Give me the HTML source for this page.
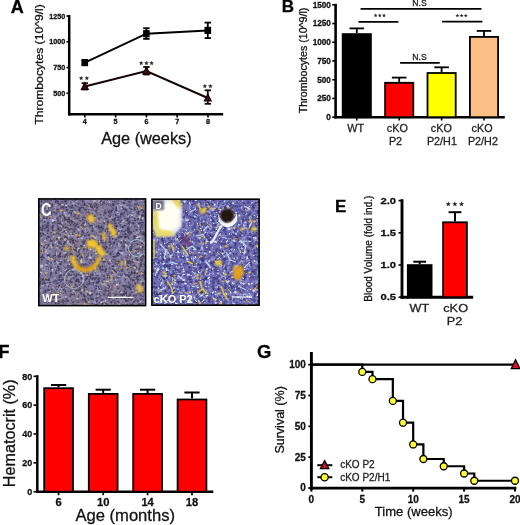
<!DOCTYPE html>
<html><head><meta charset="utf-8"><style>
html,body{margin:0;padding:0;background:#fff;}
body{width:520px;height:525px;overflow:hidden;}
svg{display:block;will-change:transform;font-family:"Liberation Sans",sans-serif;}
</style></head><body>
<svg width="520" height="525" viewBox="0 0 520 525">
<rect width="520" height="525" fill="#fff"/>
<text transform="translate(10.70 12.70)" font-size="18" font-weight="bold" text-anchor="start" fill="#000" stroke="#000" stroke-width="0.28">A</text>
<text transform="translate(43.00 64.50) rotate(-90) scale(1.014 0.970)" font-size="12" font-weight="normal" text-anchor="middle" fill="#111" stroke="#111" stroke-width="0.28">Thrombocytes (10^9/l)</text>
<line x1="69.20" y1="15.00" x2="69.20" y2="115.50" stroke="#000" stroke-width="2.5" stroke-linecap="butt"/>
<line x1="68.00" y1="114.30" x2="223.20" y2="114.30" stroke="#000" stroke-width="2.5" stroke-linecap="butt"/>
<line x1="66.40" y1="93.30" x2="69.20" y2="93.30" stroke="#000" stroke-width="1.6" stroke-linecap="butt"/>
<text transform="translate(65.30 95.90)" font-size="7.2" font-weight="bold" text-anchor="end" fill="#111" stroke="#111" stroke-width="0.28">500</text>
<line x1="66.40" y1="67.55" x2="69.20" y2="67.55" stroke="#000" stroke-width="1.6" stroke-linecap="butt"/>
<text transform="translate(65.30 70.15)" font-size="7.2" font-weight="bold" text-anchor="end" fill="#111" stroke="#111" stroke-width="0.28">750</text>
<line x1="66.40" y1="41.80" x2="69.20" y2="41.80" stroke="#000" stroke-width="1.6" stroke-linecap="butt"/>
<text transform="translate(65.30 44.40)" font-size="7.2" font-weight="bold" text-anchor="end" fill="#111" stroke="#111" stroke-width="0.28">1000</text>
<line x1="66.40" y1="16.05" x2="69.20" y2="16.05" stroke="#000" stroke-width="1.6" stroke-linecap="butt"/>
<text transform="translate(65.30 18.65)" font-size="7.2" font-weight="bold" text-anchor="end" fill="#111" stroke="#111" stroke-width="0.28">1250</text>
<line x1="84.80" y1="114.00" x2="84.80" y2="117.40" stroke="#000" stroke-width="1.6" stroke-linecap="butt"/>
<text transform="translate(84.80 124.30)" font-size="7.2" font-weight="bold" text-anchor="middle" fill="#111" stroke="#111" stroke-width="0.28">4</text>
<line x1="115.60" y1="114.00" x2="115.60" y2="117.40" stroke="#000" stroke-width="1.6" stroke-linecap="butt"/>
<text transform="translate(115.60 124.30)" font-size="7.2" font-weight="bold" text-anchor="middle" fill="#111" stroke="#111" stroke-width="0.28">5</text>
<line x1="146.40" y1="114.00" x2="146.40" y2="117.40" stroke="#000" stroke-width="1.6" stroke-linecap="butt"/>
<text transform="translate(146.40 124.30)" font-size="7.2" font-weight="bold" text-anchor="middle" fill="#111" stroke="#111" stroke-width="0.28">6</text>
<line x1="177.20" y1="114.00" x2="177.20" y2="117.40" stroke="#000" stroke-width="1.6" stroke-linecap="butt"/>
<text transform="translate(177.20 124.30)" font-size="7.2" font-weight="bold" text-anchor="middle" fill="#111" stroke="#111" stroke-width="0.28">7</text>
<line x1="208.00" y1="114.00" x2="208.00" y2="117.40" stroke="#000" stroke-width="1.6" stroke-linecap="butt"/>
<text transform="translate(208.00 124.30)" font-size="7.2" font-weight="bold" text-anchor="middle" fill="#111" stroke="#111" stroke-width="0.28">8</text>
<text transform="translate(146.40 144.10)" font-size="16.27" font-weight="normal" text-anchor="middle" fill="#111" stroke="#111" stroke-width="0.28">Age (weeks)</text>
<polyline points="84.8,62.6 146.4,33.7 207.8,30.4" fill="none" stroke="#000" stroke-width="2"/>
<line x1="84.80" y1="60.50" x2="84.80" y2="64.50" stroke="#000" stroke-width="1.8" stroke-linecap="butt"/>
<line x1="81.60" y1="60.50" x2="88.00" y2="60.50" stroke="#000" stroke-width="1.8" stroke-linecap="butt"/>
<line x1="81.60" y1="64.50" x2="88.00" y2="64.50" stroke="#000" stroke-width="1.8" stroke-linecap="butt"/>
<rect x="81.50" y="59.00" width="6.60" height="7.20" fill="#000"/>
<line x1="146.40" y1="28.20" x2="146.40" y2="38.90" stroke="#000" stroke-width="1.8" stroke-linecap="butt"/>
<line x1="143.20" y1="28.20" x2="149.60" y2="28.20" stroke="#000" stroke-width="1.8" stroke-linecap="butt"/>
<line x1="143.20" y1="38.90" x2="149.60" y2="38.90" stroke="#000" stroke-width="1.8" stroke-linecap="butt"/>
<rect x="143.10" y="30.10" width="6.60" height="7.20" fill="#000"/>
<line x1="207.80" y1="22.60" x2="207.80" y2="38.10" stroke="#000" stroke-width="1.8" stroke-linecap="butt"/>
<line x1="204.60" y1="22.60" x2="211.00" y2="22.60" stroke="#000" stroke-width="1.8" stroke-linecap="butt"/>
<line x1="204.60" y1="38.10" x2="211.00" y2="38.10" stroke="#000" stroke-width="1.8" stroke-linecap="butt"/>
<rect x="204.50" y="26.80" width="6.60" height="7.20" fill="#000"/>
<polyline points="84.8,86.5 146.4,71.0 207.8,98.0" fill="none" stroke="#140304" stroke-width="2"/>
<line x1="84.80" y1="83.20" x2="84.80" y2="89.50" stroke="#140304" stroke-width="1.8" stroke-linecap="butt"/>
<line x1="81.60" y1="83.20" x2="88.00" y2="83.20" stroke="#140304" stroke-width="1.8" stroke-linecap="butt"/>
<line x1="81.60" y1="89.50" x2="88.00" y2="89.50" stroke="#140304" stroke-width="1.8" stroke-linecap="butt"/>
<polygon points="84.8,82.9 88.2,89.3 81.39999999999999,89.3" fill="#400c18" stroke="#140304" stroke-width="1.2"/>
<line x1="146.40" y1="67.00" x2="146.40" y2="74.50" stroke="#140304" stroke-width="1.8" stroke-linecap="butt"/>
<line x1="143.20" y1="67.00" x2="149.60" y2="67.00" stroke="#140304" stroke-width="1.8" stroke-linecap="butt"/>
<line x1="143.20" y1="74.50" x2="149.60" y2="74.50" stroke="#140304" stroke-width="1.8" stroke-linecap="butt"/>
<polygon points="146.4,67.4 149.8,73.8 143.0,73.8" fill="#400c18" stroke="#140304" stroke-width="1.2"/>
<line x1="207.80" y1="90.30" x2="207.80" y2="103.80" stroke="#140304" stroke-width="1.8" stroke-linecap="butt"/>
<line x1="204.60" y1="90.30" x2="211.00" y2="90.30" stroke="#140304" stroke-width="1.8" stroke-linecap="butt"/>
<line x1="204.60" y1="103.80" x2="211.00" y2="103.80" stroke="#140304" stroke-width="1.8" stroke-linecap="butt"/>
<polygon points="207.8,94.4 211.20000000000002,100.8 204.4,100.8" fill="#400c18" stroke="#140304" stroke-width="1.2"/>
<polygon points="81.15,75.65 81.77,77.30 83.53,77.38 82.15,78.47 82.62,80.17 81.15,79.20 79.68,80.17 80.15,78.47 78.77,77.38 80.53,77.30" fill="#2a2a2a"/>
<polygon points="86.85,75.65 87.47,77.30 89.23,77.38 87.85,78.47 88.32,80.17 86.85,79.20 85.38,80.17 85.85,78.47 84.47,77.38 86.23,77.30" fill="#2a2a2a"/>
<polygon points="141.20,60.65 141.82,62.30 143.58,62.38 142.20,63.47 142.67,65.17 141.20,64.20 139.73,65.17 140.20,63.47 138.82,62.38 140.58,62.30" fill="#2a2a2a"/>
<polygon points="146.40,60.65 147.02,62.30 148.78,62.38 147.40,63.47 147.87,65.17 146.40,64.20 144.93,65.17 145.40,63.47 144.02,62.38 145.78,62.30" fill="#2a2a2a"/>
<polygon points="151.60,60.65 152.22,62.30 153.98,62.38 152.60,63.47 153.07,65.17 151.60,64.20 150.13,65.17 150.60,63.47 149.22,62.38 150.98,62.30" fill="#2a2a2a"/>
<polygon points="204.85,83.65 205.47,85.30 207.23,85.38 205.85,86.47 206.32,88.17 204.85,87.20 203.38,88.17 203.85,86.47 202.47,85.38 204.23,85.30" fill="#2a2a2a"/>
<polygon points="210.35,83.65 210.97,85.30 212.73,85.38 211.35,86.47 211.82,88.17 210.35,87.20 208.88,88.17 209.35,86.47 207.97,85.38 209.73,85.30" fill="#2a2a2a"/>
<text transform="translate(281.80 12.20)" font-size="17" font-weight="bold" text-anchor="start" fill="#000" stroke="#000" stroke-width="0.28">B</text>
<text transform="translate(306.90 60.40) rotate(-90) scale(1.015 1.000)" font-size="10.5" font-weight="normal" text-anchor="middle" fill="#111" stroke="#111" stroke-width="0.28">Thrombocytes (10^9/l)</text>
<line x1="335.60" y1="3.80" x2="335.60" y2="118.40" stroke="#000" stroke-width="2.6" stroke-linecap="butt"/>
<line x1="334.30" y1="117.20" x2="504.80" y2="117.20" stroke="#000" stroke-width="2.6" stroke-linecap="butt"/>
<line x1="332.20" y1="117.20" x2="335.60" y2="117.20" stroke="#000" stroke-width="1.6" stroke-linecap="butt"/>
<text transform="translate(330.90 120.10)" font-size="8.2" font-weight="bold" text-anchor="end" fill="#111" stroke="#111" stroke-width="0.28">0</text>
<line x1="332.20" y1="98.47" x2="335.60" y2="98.47" stroke="#000" stroke-width="1.6" stroke-linecap="butt"/>
<text transform="translate(330.90 101.37)" font-size="8.2" font-weight="bold" text-anchor="end" fill="#111" stroke="#111" stroke-width="0.28">250</text>
<line x1="332.20" y1="79.74" x2="335.60" y2="79.74" stroke="#000" stroke-width="1.6" stroke-linecap="butt"/>
<text transform="translate(330.90 82.64)" font-size="8.2" font-weight="bold" text-anchor="end" fill="#111" stroke="#111" stroke-width="0.28">500</text>
<line x1="332.20" y1="61.01" x2="335.60" y2="61.01" stroke="#000" stroke-width="1.6" stroke-linecap="butt"/>
<text transform="translate(330.90 63.91)" font-size="8.2" font-weight="bold" text-anchor="end" fill="#111" stroke="#111" stroke-width="0.28">750</text>
<line x1="332.20" y1="42.28" x2="335.60" y2="42.28" stroke="#000" stroke-width="1.6" stroke-linecap="butt"/>
<text transform="translate(330.90 45.18)" font-size="8.2" font-weight="bold" text-anchor="end" fill="#111" stroke="#111" stroke-width="0.28">1000</text>
<line x1="332.20" y1="23.55" x2="335.60" y2="23.55" stroke="#000" stroke-width="1.6" stroke-linecap="butt"/>
<text transform="translate(330.90 26.45)" font-size="8.2" font-weight="bold" text-anchor="end" fill="#111" stroke="#111" stroke-width="0.28">1250</text>
<line x1="332.20" y1="4.82" x2="335.60" y2="4.82" stroke="#000" stroke-width="1.6" stroke-linecap="butt"/>
<text transform="translate(330.90 7.72)" font-size="8.2" font-weight="bold" text-anchor="end" fill="#111" stroke="#111" stroke-width="0.28">1500</text>
<line x1="356.80" y1="28.40" x2="356.80" y2="33.20" stroke="#000" stroke-width="1.8" stroke-linecap="butt"/>
<line x1="349.50" y1="28.40" x2="364.10" y2="28.40" stroke="#000" stroke-width="1.8" stroke-linecap="butt"/>
<rect x="342.70" y="34.10" width="28.20" height="83.10" fill="#000" stroke="#000" stroke-width="1.8"/>
<line x1="356.80" y1="117.00" x2="356.80" y2="120.50" stroke="#000" stroke-width="1.6" stroke-linecap="butt"/>
<line x1="399.20" y1="77.60" x2="399.20" y2="81.90" stroke="#000" stroke-width="1.8" stroke-linecap="butt"/>
<line x1="391.90" y1="77.60" x2="406.50" y2="77.60" stroke="#000" stroke-width="1.8" stroke-linecap="butt"/>
<rect x="385.10" y="82.80" width="28.20" height="34.40" fill="#ff0000" stroke="#000" stroke-width="1.8"/>
<line x1="399.20" y1="117.00" x2="399.20" y2="120.50" stroke="#000" stroke-width="1.6" stroke-linecap="butt"/>
<line x1="441.60" y1="67.30" x2="441.60" y2="72.10" stroke="#000" stroke-width="1.8" stroke-linecap="butt"/>
<line x1="434.30" y1="67.30" x2="448.90" y2="67.30" stroke="#000" stroke-width="1.8" stroke-linecap="butt"/>
<rect x="427.50" y="73.00" width="28.20" height="44.20" fill="#ffff00" stroke="#000" stroke-width="1.8"/>
<line x1="441.60" y1="117.00" x2="441.60" y2="120.50" stroke="#000" stroke-width="1.6" stroke-linecap="butt"/>
<line x1="484.00" y1="30.90" x2="484.00" y2="36.00" stroke="#000" stroke-width="1.8" stroke-linecap="butt"/>
<line x1="476.70" y1="30.90" x2="491.30" y2="30.90" stroke="#000" stroke-width="1.8" stroke-linecap="butt"/>
<rect x="469.90" y="36.90" width="28.20" height="80.30" fill="#fbbe84" stroke="#000" stroke-width="1.8"/>
<line x1="484.00" y1="117.00" x2="484.00" y2="120.50" stroke="#000" stroke-width="1.6" stroke-linecap="butt"/>
<text transform="translate(355.60 132.10)" font-size="10.8" font-weight="normal" text-anchor="middle" fill="#222" stroke="#222" stroke-width="0.28">WT</text>
<text transform="translate(397.30 132.10)" font-size="10.8" font-weight="normal" text-anchor="middle" fill="#222" stroke="#222" stroke-width="0.28">cKO</text>
<text transform="translate(395.50 144.90)" font-size="10.8" font-weight="normal" text-anchor="middle" fill="#222" stroke="#222" stroke-width="0.28">P2</text>
<text transform="translate(441.30 132.10)" font-size="10.8" font-weight="normal" text-anchor="middle" fill="#222" stroke="#222" stroke-width="0.28">cKO</text>
<text transform="translate(441.90 144.90)" font-size="10.8" font-weight="normal" text-anchor="middle" fill="#222" stroke="#222" stroke-width="0.28">P2/H1</text>
<text transform="translate(482.10 132.10)" font-size="10.8" font-weight="normal" text-anchor="middle" fill="#222" stroke="#222" stroke-width="0.28">cKO</text>
<text transform="translate(482.90 144.90)" font-size="10.8" font-weight="normal" text-anchor="middle" fill="#222" stroke="#222" stroke-width="0.28">P2/H2</text>
<line x1="360.60" y1="8.90" x2="481.50" y2="8.90" stroke="#000" stroke-width="1.8" stroke-linecap="butt"/>
<text transform="translate(419.50 6.10)" font-size="8.7" font-weight="normal" text-anchor="middle" fill="#222" stroke="#222" stroke-width="0.28">N.S</text>
<line x1="358.50" y1="21.90" x2="398.40" y2="21.90" stroke="#000" stroke-width="1.8" stroke-linecap="butt"/>
<polygon points="375.60,13.41 376.12,14.80 377.60,14.86 376.44,15.78 376.83,17.21 375.60,16.39 374.37,17.21 374.76,15.78 373.60,14.86 375.08,14.80" fill="#2a2a2a"/>
<polygon points="379.80,13.41 380.32,14.80 381.80,14.86 380.64,15.78 381.03,17.21 379.80,16.39 378.57,17.21 378.96,15.78 377.80,14.86 379.28,14.80" fill="#2a2a2a"/>
<polygon points="384.00,13.41 384.52,14.80 386.00,14.86 384.84,15.78 385.23,17.21 384.00,16.39 382.77,17.21 383.16,15.78 382.00,14.86 383.48,14.80" fill="#2a2a2a"/>
<line x1="442.10" y1="21.70" x2="482.40" y2="21.70" stroke="#000" stroke-width="1.8" stroke-linecap="butt"/>
<polygon points="457.40,13.51 457.92,14.90 459.40,14.96 458.24,15.88 458.63,17.31 457.40,16.49 456.17,17.31 456.56,15.88 455.40,14.96 456.88,14.90" fill="#2a2a2a"/>
<polygon points="461.60,13.51 462.12,14.90 463.60,14.96 462.44,15.88 462.83,17.31 461.60,16.49 460.37,17.31 460.76,15.88 459.60,14.96 461.08,14.90" fill="#2a2a2a"/>
<polygon points="465.80,13.51 466.32,14.90 467.80,14.96 466.64,15.88 467.03,17.31 465.80,16.49 464.57,17.31 464.96,15.88 463.80,14.96 465.28,14.90" fill="#2a2a2a"/>
<line x1="400.10" y1="62.80" x2="439.70" y2="62.80" stroke="#000" stroke-width="1.8" stroke-linecap="butt"/>
<text transform="translate(419.50 60.00)" font-size="8.7" font-weight="normal" text-anchor="middle" fill="#222" stroke="#222" stroke-width="0.28">N.S</text>
<text transform="translate(335.00 212.20)" font-size="17" font-weight="bold" text-anchor="start" fill="#000" stroke="#000" stroke-width="0.28">E</text>
<text transform="translate(372.30 248.70) rotate(-90) scale(1.000 1.080)" font-size="10" font-weight="normal" text-anchor="middle" fill="#111" stroke="#111" stroke-width="0.28">Blood Volume (fold ind.)</text>
<line x1="402.00" y1="199.20" x2="402.00" y2="298.60" stroke="#000" stroke-width="2.9" stroke-linecap="butt"/>
<line x1="400.60" y1="297.20" x2="473.20" y2="297.20" stroke="#000" stroke-width="2.9" stroke-linecap="butt"/>
<line x1="398.50" y1="297.20" x2="402.00" y2="297.20" stroke="#000" stroke-width="1.6" stroke-linecap="butt"/>
<text transform="translate(396.00 300.40) scale(1.170 1.000)" font-size="9.6" font-weight="bold" text-anchor="end" fill="#111" stroke="#111" stroke-width="0.28">0.5</text>
<line x1="398.50" y1="265.00" x2="402.00" y2="265.00" stroke="#000" stroke-width="1.6" stroke-linecap="butt"/>
<text transform="translate(396.00 268.20) scale(1.170 1.000)" font-size="9.6" font-weight="bold" text-anchor="end" fill="#111" stroke="#111" stroke-width="0.28">1.0</text>
<line x1="398.50" y1="232.80" x2="402.00" y2="232.80" stroke="#000" stroke-width="1.6" stroke-linecap="butt"/>
<text transform="translate(396.00 236.00) scale(1.170 1.000)" font-size="9.6" font-weight="bold" text-anchor="end" fill="#111" stroke="#111" stroke-width="0.28">1.5</text>
<line x1="398.50" y1="200.60" x2="402.00" y2="200.60" stroke="#000" stroke-width="1.6" stroke-linecap="butt"/>
<text transform="translate(396.00 203.80) scale(1.170 1.000)" font-size="9.6" font-weight="bold" text-anchor="end" fill="#111" stroke="#111" stroke-width="0.28">2.0</text>
<line x1="419.70" y1="261.70" x2="419.70" y2="264.20" stroke="#000" stroke-width="2" stroke-linecap="butt"/>
<line x1="413.30" y1="261.70" x2="426.10" y2="261.70" stroke="#000" stroke-width="2" stroke-linecap="butt"/>
<rect x="407.80" y="265.10" width="23.80" height="32.10" fill="#000" stroke="#000" stroke-width="1.8"/>
<line x1="455.00" y1="212.20" x2="455.00" y2="221.40" stroke="#000" stroke-width="2" stroke-linecap="butt"/>
<line x1="448.60" y1="212.20" x2="461.40" y2="212.20" stroke="#000" stroke-width="2" stroke-linecap="butt"/>
<rect x="443.10" y="222.30" width="23.80" height="74.90" fill="#ff0000" stroke="#000" stroke-width="1.8"/>
<text transform="translate(419.40 311.80) scale(1.150 1.000)" font-size="11" font-weight="normal" text-anchor="middle" fill="#222" stroke="#222" stroke-width="0.28">WT</text>
<text transform="translate(455.65 311.80) scale(1.160 1.000)" font-size="11" font-weight="normal" text-anchor="middle" fill="#222" stroke="#222" stroke-width="0.28">cKO</text>
<text transform="translate(454.50 324.70) scale(1.150 1.000)" font-size="11" font-weight="normal" text-anchor="middle" fill="#222" stroke="#222" stroke-width="0.28">P2</text>
<polygon points="448.30,201.33 448.98,203.14 450.92,203.23 449.40,204.43 449.92,206.30 448.30,205.23 446.68,206.30 447.20,204.43 445.68,203.23 447.62,203.14" fill="#222"/>
<polygon points="454.90,201.33 455.58,203.14 457.52,203.23 456.00,204.43 456.52,206.30 454.90,205.23 453.28,206.30 453.80,204.43 452.28,203.23 454.22,203.14" fill="#222"/>
<polygon points="461.50,201.33 462.18,203.14 464.12,203.23 462.60,204.43 463.12,206.30 461.50,205.23 459.88,206.30 460.40,204.43 458.88,203.23 460.82,203.14" fill="#222"/>
<text transform="translate(-1.40 357.60)" font-size="18" font-weight="bold" text-anchor="start" fill="#000" stroke="#000" stroke-width="0.28">F</text>
<text transform="translate(14.90 433.30) rotate(-90) scale(1.010 1.000)" font-size="16" font-weight="normal" text-anchor="middle" fill="#111" stroke="#111" stroke-width="0.28">Hematocrit (%)</text>
<line x1="37.30" y1="375.20" x2="37.30" y2="492.80" stroke="#000" stroke-width="2.5" stroke-linecap="butt"/>
<line x1="36.10" y1="491.70" x2="213.30" y2="491.70" stroke="#000" stroke-width="2.5" stroke-linecap="butt"/>
<line x1="33.50" y1="491.70" x2="37.30" y2="491.70" stroke="#000" stroke-width="1.6" stroke-linecap="butt"/>
<text transform="translate(32.30 494.90)" font-size="9" font-weight="bold" text-anchor="end" fill="#111" stroke="#111" stroke-width="0.28">0</text>
<line x1="33.50" y1="462.85" x2="37.30" y2="462.85" stroke="#000" stroke-width="1.6" stroke-linecap="butt"/>
<text transform="translate(32.30 466.05)" font-size="9" font-weight="bold" text-anchor="end" fill="#111" stroke="#111" stroke-width="0.28">20</text>
<line x1="33.50" y1="434.00" x2="37.30" y2="434.00" stroke="#000" stroke-width="1.6" stroke-linecap="butt"/>
<text transform="translate(32.30 437.20)" font-size="9" font-weight="bold" text-anchor="end" fill="#111" stroke="#111" stroke-width="0.28">40</text>
<line x1="33.50" y1="405.15" x2="37.30" y2="405.15" stroke="#000" stroke-width="1.6" stroke-linecap="butt"/>
<text transform="translate(32.30 408.35)" font-size="9" font-weight="bold" text-anchor="end" fill="#111" stroke="#111" stroke-width="0.28">60</text>
<line x1="33.50" y1="376.30" x2="37.30" y2="376.30" stroke="#000" stroke-width="1.6" stroke-linecap="butt"/>
<text transform="translate(32.30 379.50)" font-size="9" font-weight="bold" text-anchor="end" fill="#111" stroke="#111" stroke-width="0.28">80</text>
<line x1="58.60" y1="385.00" x2="58.60" y2="387.30" stroke="#000" stroke-width="2" stroke-linecap="butt"/>
<line x1="51.00" y1="385.00" x2="66.20" y2="385.00" stroke="#000" stroke-width="2" stroke-linecap="butt"/>
<rect x="44.20" y="388.20" width="28.80" height="103.50" fill="#ff0000" stroke="#000" stroke-width="1.8"/>
<line x1="103.20" y1="389.70" x2="103.20" y2="393.00" stroke="#000" stroke-width="2" stroke-linecap="butt"/>
<line x1="95.60" y1="389.70" x2="110.80" y2="389.70" stroke="#000" stroke-width="2" stroke-linecap="butt"/>
<rect x="88.80" y="393.90" width="28.80" height="97.80" fill="#ff0000" stroke="#000" stroke-width="1.8"/>
<line x1="147.60" y1="389.70" x2="147.60" y2="393.00" stroke="#000" stroke-width="2" stroke-linecap="butt"/>
<line x1="140.00" y1="389.70" x2="155.20" y2="389.70" stroke="#000" stroke-width="2" stroke-linecap="butt"/>
<rect x="133.20" y="393.90" width="28.80" height="97.80" fill="#ff0000" stroke="#000" stroke-width="1.8"/>
<line x1="192.00" y1="392.50" x2="192.00" y2="398.60" stroke="#000" stroke-width="2" stroke-linecap="butt"/>
<line x1="184.40" y1="392.50" x2="199.60" y2="392.50" stroke="#000" stroke-width="2" stroke-linecap="butt"/>
<rect x="177.60" y="399.50" width="28.80" height="92.20" fill="#ff0000" stroke="#000" stroke-width="1.8"/>
<line x1="58.60" y1="491.50" x2="58.60" y2="495.20" stroke="#000" stroke-width="1.8" stroke-linecap="butt"/>
<text transform="translate(58.60 506.20)" font-size="11.2" font-weight="bold" text-anchor="middle" fill="#111" stroke="#111" stroke-width="0.28">6</text>
<line x1="103.20" y1="491.50" x2="103.20" y2="495.20" stroke="#000" stroke-width="1.8" stroke-linecap="butt"/>
<text transform="translate(103.20 506.20)" font-size="11.2" font-weight="bold" text-anchor="middle" fill="#111" stroke="#111" stroke-width="0.28">10</text>
<line x1="147.60" y1="491.50" x2="147.60" y2="495.20" stroke="#000" stroke-width="1.8" stroke-linecap="butt"/>
<text transform="translate(147.60 506.20)" font-size="11.2" font-weight="bold" text-anchor="middle" fill="#111" stroke="#111" stroke-width="0.28">14</text>
<line x1="192.00" y1="491.50" x2="192.00" y2="495.20" stroke="#000" stroke-width="1.8" stroke-linecap="butt"/>
<text transform="translate(192.00 506.20)" font-size="11.2" font-weight="bold" text-anchor="middle" fill="#111" stroke="#111" stroke-width="0.28">18</text>
<text transform="translate(125.20 521.30)" font-size="16.6" font-weight="normal" text-anchor="middle" fill="#111" stroke="#111" stroke-width="0.28">Age (months)</text>
<text transform="translate(257.00 357.60)" font-size="18.5" font-weight="bold" text-anchor="start" fill="#000" stroke="#000" stroke-width="0.28">G</text>
<text transform="translate(284.00 419.90) rotate(-90) scale(1.044 1.000)" font-size="12" font-weight="normal" text-anchor="middle" fill="#111" stroke="#111" stroke-width="0.28">Survival (%)</text>
<line x1="311.40" y1="352.00" x2="311.40" y2="489.60" stroke="#000" stroke-width="2.9" stroke-linecap="butt"/>
<line x1="310.00" y1="488.10" x2="516.40" y2="488.10" stroke="#000" stroke-width="2.9" stroke-linecap="butt"/>
<line x1="308.30" y1="488.00" x2="311.40" y2="488.00" stroke="#000" stroke-width="1.8" stroke-linecap="butt"/>
<text transform="translate(305.90 491.45)" font-size="10" font-weight="bold" text-anchor="end" fill="#111" stroke="#111" stroke-width="0.28">0</text>
<line x1="308.30" y1="457.16" x2="311.40" y2="457.16" stroke="#000" stroke-width="1.8" stroke-linecap="butt"/>
<text transform="translate(305.90 460.61)" font-size="10" font-weight="bold" text-anchor="end" fill="#111" stroke="#111" stroke-width="0.28">25</text>
<line x1="308.30" y1="426.32" x2="311.40" y2="426.32" stroke="#000" stroke-width="1.8" stroke-linecap="butt"/>
<text transform="translate(305.90 429.77)" font-size="10" font-weight="bold" text-anchor="end" fill="#111" stroke="#111" stroke-width="0.28">50</text>
<line x1="308.30" y1="395.49" x2="311.40" y2="395.49" stroke="#000" stroke-width="1.8" stroke-linecap="butt"/>
<text transform="translate(305.90 398.94)" font-size="10" font-weight="bold" text-anchor="end" fill="#111" stroke="#111" stroke-width="0.28">75</text>
<line x1="308.30" y1="364.65" x2="311.40" y2="364.65" stroke="#000" stroke-width="1.8" stroke-linecap="butt"/>
<text transform="translate(305.90 368.10)" font-size="10" font-weight="bold" text-anchor="end" fill="#111" stroke="#111" stroke-width="0.28">100</text>
<line x1="311.40" y1="488.00" x2="311.40" y2="491.60" stroke="#000" stroke-width="2" stroke-linecap="butt"/>
<text transform="translate(311.40 502.70)" font-size="10" font-weight="bold" text-anchor="middle" fill="#111" stroke="#111" stroke-width="0.28">0</text>
<line x1="362.30" y1="488.00" x2="362.30" y2="491.60" stroke="#000" stroke-width="2" stroke-linecap="butt"/>
<text transform="translate(362.30 502.70)" font-size="10" font-weight="bold" text-anchor="middle" fill="#111" stroke="#111" stroke-width="0.28">5</text>
<line x1="413.20" y1="488.00" x2="413.20" y2="491.60" stroke="#000" stroke-width="2" stroke-linecap="butt"/>
<text transform="translate(413.20 502.70)" font-size="10" font-weight="bold" text-anchor="middle" fill="#111" stroke="#111" stroke-width="0.28">10</text>
<line x1="464.10" y1="488.00" x2="464.10" y2="491.60" stroke="#000" stroke-width="2" stroke-linecap="butt"/>
<text transform="translate(464.10 502.70)" font-size="10" font-weight="bold" text-anchor="middle" fill="#111" stroke="#111" stroke-width="0.28">15</text>
<line x1="515.00" y1="488.00" x2="515.00" y2="491.60" stroke="#000" stroke-width="2" stroke-linecap="butt"/>
<text transform="translate(515.00 502.70)" font-size="10" font-weight="bold" text-anchor="middle" fill="#111" stroke="#111" stroke-width="0.28">20</text>
<text transform="translate(413.75 516.00)" font-size="13.05" font-weight="normal" text-anchor="middle" fill="#111" stroke="#111" stroke-width="0.28">Time (weeks)</text>
<line x1="311.40" y1="364.65" x2="514.00" y2="364.65" stroke="#000" stroke-width="2.2" stroke-linecap="butt"/>
<polyline points="311.40,364.65 362.30,364.65 362.30,371.91 372.48,371.91 372.48,379.16 392.84,379.16 392.84,400.93 403.02,400.93 403.02,422.70 413.20,422.70 413.20,444.46 423.38,444.46 423.38,458.98 443.74,458.98 443.74,466.23 464.10,466.23 464.10,473.49 474.28,473.49 474.28,480.74 515.00,480.74" fill="none" stroke="#000" stroke-width="2.2"/>
<circle cx="362.30" cy="371.91" r="3.5" fill="#ffff33" stroke="#000" stroke-width="1.3"/>
<circle cx="372.48" cy="379.16" r="3.5" fill="#ffff33" stroke="#000" stroke-width="1.3"/>
<circle cx="392.84" cy="400.93" r="3.5" fill="#ffff33" stroke="#000" stroke-width="1.3"/>
<circle cx="403.02" cy="422.70" r="3.5" fill="#ffff33" stroke="#000" stroke-width="1.3"/>
<circle cx="413.20" cy="444.46" r="3.5" fill="#ffff33" stroke="#000" stroke-width="1.3"/>
<circle cx="423.38" cy="458.98" r="3.5" fill="#ffff33" stroke="#000" stroke-width="1.3"/>
<circle cx="443.74" cy="466.23" r="3.5" fill="#ffff33" stroke="#000" stroke-width="1.3"/>
<circle cx="464.10" cy="473.49" r="3.5" fill="#ffff33" stroke="#000" stroke-width="1.3"/>
<circle cx="474.28" cy="480.74" r="3.5" fill="#ffff33" stroke="#000" stroke-width="1.3"/>
<circle cx="515.00" cy="480.74" r="3.5" fill="#ffff33" stroke="#000" stroke-width="1.3"/>
<polygon points="515.60,359.75 519.90,368.55 511.30,368.55" fill="#d8102a" stroke="#000" stroke-width="1.3"/>
<line x1="317.30" y1="465.20" x2="332.30" y2="465.20" stroke="#000" stroke-width="2" stroke-linecap="butt"/>
<polygon points="324.60,460.60 328.80,468.60 320.40,468.60" fill="#c81020" stroke="#000" stroke-width="1.3"/>
<line x1="317.30" y1="477.20" x2="332.30" y2="477.20" stroke="#000" stroke-width="2" stroke-linecap="butt"/>
<circle cx="324.6" cy="477.2" r="3.6" fill="#ffff33" stroke="#000" stroke-width="1.3"/>
<text transform="translate(340.20 468.30)" font-size="10" font-weight="normal" text-anchor="start" fill="#222" stroke="#222" stroke-width="0.28">cKO P2</text>
<text transform="translate(340.20 480.60)" font-size="10" font-weight="normal" text-anchor="start" fill="#222" stroke="#222" stroke-width="0.28">cKO P2/H1</text>
<filter id="soft0" x="-20%" y="-20%" width="140%" height="140%"><feGaussianBlur stdDeviation="0.4"/></filter>
<filter id="soft" x="-20%" y="-20%" width="140%" height="140%"><feGaussianBlur stdDeviation="0.8"/></filter>
<filter id="soft2" x="-20%" y="-20%" width="140%" height="140%"><feGaussianBlur stdDeviation="1.5"/></filter>
<clipPath id="clipC"><rect x="39" y="199" width="106" height="107"/></clipPath>
<filter id="texC" filterUnits="userSpaceOnUse" x="39" y="199" width="106" height="107" color-interpolation-filters="sRGB"><feTurbulence type="fractalNoise" baseFrequency="0.28" numOctaves="4" seed="3"/><feColorMatrix type="matrix" values="1 0 0 0 0  1 0 0 0 0  1 0 0 0 0  0 0 0 0 1"/><feComponentTransfer><feFuncR type="table" tableValues="0.235 0.353 0.455 0.525 0.604 0.722"/><feFuncG type="table" tableValues="0.212 0.329 0.431 0.502 0.588 0.714"/><feFuncB type="table" tableValues="0.337 0.471 0.580 0.651 0.729 0.824"/></feComponentTransfer></filter>
<filter id="dotC" filterUnits="userSpaceOnUse" x="39" y="199" width="106" height="107" color-interpolation-filters="sRGB"><feTurbulence type="fractalNoise" baseFrequency="0.5" numOctaves="1" seed="10"/><feColorMatrix type="matrix" values="0 0 0 0 0.149  0 0 0 0 0.125  0 0 0 0 0.243  1 0 0 0 0"/><feComponentTransfer><feFuncA type="linear" slope="9" intercept="-4.950"/></feComponentTransfer></filter>
<filter id="litC" filterUnits="userSpaceOnUse" x="39" y="199" width="106" height="107" color-interpolation-filters="sRGB"><feTurbulence type="fractalNoise" baseFrequency="0.25" numOctaves="2" seed="16"/><feColorMatrix type="matrix" values="0 0 0 0 0.784  0 0 0 0 0.769  0 0 0 0 0.824  0 1 0 0 0"/><feComponentTransfer><feFuncA type="linear" slope="7" intercept="-4.480"/></feComponentTransfer></filter>
<g clip-path="url(#clipC)"><g filter="url(#soft0)">
<rect x="39" y="199" width="106" height="107" filter="url(#texC)"/>
<filter id="tintC" filterUnits="userSpaceOnUse" x="39" y="199" width="106" height="107" color-interpolation-filters="sRGB"><feTurbulence type="fractalNoise" baseFrequency="0.035" numOctaves="2" seed="24"/><feColorMatrix type="matrix" values="0 0 0 0 0.549  0 0 0 0 0.471  0 0 0 0 0.471  2.2 0 0 0 -0.85"/></filter>
<rect x="39" y="199" width="106" height="107" filter="url(#tintC)" opacity="0.45"/>
<rect x="39" y="199" width="106" height="107" filter="url(#litC)"/>
<g fill="rgb(38, 32, 62)" opacity="0.65"><circle cx="64.2" cy="257.2" r="0.7"/><circle cx="103.0" cy="266.0" r="0.5"/><circle cx="40.4" cy="288.6" r="0.7"/><circle cx="63.8" cy="305.5" r="0.8"/><circle cx="127.7" cy="250.0" r="0.9"/><circle cx="55.0" cy="266.9" r="1.0"/><circle cx="94.5" cy="278.3" r="0.9"/><circle cx="45.8" cy="280.1" r="0.9"/><circle cx="70.9" cy="202.3" r="1.0"/><circle cx="89.1" cy="275.9" r="1.0"/><circle cx="114.7" cy="297.6" r="0.7"/><circle cx="123.9" cy="246.6" r="1.1"/><circle cx="132.2" cy="209.4" r="0.6"/><circle cx="62.0" cy="302.3" r="0.8"/><circle cx="105.4" cy="231.2" r="0.8"/><circle cx="79.9" cy="236.5" r="0.9"/><circle cx="100.9" cy="295.7" r="0.9"/><circle cx="137.5" cy="290.6" r="1.1"/><circle cx="110.2" cy="216.5" r="1.0"/><circle cx="141.3" cy="295.8" r="0.8"/><circle cx="114.7" cy="221.6" r="1.0"/><circle cx="99.8" cy="229.5" r="0.5"/><circle cx="129.5" cy="304.9" r="0.6"/><circle cx="123.9" cy="242.9" r="0.6"/><circle cx="70.2" cy="281.3" r="1.0"/><circle cx="43.7" cy="264.8" r="0.5"/><circle cx="115.2" cy="234.4" r="1.0"/><circle cx="142.9" cy="253.1" r="1.1"/><circle cx="71.8" cy="207.2" r="0.9"/><circle cx="42.3" cy="220.1" r="0.7"/><circle cx="103.7" cy="215.7" r="0.5"/><circle cx="131.0" cy="232.6" r="1.1"/><circle cx="134.0" cy="239.4" r="0.8"/><circle cx="94.1" cy="267.9" r="0.9"/><circle cx="98.3" cy="265.4" r="1.1"/><circle cx="92.7" cy="245.1" r="0.9"/><circle cx="64.2" cy="231.2" r="1.1"/><circle cx="94.2" cy="257.7" r="0.5"/><circle cx="83.0" cy="261.1" r="0.5"/><circle cx="104.3" cy="266.6" r="0.5"/><circle cx="105.5" cy="248.9" r="0.9"/><circle cx="76.4" cy="274.6" r="0.9"/><circle cx="41.4" cy="205.5" r="0.9"/><circle cx="141.1" cy="225.9" r="0.8"/><circle cx="101.8" cy="233.2" r="0.7"/><circle cx="72.1" cy="238.5" r="0.9"/><circle cx="70.8" cy="239.4" r="1.0"/><circle cx="41.9" cy="259.9" r="0.9"/><circle cx="71.9" cy="222.8" r="1.0"/><circle cx="64.3" cy="219.1" r="0.8"/><circle cx="113.0" cy="209.9" r="0.7"/><circle cx="74.4" cy="288.2" r="0.8"/><circle cx="129.7" cy="217.1" r="0.7"/><circle cx="107.9" cy="293.7" r="0.8"/><circle cx="62.9" cy="211.9" r="0.8"/><circle cx="59.2" cy="285.3" r="1.0"/><circle cx="58.5" cy="228.8" r="1.0"/><circle cx="107.0" cy="285.3" r="0.7"/><circle cx="52.7" cy="230.2" r="1.0"/><circle cx="67.7" cy="236.1" r="0.8"/><circle cx="83.5" cy="242.8" r="1.1"/><circle cx="55.5" cy="199.5" r="1.1"/><circle cx="132.3" cy="304.6" r="0.8"/><circle cx="139.7" cy="298.2" r="0.6"/><circle cx="118.0" cy="288.5" r="0.9"/><circle cx="94.0" cy="229.9" r="0.7"/><circle cx="63.1" cy="206.3" r="0.9"/><circle cx="69.4" cy="285.7" r="0.5"/><circle cx="134.8" cy="273.2" r="1.1"/><circle cx="134.0" cy="295.3" r="0.8"/><circle cx="40.4" cy="278.7" r="0.6"/><circle cx="70.8" cy="269.9" r="0.8"/><circle cx="82.9" cy="299.5" r="0.9"/><circle cx="75.2" cy="226.0" r="1.0"/><circle cx="89.6" cy="282.7" r="0.7"/><circle cx="59.9" cy="256.2" r="1.0"/><circle cx="57.2" cy="283.7" r="1.1"/><circle cx="124.4" cy="287.1" r="0.5"/><circle cx="105.6" cy="291.3" r="0.5"/><circle cx="67.8" cy="227.7" r="0.8"/><circle cx="83.8" cy="249.6" r="1.0"/><circle cx="39.2" cy="204.9" r="0.6"/><circle cx="52.2" cy="206.3" r="1.1"/><circle cx="129.6" cy="208.2" r="0.8"/><circle cx="72.5" cy="232.7" r="0.7"/><circle cx="107.6" cy="261.8" r="0.7"/><circle cx="59.3" cy="234.2" r="0.6"/><circle cx="97.9" cy="275.6" r="0.7"/><circle cx="47.5" cy="218.1" r="0.7"/><circle cx="103.1" cy="282.7" r="0.7"/><circle cx="123.9" cy="265.7" r="0.8"/><circle cx="78.5" cy="252.1" r="0.9"/><circle cx="83.6" cy="273.3" r="0.8"/><circle cx="65.0" cy="256.3" r="0.9"/><circle cx="46.6" cy="244.5" r="0.8"/><circle cx="132.2" cy="299.2" r="0.7"/><circle cx="134.2" cy="283.6" r="0.7"/><circle cx="88.2" cy="212.2" r="1.0"/><circle cx="109.2" cy="293.9" r="1.0"/><circle cx="109.8" cy="277.5" r="0.8"/><circle cx="49.9" cy="261.9" r="0.5"/><circle cx="54.2" cy="281.9" r="0.5"/><circle cx="48.7" cy="209.6" r="1.0"/><circle cx="58.0" cy="201.5" r="1.0"/><circle cx="51.9" cy="289.3" r="0.9"/><circle cx="127.6" cy="300.9" r="0.8"/><circle cx="123.7" cy="202.9" r="1.0"/><circle cx="93.2" cy="275.5" r="0.6"/><circle cx="118.4" cy="299.0" r="0.5"/><circle cx="73.4" cy="259.3" r="1.0"/><circle cx="64.7" cy="218.2" r="0.6"/><circle cx="104.3" cy="279.6" r="0.7"/><circle cx="78.0" cy="241.4" r="0.7"/><circle cx="83.3" cy="207.9" r="0.8"/><circle cx="142.1" cy="243.2" r="0.9"/><circle cx="56.0" cy="272.9" r="1.0"/><circle cx="110.4" cy="254.3" r="0.8"/><circle cx="107.2" cy="295.0" r="0.6"/><circle cx="49.2" cy="279.1" r="1.0"/><circle cx="93.8" cy="246.4" r="0.9"/><circle cx="58.7" cy="227.6" r="0.6"/><circle cx="101.1" cy="232.7" r="0.6"/><circle cx="112.3" cy="301.0" r="0.7"/><circle cx="113.8" cy="243.2" r="1.0"/><circle cx="101.0" cy="227.6" r="0.6"/><circle cx="41.5" cy="250.3" r="0.7"/><circle cx="57.3" cy="237.6" r="0.7"/><circle cx="121.1" cy="214.4" r="1.1"/><circle cx="89.8" cy="263.1" r="0.8"/><circle cx="127.5" cy="286.9" r="0.8"/><circle cx="90.0" cy="276.1" r="1.0"/><circle cx="81.4" cy="277.5" r="1.1"/><circle cx="88.5" cy="223.6" r="0.6"/><circle cx="115.1" cy="271.3" r="1.1"/><circle cx="129.5" cy="224.9" r="0.6"/><circle cx="66.4" cy="219.0" r="0.9"/><circle cx="130.0" cy="295.3" r="0.7"/><circle cx="130.7" cy="232.5" r="0.8"/><circle cx="116.3" cy="208.2" r="0.6"/><circle cx="127.4" cy="230.2" r="0.7"/><circle cx="100.5" cy="271.3" r="0.5"/><circle cx="74.5" cy="245.7" r="0.8"/><circle cx="61.3" cy="261.6" r="1.1"/><circle cx="80.4" cy="257.2" r="0.6"/><circle cx="68.1" cy="270.2" r="0.6"/><circle cx="133.0" cy="296.2" r="0.6"/><circle cx="138.8" cy="239.0" r="1.0"/><circle cx="119.3" cy="230.6" r="0.9"/><circle cx="108.3" cy="285.2" r="0.7"/><circle cx="118.9" cy="301.9" r="0.9"/><circle cx="95.8" cy="211.1" r="0.8"/><circle cx="76.3" cy="275.8" r="0.9"/><circle cx="99.0" cy="218.5" r="0.9"/><circle cx="105.9" cy="218.2" r="1.0"/><circle cx="108.5" cy="212.2" r="1.1"/><circle cx="54.0" cy="234.5" r="0.9"/><circle cx="102.3" cy="258.4" r="0.9"/><circle cx="87.5" cy="232.4" r="0.6"/><circle cx="46.3" cy="275.6" r="1.0"/><circle cx="96.6" cy="278.1" r="0.7"/><circle cx="67.2" cy="240.0" r="1.0"/><circle cx="43.5" cy="253.0" r="0.6"/><circle cx="120.5" cy="236.9" r="0.7"/><circle cx="81.8" cy="256.9" r="1.0"/><circle cx="76.4" cy="289.6" r="0.6"/><circle cx="67.7" cy="209.7" r="0.6"/><circle cx="121.6" cy="276.8" r="0.6"/><circle cx="59.1" cy="243.6" r="0.9"/><circle cx="125.5" cy="279.1" r="0.9"/><circle cx="54.5" cy="241.6" r="0.6"/><circle cx="94.9" cy="259.8" r="0.6"/><circle cx="65.5" cy="282.6" r="0.5"/><circle cx="124.1" cy="294.4" r="1.1"/><circle cx="79.6" cy="258.1" r="0.8"/><circle cx="106.2" cy="303.5" r="0.9"/><circle cx="70.7" cy="291.0" r="0.8"/><circle cx="102.7" cy="276.8" r="0.5"/><circle cx="120.7" cy="269.8" r="0.8"/><circle cx="94.5" cy="248.3" r="0.6"/><circle cx="95.1" cy="203.0" r="0.8"/><circle cx="107.5" cy="246.5" r="0.8"/><circle cx="140.7" cy="294.4" r="0.6"/><circle cx="123.0" cy="265.7" r="0.5"/><circle cx="77.1" cy="224.0" r="0.5"/><circle cx="96.1" cy="298.5" r="0.7"/><circle cx="131.3" cy="273.3" r="0.6"/><circle cx="130.0" cy="263.3" r="1.1"/><circle cx="114.9" cy="278.2" r="0.7"/><circle cx="124.5" cy="298.7" r="1.0"/><circle cx="85.3" cy="280.0" r="0.8"/><circle cx="50.6" cy="203.6" r="0.5"/><circle cx="60.2" cy="216.2" r="0.8"/><circle cx="113.1" cy="256.5" r="0.8"/><circle cx="107.8" cy="231.6" r="0.8"/><circle cx="119.3" cy="242.0" r="0.6"/><circle cx="134.3" cy="276.0" r="0.7"/><circle cx="78.3" cy="255.6" r="0.9"/><circle cx="62.7" cy="199.3" r="0.6"/><circle cx="122.0" cy="214.4" r="0.8"/><circle cx="59.7" cy="221.4" r="0.6"/><circle cx="81.8" cy="217.0" r="0.5"/><circle cx="50.7" cy="217.0" r="0.8"/><circle cx="45.3" cy="201.4" r="0.8"/><circle cx="82.2" cy="274.3" r="0.5"/><circle cx="81.8" cy="241.4" r="0.5"/><circle cx="141.3" cy="222.4" r="0.6"/><circle cx="89.3" cy="216.6" r="0.9"/><circle cx="75.7" cy="212.3" r="0.5"/><circle cx="116.1" cy="228.4" r="1.0"/><circle cx="88.3" cy="298.8" r="0.7"/><circle cx="65.5" cy="227.4" r="1.0"/><circle cx="105.7" cy="235.9" r="0.6"/><circle cx="111.3" cy="302.7" r="0.9"/><circle cx="39.4" cy="202.2" r="0.6"/><circle cx="57.1" cy="202.9" r="0.5"/><circle cx="108.4" cy="295.3" r="0.6"/><circle cx="142.2" cy="250.0" r="1.0"/><circle cx="136.2" cy="299.6" r="0.5"/><circle cx="71.3" cy="263.9" r="1.1"/><circle cx="48.3" cy="230.4" r="1.0"/><circle cx="51.2" cy="240.7" r="0.7"/><circle cx="111.1" cy="298.4" r="0.6"/><circle cx="117.4" cy="277.5" r="1.0"/><circle cx="97.7" cy="297.8" r="0.7"/><circle cx="83.0" cy="223.5" r="1.0"/><circle cx="89.9" cy="227.8" r="0.6"/><circle cx="115.4" cy="263.8" r="0.9"/><circle cx="80.0" cy="251.1" r="0.6"/><circle cx="114.3" cy="201.5" r="0.8"/><circle cx="119.4" cy="271.5" r="0.6"/><circle cx="64.1" cy="289.3" r="0.9"/><circle cx="132.1" cy="292.3" r="0.8"/><circle cx="134.1" cy="277.4" r="0.7"/><circle cx="78.2" cy="206.7" r="0.7"/><circle cx="140.3" cy="210.2" r="0.8"/><circle cx="50.7" cy="207.7" r="0.9"/><circle cx="64.5" cy="204.2" r="0.6"/><circle cx="107.3" cy="261.7" r="0.5"/><circle cx="63.4" cy="302.5" r="0.6"/><circle cx="98.6" cy="243.9" r="1.0"/><circle cx="103.1" cy="283.4" r="0.8"/><circle cx="58.9" cy="218.0" r="0.5"/><circle cx="126.5" cy="211.0" r="0.5"/><circle cx="141.4" cy="220.3" r="1.0"/><circle cx="48.1" cy="248.8" r="0.6"/><circle cx="126.9" cy="264.9" r="0.9"/><circle cx="119.7" cy="292.3" r="0.7"/><circle cx="102.9" cy="246.7" r="0.6"/><circle cx="127.6" cy="262.6" r="1.0"/><circle cx="60.8" cy="256.7" r="0.8"/><circle cx="116.2" cy="207.3" r="0.7"/><circle cx="90.4" cy="206.7" r="0.8"/><circle cx="116.9" cy="244.2" r="0.9"/><circle cx="103.2" cy="221.9" r="0.7"/><circle cx="144.5" cy="234.9" r="0.8"/><circle cx="47.9" cy="222.3" r="0.6"/><circle cx="137.7" cy="276.7" r="1.0"/><circle cx="143.6" cy="264.5" r="1.1"/><circle cx="95.8" cy="243.8" r="1.1"/><circle cx="134.7" cy="300.6" r="0.8"/><circle cx="121.0" cy="242.5" r="1.1"/><circle cx="136.6" cy="230.2" r="1.1"/><circle cx="58.6" cy="209.3" r="0.9"/><circle cx="70.2" cy="254.6" r="0.9"/><circle cx="43.3" cy="278.7" r="0.7"/><circle cx="84.8" cy="235.9" r="0.9"/><circle cx="118.2" cy="229.7" r="0.6"/><circle cx="70.7" cy="243.0" r="0.5"/><circle cx="55.2" cy="280.6" r="0.9"/><circle cx="142.5" cy="303.8" r="1.0"/><circle cx="78.5" cy="216.3" r="0.7"/><circle cx="88.1" cy="255.3" r="0.8"/><circle cx="77.1" cy="290.2" r="0.7"/><circle cx="88.1" cy="293.9" r="1.0"/><circle cx="70.5" cy="225.0" r="1.0"/><circle cx="40.1" cy="213.1" r="0.8"/><circle cx="95.8" cy="216.7" r="0.5"/><circle cx="60.6" cy="281.4" r="0.8"/><circle cx="142.8" cy="283.1" r="1.1"/><circle cx="42.7" cy="218.8" r="0.5"/><circle cx="84.8" cy="235.2" r="0.5"/><circle cx="96.9" cy="209.0" r="0.7"/><circle cx="65.2" cy="284.8" r="0.8"/><circle cx="66.6" cy="203.7" r="0.8"/><circle cx="105.5" cy="271.2" r="1.0"/><circle cx="124.7" cy="225.5" r="0.6"/><circle cx="119.4" cy="283.5" r="0.8"/><circle cx="127.1" cy="258.0" r="0.7"/><circle cx="56.9" cy="200.8" r="0.9"/><circle cx="134.1" cy="296.0" r="0.8"/><circle cx="109.5" cy="298.4" r="1.0"/><circle cx="102.9" cy="243.3" r="0.8"/><circle cx="57.1" cy="218.6" r="0.9"/><circle cx="144.2" cy="257.5" r="0.7"/><circle cx="76.3" cy="247.7" r="1.0"/><circle cx="87.0" cy="301.6" r="0.6"/><circle cx="72.4" cy="254.9" r="0.7"/><circle cx="129.2" cy="287.6" r="1.1"/><circle cx="103.9" cy="202.3" r="0.8"/><circle cx="97.3" cy="251.2" r="0.7"/><circle cx="114.2" cy="296.5" r="0.6"/><circle cx="109.9" cy="238.7" r="0.8"/><circle cx="133.9" cy="301.8" r="0.9"/><circle cx="59.7" cy="297.5" r="0.6"/><circle cx="79.6" cy="287.6" r="0.7"/><circle cx="67.7" cy="300.6" r="1.1"/><circle cx="72.6" cy="241.0" r="0.7"/><circle cx="52.9" cy="225.8" r="1.1"/><circle cx="47.4" cy="223.6" r="0.6"/><circle cx="47.4" cy="255.3" r="0.9"/><circle cx="127.9" cy="266.5" r="1.0"/><circle cx="39.6" cy="229.2" r="1.1"/><circle cx="46.4" cy="227.6" r="0.8"/><circle cx="67.4" cy="257.4" r="0.5"/><circle cx="64.0" cy="301.5" r="0.6"/><circle cx="135.0" cy="218.0" r="1.1"/><circle cx="110.5" cy="268.2" r="0.6"/><circle cx="44.8" cy="280.3" r="0.6"/><circle cx="59.1" cy="287.0" r="1.0"/><circle cx="44.2" cy="301.8" r="0.8"/><circle cx="79.5" cy="210.5" r="0.7"/><circle cx="143.7" cy="229.0" r="0.6"/><circle cx="54.4" cy="212.6" r="0.7"/><circle cx="136.0" cy="207.2" r="0.6"/><circle cx="138.6" cy="305.7" r="1.1"/><circle cx="65.1" cy="236.9" r="1.1"/><circle cx="90.4" cy="274.3" r="0.7"/><circle cx="41.3" cy="236.0" r="0.9"/><circle cx="121.9" cy="259.9" r="0.8"/><circle cx="96.0" cy="246.3" r="0.8"/><circle cx="127.3" cy="220.4" r="0.9"/><circle cx="137.9" cy="289.8" r="0.6"/><circle cx="141.1" cy="288.9" r="0.6"/><circle cx="67.2" cy="220.7" r="0.5"/><circle cx="142.7" cy="242.8" r="1.0"/><circle cx="51.1" cy="200.5" r="1.0"/><circle cx="123.2" cy="305.1" r="0.9"/><circle cx="94.7" cy="281.0" r="0.6"/><circle cx="96.3" cy="246.2" r="0.6"/><circle cx="102.6" cy="233.6" r="0.8"/><circle cx="78.6" cy="233.0" r="0.7"/><circle cx="102.7" cy="303.9" r="1.1"/><circle cx="130.4" cy="288.4" r="0.7"/><circle cx="142.5" cy="227.9" r="0.6"/><circle cx="92.1" cy="277.3" r="0.7"/><circle cx="107.4" cy="229.2" r="1.1"/><circle cx="87.0" cy="250.1" r="0.8"/><circle cx="131.7" cy="304.6" r="0.8"/><circle cx="85.8" cy="265.1" r="0.5"/><circle cx="84.1" cy="289.7" r="1.0"/><circle cx="45.3" cy="290.4" r="0.7"/><circle cx="143.0" cy="238.2" r="0.6"/><circle cx="97.2" cy="293.6" r="0.8"/><circle cx="131.0" cy="275.1" r="0.7"/><circle cx="70.9" cy="253.1" r="0.7"/><circle cx="78.5" cy="268.7" r="1.0"/><circle cx="100.9" cy="214.6" r="0.6"/><circle cx="78.3" cy="264.8" r="0.6"/><circle cx="47.6" cy="233.3" r="0.7"/><circle cx="42.1" cy="256.7" r="1.1"/><circle cx="95.6" cy="277.9" r="1.0"/><circle cx="127.8" cy="296.7" r="0.8"/><circle cx="111.3" cy="211.9" r="1.0"/><circle cx="79.1" cy="249.9" r="1.0"/><circle cx="69.4" cy="219.3" r="1.0"/><circle cx="102.5" cy="208.1" r="0.5"/><circle cx="76.2" cy="199.8" r="1.0"/><circle cx="58.5" cy="228.3" r="0.7"/><circle cx="93.2" cy="245.3" r="0.9"/><circle cx="108.9" cy="245.7" r="0.6"/><circle cx="142.8" cy="273.0" r="0.6"/><circle cx="85.8" cy="279.6" r="1.1"/><circle cx="46.0" cy="200.0" r="0.8"/><circle cx="83.7" cy="294.7" r="1.0"/><circle cx="74.1" cy="243.8" r="0.8"/><circle cx="132.7" cy="220.6" r="0.7"/><circle cx="48.4" cy="267.6" r="0.5"/><circle cx="138.1" cy="255.0" r="0.8"/><circle cx="48.0" cy="223.8" r="0.8"/><circle cx="129.9" cy="256.7" r="0.7"/><circle cx="143.1" cy="269.8" r="0.8"/><circle cx="60.5" cy="230.9" r="1.0"/><circle cx="53.1" cy="255.9" r="0.9"/><circle cx="76.6" cy="281.3" r="1.0"/><circle cx="129.9" cy="278.0" r="0.6"/><circle cx="45.3" cy="245.3" r="0.7"/><circle cx="59.6" cy="292.2" r="0.6"/><circle cx="126.2" cy="299.3" r="0.6"/><circle cx="135.8" cy="241.5" r="0.6"/><circle cx="58.8" cy="203.0" r="0.8"/><circle cx="79.7" cy="290.1" r="1.0"/><circle cx="45.0" cy="241.9" r="0.7"/><circle cx="57.8" cy="225.8" r="0.7"/><circle cx="112.6" cy="235.4" r="0.6"/><circle cx="62.4" cy="246.3" r="0.8"/><circle cx="65.0" cy="273.9" r="0.6"/><circle cx="110.1" cy="264.2" r="0.6"/><circle cx="118.6" cy="241.2" r="0.8"/><circle cx="102.4" cy="266.2" r="0.8"/><circle cx="44.9" cy="283.2" r="1.0"/><circle cx="91.0" cy="261.0" r="0.7"/><circle cx="134.3" cy="272.4" r="0.6"/><circle cx="125.7" cy="304.5" r="0.7"/><circle cx="144.5" cy="250.7" r="0.6"/><circle cx="115.0" cy="235.3" r="0.9"/><circle cx="100.8" cy="210.5" r="0.8"/><circle cx="129.2" cy="250.1" r="0.8"/><circle cx="130.5" cy="246.8" r="0.8"/><circle cx="100.8" cy="287.2" r="0.6"/><circle cx="48.9" cy="280.4" r="0.8"/><circle cx="71.1" cy="294.5" r="1.0"/><circle cx="96.4" cy="304.8" r="1.0"/><circle cx="118.3" cy="230.2" r="0.5"/><circle cx="110.9" cy="277.7" r="0.7"/><circle cx="89.7" cy="259.7" r="0.6"/><circle cx="112.9" cy="259.2" r="0.7"/><circle cx="50.6" cy="258.3" r="0.7"/><circle cx="115.8" cy="217.5" r="0.7"/><circle cx="59.8" cy="242.7" r="0.8"/><circle cx="50.3" cy="204.9" r="0.8"/><circle cx="60.4" cy="253.0" r="0.6"/><circle cx="49.7" cy="256.5" r="1.1"/><circle cx="131.1" cy="254.2" r="0.7"/><circle cx="46.0" cy="228.6" r="0.7"/><circle cx="138.8" cy="211.5" r="1.1"/><circle cx="89.5" cy="245.4" r="0.7"/><circle cx="141.0" cy="218.9" r="0.8"/><circle cx="93.1" cy="220.3" r="0.6"/><circle cx="143.5" cy="283.6" r="0.9"/><circle cx="134.7" cy="209.5" r="0.9"/><circle cx="118.6" cy="223.1" r="0.8"/><circle cx="142.3" cy="234.0" r="1.0"/><circle cx="56.5" cy="270.4" r="0.7"/><circle cx="92.9" cy="238.8" r="1.0"/><circle cx="118.0" cy="252.9" r="0.9"/><circle cx="84.3" cy="285.1" r="0.7"/><circle cx="96.7" cy="261.7" r="0.7"/><circle cx="43.9" cy="217.2" r="0.9"/><circle cx="61.4" cy="280.1" r="0.8"/><circle cx="140.0" cy="289.7" r="0.9"/><circle cx="78.5" cy="203.7" r="0.8"/><circle cx="118.0" cy="297.6" r="0.6"/><circle cx="55.8" cy="303.9" r="0.9"/><circle cx="90.4" cy="278.0" r="0.6"/><circle cx="96.7" cy="270.5" r="0.9"/><circle cx="56.1" cy="213.6" r="0.9"/><circle cx="132.7" cy="213.8" r="0.5"/><circle cx="47.8" cy="283.0" r="0.7"/><circle cx="87.3" cy="305.4" r="0.9"/><circle cx="66.9" cy="274.0" r="0.5"/><circle cx="68.8" cy="273.8" r="0.6"/><circle cx="42.5" cy="254.5" r="0.7"/><circle cx="141.9" cy="209.9" r="1.0"/><circle cx="80.2" cy="285.2" r="0.8"/><circle cx="109.7" cy="233.9" r="0.6"/><circle cx="87.0" cy="284.6" r="0.7"/><circle cx="63.4" cy="243.5" r="0.6"/><circle cx="72.5" cy="260.3" r="0.8"/><circle cx="102.3" cy="230.0" r="0.5"/><circle cx="41.8" cy="235.3" r="0.6"/><circle cx="99.3" cy="227.4" r="1.0"/><circle cx="102.7" cy="269.9" r="0.9"/><circle cx="94.3" cy="244.6" r="0.7"/><circle cx="45.7" cy="284.0" r="0.8"/><circle cx="49.6" cy="298.1" r="0.8"/><circle cx="105.1" cy="245.9" r="0.6"/><circle cx="145.0" cy="217.0" r="0.7"/><circle cx="144.9" cy="212.1" r="0.8"/><circle cx="89.8" cy="225.5" r="1.1"/><circle cx="82.9" cy="200.2" r="0.8"/><circle cx="39.5" cy="274.8" r="1.0"/><circle cx="135.0" cy="204.1" r="0.9"/><circle cx="71.3" cy="249.6" r="0.7"/><circle cx="71.3" cy="213.2" r="0.9"/><circle cx="48.4" cy="302.2" r="0.5"/><circle cx="141.2" cy="219.5" r="0.6"/><circle cx="117.9" cy="255.8" r="1.0"/><circle cx="92.9" cy="266.5" r="0.5"/><circle cx="110.4" cy="253.8" r="1.1"/><circle cx="39.7" cy="206.3" r="0.9"/><circle cx="137.2" cy="244.1" r="0.9"/><circle cx="98.4" cy="240.8" r="0.8"/><circle cx="102.8" cy="202.1" r="0.7"/><circle cx="117.2" cy="226.6" r="0.8"/><circle cx="66.2" cy="237.3" r="0.9"/><circle cx="117.8" cy="301.4" r="0.8"/><circle cx="60.5" cy="235.1" r="0.5"/><circle cx="64.4" cy="261.5" r="0.9"/><circle cx="64.6" cy="218.4" r="0.6"/><circle cx="57.9" cy="252.7" r="0.7"/><circle cx="132.7" cy="259.4" r="0.7"/><circle cx="84.7" cy="203.3" r="0.9"/><circle cx="118.6" cy="237.9" r="0.9"/><circle cx="67.9" cy="222.5" r="0.6"/><circle cx="59.8" cy="263.8" r="0.9"/><circle cx="116.1" cy="210.1" r="1.0"/><circle cx="89.7" cy="239.5" r="0.8"/><circle cx="84.9" cy="220.4" r="0.7"/><circle cx="107.5" cy="275.5" r="1.0"/><circle cx="59.6" cy="294.3" r="1.0"/><circle cx="114.6" cy="303.8" r="0.6"/><circle cx="121.3" cy="295.2" r="0.6"/><circle cx="102.0" cy="300.3" r="0.7"/><circle cx="129.7" cy="296.0" r="0.8"/><circle cx="54.4" cy="222.1" r="1.0"/><circle cx="83.7" cy="232.8" r="0.8"/><circle cx="137.4" cy="226.2" r="0.5"/><circle cx="139.6" cy="232.9" r="0.7"/><circle cx="142.4" cy="229.2" r="0.6"/><circle cx="133.1" cy="225.1" r="0.6"/><circle cx="138.4" cy="223.5" r="1.0"/><circle cx="74.3" cy="231.4" r="0.6"/><circle cx="96.5" cy="258.9" r="0.7"/><circle cx="92.8" cy="230.9" r="1.0"/><circle cx="138.0" cy="279.6" r="1.0"/><circle cx="46.5" cy="225.8" r="0.6"/><circle cx="55.4" cy="302.6" r="1.0"/><circle cx="135.9" cy="258.7" r="0.6"/><circle cx="84.3" cy="205.0" r="1.0"/><circle cx="67.1" cy="229.8" r="1.1"/><circle cx="60.3" cy="297.7" r="0.7"/><circle cx="109.5" cy="210.4" r="1.0"/><circle cx="81.3" cy="235.9" r="0.9"/><circle cx="101.9" cy="225.9" r="0.6"/><circle cx="100.0" cy="201.6" r="1.0"/><circle cx="75.4" cy="217.1" r="0.7"/><circle cx="51.1" cy="232.9" r="0.8"/><circle cx="82.1" cy="234.8" r="0.7"/><circle cx="90.6" cy="282.3" r="0.8"/><circle cx="120.4" cy="250.6" r="0.6"/><circle cx="57.0" cy="289.7" r="0.8"/><circle cx="79.5" cy="254.2" r="1.0"/><circle cx="78.8" cy="237.7" r="0.7"/><circle cx="40.1" cy="257.3" r="0.8"/><circle cx="91.6" cy="247.3" r="0.8"/><circle cx="114.8" cy="218.9" r="1.1"/><circle cx="51.2" cy="291.7" r="0.6"/><circle cx="123.3" cy="226.9" r="0.5"/><circle cx="96.3" cy="288.8" r="1.0"/><circle cx="132.0" cy="303.8" r="0.5"/><circle cx="79.2" cy="210.4" r="1.0"/><circle cx="86.9" cy="278.6" r="1.0"/><circle cx="144.9" cy="271.4" r="1.0"/><circle cx="97.1" cy="207.6" r="1.0"/><circle cx="48.7" cy="208.2" r="1.0"/><circle cx="68.7" cy="269.9" r="0.5"/><circle cx="61.3" cy="275.6" r="0.5"/><circle cx="93.1" cy="299.3" r="0.6"/><circle cx="113.7" cy="278.6" r="0.9"/><circle cx="120.2" cy="273.7" r="0.5"/><circle cx="59.3" cy="256.4" r="1.1"/><circle cx="62.0" cy="261.8" r="0.6"/><circle cx="128.8" cy="246.6" r="0.8"/><circle cx="110.0" cy="213.6" r="0.9"/><circle cx="123.8" cy="291.0" r="0.7"/><circle cx="63.8" cy="216.7" r="1.0"/><circle cx="85.4" cy="240.7" r="0.8"/><circle cx="113.0" cy="233.0" r="0.7"/><circle cx="120.2" cy="282.1" r="0.7"/><circle cx="46.8" cy="298.3" r="0.9"/><circle cx="102.0" cy="242.3" r="1.1"/><circle cx="84.6" cy="222.2" r="0.6"/><circle cx="76.2" cy="263.3" r="0.7"/><circle cx="139.4" cy="268.5" r="0.8"/><circle cx="109.0" cy="263.4" r="0.9"/><circle cx="91.5" cy="255.0" r="0.8"/><circle cx="127.1" cy="219.5" r="1.0"/><circle cx="70.6" cy="289.8" r="0.5"/><circle cx="90.4" cy="246.4" r="0.9"/><circle cx="60.5" cy="227.1" r="0.6"/><circle cx="98.5" cy="260.7" r="0.5"/><circle cx="57.9" cy="220.4" r="1.1"/><circle cx="87.2" cy="259.5" r="0.7"/><circle cx="108.9" cy="286.0" r="0.9"/><circle cx="39.2" cy="246.0" r="0.8"/><circle cx="43.7" cy="283.5" r="0.7"/><circle cx="70.1" cy="265.9" r="0.9"/><circle cx="91.6" cy="290.9" r="0.8"/><circle cx="75.4" cy="205.9" r="0.8"/><circle cx="77.5" cy="256.4" r="0.7"/><circle cx="39.7" cy="203.0" r="0.6"/><circle cx="49.0" cy="290.1" r="0.8"/><circle cx="64.3" cy="275.0" r="0.9"/><circle cx="45.6" cy="279.4" r="0.6"/><circle cx="144.7" cy="214.2" r="0.7"/><circle cx="65.4" cy="291.3" r="1.0"/><circle cx="100.4" cy="214.9" r="0.8"/><circle cx="113.4" cy="205.2" r="1.1"/><circle cx="128.2" cy="298.7" r="0.9"/><circle cx="104.5" cy="303.3" r="0.7"/><circle cx="71.4" cy="212.2" r="0.6"/><circle cx="123.6" cy="209.2" r="0.9"/><circle cx="81.0" cy="292.9" r="1.0"/><circle cx="111.8" cy="289.4" r="0.5"/><circle cx="67.1" cy="238.4" r="0.8"/><circle cx="110.1" cy="293.1" r="0.9"/><circle cx="137.4" cy="273.5" r="0.7"/><circle cx="92.8" cy="279.1" r="1.0"/><circle cx="78.2" cy="237.0" r="0.9"/><circle cx="63.2" cy="293.5" r="0.5"/><circle cx="107.8" cy="251.0" r="0.6"/><circle cx="99.4" cy="249.7" r="1.1"/><circle cx="132.8" cy="261.8" r="1.0"/><circle cx="132.7" cy="216.7" r="1.0"/><circle cx="127.3" cy="305.0" r="1.0"/><circle cx="80.6" cy="221.1" r="0.9"/><circle cx="61.3" cy="280.0" r="0.8"/><circle cx="126.5" cy="237.1" r="0.7"/><circle cx="134.9" cy="269.9" r="0.7"/><circle cx="98.4" cy="245.6" r="0.9"/><circle cx="93.8" cy="229.6" r="1.1"/><circle cx="132.8" cy="280.2" r="0.7"/><circle cx="59.6" cy="277.2" r="1.0"/><circle cx="108.2" cy="221.8" r="0.9"/><circle cx="94.5" cy="238.9" r="0.9"/><circle cx="86.6" cy="268.4" r="1.0"/><circle cx="143.2" cy="210.9" r="0.8"/><circle cx="139.2" cy="269.3" r="0.8"/><circle cx="129.4" cy="202.4" r="1.0"/><circle cx="105.1" cy="261.5" r="0.7"/><circle cx="104.6" cy="212.4" r="0.8"/><circle cx="66.3" cy="298.7" r="1.0"/><circle cx="89.1" cy="279.8" r="0.7"/><circle cx="94.5" cy="216.3" r="1.0"/><circle cx="120.0" cy="280.3" r="0.5"/><circle cx="125.9" cy="200.3" r="0.8"/><circle cx="90.7" cy="205.3" r="0.8"/><circle cx="133.0" cy="265.8" r="0.7"/><circle cx="125.3" cy="237.0" r="1.0"/><circle cx="81.5" cy="207.3" r="1.1"/><circle cx="46.5" cy="226.1" r="1.0"/><circle cx="51.2" cy="257.2" r="1.0"/><circle cx="101.5" cy="236.2" r="1.0"/><circle cx="126.5" cy="261.0" r="0.9"/><circle cx="73.2" cy="242.6" r="1.1"/><circle cx="142.0" cy="199.2" r="0.6"/><circle cx="62.9" cy="283.8" r="0.6"/><circle cx="57.0" cy="280.9" r="0.6"/><circle cx="142.6" cy="247.7" r="1.0"/><circle cx="125.9" cy="221.2" r="1.0"/><circle cx="83.0" cy="222.8" r="0.5"/><circle cx="113.5" cy="259.0" r="0.7"/><circle cx="127.3" cy="220.1" r="0.8"/><circle cx="48.2" cy="236.5" r="1.0"/><circle cx="92.0" cy="215.4" r="0.6"/><circle cx="107.3" cy="228.7" r="1.0"/><circle cx="45.4" cy="292.0" r="0.9"/><circle cx="126.2" cy="236.9" r="0.5"/><circle cx="57.2" cy="266.1" r="0.5"/><circle cx="50.7" cy="282.7" r="1.0"/><circle cx="129.7" cy="288.6" r="0.8"/><circle cx="131.8" cy="273.6" r="0.8"/><circle cx="84.1" cy="201.6" r="0.6"/><circle cx="65.5" cy="248.3" r="0.6"/><circle cx="141.9" cy="260.7" r="0.9"/><circle cx="133.6" cy="223.2" r="1.0"/><circle cx="140.6" cy="227.6" r="0.6"/><circle cx="123.8" cy="294.2" r="1.0"/><circle cx="82.3" cy="263.4" r="0.6"/><circle cx="63.9" cy="243.8" r="0.9"/><circle cx="48.4" cy="298.3" r="0.5"/><circle cx="141.8" cy="224.4" r="1.0"/><circle cx="125.7" cy="301.1" r="0.8"/><circle cx="113.1" cy="230.2" r="1.0"/><circle cx="50.5" cy="293.6" r="0.9"/><circle cx="45.6" cy="299.7" r="0.7"/><circle cx="46.2" cy="226.7" r="0.5"/><circle cx="68.8" cy="275.0" r="1.1"/><circle cx="105.9" cy="290.4" r="1.0"/><circle cx="114.8" cy="240.1" r="0.7"/><circle cx="55.5" cy="257.5" r="0.6"/><circle cx="117.4" cy="233.3" r="0.8"/><circle cx="96.9" cy="266.2" r="0.6"/><circle cx="66.2" cy="272.7" r="0.6"/><circle cx="110.2" cy="302.3" r="0.7"/><circle cx="140.9" cy="264.7" r="1.1"/><circle cx="94.8" cy="279.5" r="0.9"/><circle cx="59.7" cy="254.4" r="0.8"/><circle cx="88.1" cy="269.6" r="1.0"/><circle cx="123.3" cy="285.9" r="0.6"/><circle cx="113.5" cy="266.1" r="1.1"/><circle cx="39.3" cy="217.4" r="1.1"/><circle cx="78.5" cy="274.5" r="0.9"/><circle cx="81.2" cy="245.9" r="0.8"/><circle cx="143.4" cy="256.1" r="1.0"/><circle cx="71.2" cy="275.2" r="0.9"/><circle cx="117.8" cy="293.1" r="0.5"/><circle cx="141.5" cy="264.3" r="0.7"/><circle cx="88.2" cy="209.4" r="0.6"/><circle cx="127.8" cy="275.1" r="1.0"/><circle cx="56.2" cy="210.6" r="0.7"/><circle cx="91.6" cy="275.1" r="0.7"/><circle cx="117.2" cy="261.5" r="0.7"/><circle cx="122.5" cy="206.9" r="0.9"/><circle cx="58.9" cy="203.6" r="0.8"/><circle cx="94.1" cy="264.5" r="0.7"/><circle cx="137.5" cy="282.9" r="0.6"/><circle cx="39.5" cy="301.8" r="0.7"/><circle cx="50.1" cy="218.0" r="0.9"/><circle cx="57.7" cy="238.9" r="0.9"/><circle cx="76.3" cy="268.9" r="1.1"/><circle cx="123.1" cy="266.2" r="0.9"/><circle cx="71.8" cy="267.5" r="0.9"/><circle cx="101.2" cy="251.5" r="1.0"/><circle cx="60.7" cy="275.3" r="1.1"/><circle cx="42.8" cy="226.0" r="1.1"/><circle cx="47.7" cy="286.5" r="0.8"/><circle cx="46.4" cy="266.4" r="0.5"/><circle cx="129.0" cy="231.4" r="1.1"/><circle cx="134.1" cy="213.6" r="0.7"/><circle cx="55.2" cy="280.1" r="0.6"/><circle cx="46.8" cy="211.4" r="1.0"/><circle cx="65.2" cy="233.6" r="0.8"/><circle cx="97.5" cy="243.2" r="1.1"/><circle cx="75.1" cy="249.9" r="1.0"/><circle cx="64.8" cy="217.6" r="1.0"/><circle cx="72.5" cy="294.4" r="1.0"/><circle cx="78.5" cy="234.6" r="0.6"/><circle cx="131.6" cy="246.3" r="0.7"/><circle cx="57.7" cy="223.2" r="1.0"/><circle cx="52.8" cy="258.3" r="0.9"/><circle cx="94.2" cy="252.8" r="0.7"/><circle cx="59.3" cy="286.8" r="1.0"/><circle cx="98.8" cy="225.9" r="1.0"/><circle cx="60.4" cy="217.3" r="0.9"/><circle cx="127.1" cy="260.2" r="0.6"/><circle cx="142.8" cy="215.7" r="0.7"/><circle cx="143.8" cy="283.8" r="1.0"/><circle cx="47.0" cy="290.1" r="0.7"/><circle cx="40.1" cy="283.4" r="1.1"/><circle cx="44.0" cy="247.6" r="1.0"/><circle cx="74.2" cy="231.4" r="1.0"/><circle cx="85.8" cy="305.8" r="1.0"/><circle cx="130.0" cy="274.6" r="0.6"/><circle cx="111.8" cy="260.9" r="0.8"/><circle cx="99.0" cy="231.7" r="0.6"/><circle cx="135.7" cy="238.3" r="0.6"/><circle cx="142.5" cy="253.7" r="0.9"/><circle cx="75.0" cy="214.9" r="0.7"/><circle cx="127.3" cy="228.3" r="1.0"/><circle cx="71.3" cy="295.0" r="0.6"/><circle cx="86.0" cy="212.8" r="0.6"/><circle cx="94.4" cy="238.1" r="0.8"/><circle cx="61.9" cy="232.2" r="0.7"/><circle cx="134.2" cy="207.7" r="0.7"/><circle cx="129.6" cy="260.2" r="0.7"/><circle cx="144.7" cy="210.6" r="0.6"/><circle cx="40.8" cy="246.0" r="1.0"/><circle cx="68.9" cy="229.6" r="1.0"/><circle cx="47.2" cy="200.9" r="0.9"/><circle cx="48.3" cy="255.4" r="0.6"/><circle cx="102.8" cy="290.1" r="0.8"/><circle cx="68.0" cy="265.7" r="0.9"/><circle cx="45.0" cy="224.7" r="0.7"/><circle cx="92.6" cy="228.3" r="0.9"/><circle cx="66.1" cy="295.8" r="0.7"/><circle cx="62.5" cy="207.4" r="0.6"/><circle cx="61.8" cy="293.4" r="0.7"/><circle cx="86.0" cy="301.7" r="1.1"/><circle cx="120.2" cy="224.7" r="0.7"/><circle cx="92.5" cy="226.6" r="0.7"/><circle cx="61.5" cy="224.8" r="0.9"/><circle cx="103.0" cy="246.7" r="0.8"/><circle cx="104.0" cy="272.3" r="0.5"/><circle cx="128.4" cy="248.5" r="0.7"/><circle cx="140.6" cy="280.0" r="0.7"/><circle cx="41.6" cy="245.8" r="0.8"/><circle cx="78.7" cy="209.5" r="0.8"/><circle cx="66.0" cy="280.5" r="0.8"/><circle cx="70.0" cy="287.4" r="0.8"/><circle cx="47.9" cy="228.9" r="0.5"/><circle cx="84.5" cy="296.2" r="1.1"/><circle cx="108.1" cy="215.5" r="0.6"/><circle cx="60.5" cy="238.9" r="0.9"/><circle cx="41.4" cy="251.4" r="0.8"/><circle cx="109.1" cy="287.4" r="0.7"/><circle cx="102.9" cy="228.1" r="0.8"/><circle cx="106.3" cy="204.6" r="0.8"/><circle cx="92.2" cy="218.6" r="0.6"/><circle cx="126.4" cy="236.4" r="0.6"/><circle cx="69.2" cy="254.8" r="0.7"/><circle cx="76.2" cy="233.5" r="0.6"/><circle cx="92.5" cy="263.2" r="0.6"/><circle cx="101.6" cy="231.9" r="1.1"/><circle cx="138.4" cy="213.0" r="0.9"/><circle cx="75.6" cy="210.9" r="1.0"/><circle cx="135.3" cy="283.2" r="0.9"/><circle cx="142.7" cy="258.5" r="0.9"/><circle cx="108.2" cy="290.9" r="1.0"/><circle cx="71.3" cy="221.2" r="0.8"/><circle cx="101.5" cy="236.8" r="1.0"/><circle cx="129.0" cy="272.5" r="0.8"/><circle cx="112.7" cy="219.9" r="1.0"/><circle cx="52.5" cy="295.7" r="0.9"/><circle cx="68.4" cy="219.4" r="0.9"/><circle cx="88.2" cy="273.5" r="0.6"/><circle cx="131.8" cy="244.9" r="0.8"/><circle cx="117.3" cy="263.9" r="0.8"/><circle cx="70.0" cy="248.8" r="0.5"/><circle cx="66.1" cy="287.4" r="0.6"/><circle cx="48.1" cy="289.8" r="0.7"/><circle cx="95.2" cy="261.9" r="0.9"/><circle cx="72.8" cy="281.4" r="0.5"/><circle cx="128.8" cy="232.2" r="0.9"/><circle cx="71.2" cy="279.2" r="0.7"/><circle cx="102.8" cy="233.3" r="1.0"/><circle cx="121.4" cy="220.5" r="1.0"/><circle cx="138.9" cy="224.4" r="0.6"/><circle cx="137.7" cy="302.0" r="0.6"/><circle cx="121.2" cy="298.5" r="0.7"/><circle cx="121.7" cy="230.8" r="1.0"/><circle cx="92.9" cy="249.6" r="0.6"/><circle cx="108.2" cy="273.9" r="0.7"/><circle cx="43.8" cy="208.7" r="0.7"/><circle cx="144.6" cy="278.6" r="1.0"/><circle cx="118.5" cy="213.3" r="0.7"/><circle cx="139.7" cy="290.1" r="1.1"/><circle cx="125.9" cy="275.1" r="1.0"/><circle cx="136.0" cy="244.9" r="0.5"/><circle cx="72.1" cy="200.4" r="0.7"/><circle cx="101.5" cy="228.4" r="0.6"/><circle cx="49.0" cy="237.3" r="0.8"/><circle cx="101.6" cy="299.9" r="0.5"/><circle cx="66.0" cy="207.2" r="1.1"/><circle cx="106.0" cy="269.2" r="1.0"/><circle cx="39.3" cy="295.7" r="0.7"/><circle cx="105.6" cy="242.2" r="0.9"/><circle cx="71.0" cy="228.7" r="0.6"/><circle cx="115.8" cy="247.8" r="0.6"/><circle cx="76.7" cy="259.8" r="0.7"/><circle cx="101.8" cy="289.2" r="0.9"/><circle cx="123.9" cy="231.5" r="1.0"/><circle cx="138.7" cy="255.7" r="0.5"/><circle cx="48.1" cy="280.0" r="1.0"/><circle cx="115.8" cy="253.3" r="0.8"/><circle cx="51.3" cy="263.0" r="1.1"/><circle cx="60.8" cy="264.3" r="1.0"/><circle cx="107.9" cy="236.5" r="0.6"/><circle cx="116.7" cy="298.2" r="1.0"/><circle cx="81.5" cy="278.7" r="1.0"/><circle cx="78.8" cy="279.8" r="0.7"/><circle cx="60.3" cy="199.0" r="0.9"/><circle cx="118.8" cy="203.6" r="0.5"/><circle cx="72.8" cy="221.3" r="0.9"/><circle cx="59.1" cy="261.6" r="0.8"/><circle cx="76.0" cy="290.5" r="0.8"/><circle cx="93.3" cy="270.3" r="0.7"/><circle cx="58.7" cy="301.0" r="1.0"/><circle cx="96.8" cy="252.1" r="0.9"/><circle cx="70.3" cy="206.8" r="0.8"/><circle cx="134.4" cy="209.6" r="1.1"/><circle cx="78.6" cy="305.8" r="1.0"/><circle cx="67.9" cy="221.8" r="1.0"/><circle cx="142.8" cy="285.1" r="0.9"/><circle cx="96.6" cy="282.7" r="1.0"/><circle cx="127.4" cy="229.9" r="1.0"/><circle cx="140.1" cy="260.5" r="0.5"/><circle cx="59.0" cy="268.7" r="0.8"/><circle cx="136.3" cy="267.7" r="0.9"/><circle cx="55.1" cy="255.2" r="0.9"/><circle cx="136.2" cy="295.5" r="0.7"/><circle cx="92.2" cy="303.7" r="0.6"/><circle cx="46.5" cy="218.4" r="0.9"/><circle cx="73.5" cy="274.7" r="1.0"/><circle cx="124.7" cy="203.3" r="0.9"/><circle cx="123.6" cy="274.2" r="1.0"/><circle cx="125.7" cy="264.7" r="1.0"/><circle cx="96.7" cy="210.6" r="0.7"/><circle cx="137.9" cy="235.0" r="0.8"/><circle cx="131.5" cy="272.3" r="1.0"/><circle cx="88.8" cy="253.3" r="0.5"/><circle cx="60.2" cy="215.9" r="0.8"/><circle cx="94.8" cy="206.7" r="0.9"/><circle cx="49.8" cy="240.3" r="0.5"/><circle cx="89.4" cy="214.5" r="1.1"/><circle cx="77.4" cy="287.7" r="0.8"/><circle cx="73.7" cy="288.9" r="0.7"/><circle cx="93.6" cy="267.4" r="1.1"/><circle cx="113.6" cy="204.5" r="0.8"/><circle cx="139.9" cy="290.5" r="0.7"/><circle cx="52.6" cy="227.8" r="1.0"/><circle cx="58.1" cy="294.4" r="0.7"/><circle cx="112.1" cy="273.2" r="0.6"/><circle cx="94.0" cy="266.2" r="0.7"/><circle cx="95.4" cy="266.1" r="1.1"/><circle cx="69.1" cy="217.6" r="0.8"/><circle cx="102.3" cy="251.1" r="1.0"/><circle cx="60.4" cy="253.4" r="0.8"/><circle cx="60.0" cy="247.7" r="0.8"/><circle cx="78.8" cy="281.7" r="1.1"/><circle cx="141.7" cy="222.3" r="0.7"/><circle cx="139.6" cy="207.9" r="0.6"/><circle cx="45.9" cy="301.7" r="0.8"/><circle cx="84.9" cy="209.5" r="1.0"/><circle cx="144.3" cy="272.6" r="1.0"/><circle cx="99.2" cy="232.3" r="0.6"/><circle cx="71.2" cy="215.0" r="0.7"/><circle cx="44.0" cy="203.4" r="1.0"/><circle cx="128.9" cy="286.2" r="0.7"/><circle cx="86.8" cy="257.1" r="1.0"/><circle cx="71.2" cy="253.8" r="0.8"/><circle cx="128.1" cy="236.4" r="0.5"/><circle cx="81.8" cy="293.6" r="0.6"/><circle cx="105.4" cy="213.2" r="0.7"/><circle cx="105.2" cy="210.0" r="0.8"/><circle cx="101.2" cy="240.5" r="1.0"/><circle cx="128.7" cy="228.9" r="1.0"/><circle cx="119.1" cy="262.8" r="0.9"/><circle cx="99.2" cy="278.2" r="0.9"/><circle cx="67.7" cy="268.6" r="0.9"/><circle cx="88.0" cy="294.9" r="0.7"/><circle cx="97.4" cy="259.8" r="0.9"/><circle cx="58.5" cy="270.5" r="0.6"/><circle cx="95.5" cy="247.3" r="0.9"/><circle cx="129.9" cy="304.3" r="0.6"/><circle cx="135.5" cy="249.5" r="0.8"/><circle cx="43.3" cy="291.0" r="0.6"/><circle cx="68.4" cy="231.7" r="0.6"/><circle cx="69.6" cy="229.8" r="0.8"/><circle cx="77.1" cy="279.9" r="1.1"/><circle cx="137.8" cy="239.1" r="0.9"/><circle cx="116.6" cy="276.5" r="0.7"/><circle cx="59.4" cy="280.1" r="0.9"/><circle cx="76.2" cy="270.3" r="0.5"/><circle cx="122.1" cy="295.1" r="1.1"/><circle cx="51.1" cy="273.0" r="1.0"/><circle cx="54.0" cy="264.3" r="0.6"/><circle cx="62.1" cy="202.0" r="0.7"/><circle cx="129.0" cy="261.8" r="1.0"/><circle cx="141.9" cy="215.2" r="1.0"/><circle cx="134.0" cy="268.5" r="0.7"/><circle cx="57.6" cy="246.0" r="0.7"/><circle cx="66.6" cy="271.2" r="0.9"/><circle cx="66.4" cy="217.5" r="0.8"/><circle cx="114.4" cy="270.2" r="0.9"/><circle cx="134.1" cy="280.1" r="0.8"/><circle cx="118.0" cy="270.1" r="0.7"/><circle cx="56.7" cy="239.4" r="0.9"/><circle cx="118.6" cy="231.5" r="0.8"/><circle cx="46.9" cy="263.0" r="0.8"/><circle cx="120.4" cy="291.1" r="0.5"/><circle cx="141.3" cy="217.4" r="1.1"/><circle cx="143.4" cy="222.7" r="0.7"/><circle cx="54.4" cy="296.4" r="1.0"/><circle cx="141.4" cy="285.3" r="0.7"/><circle cx="121.0" cy="237.1" r="0.7"/><circle cx="84.1" cy="273.9" r="0.7"/><circle cx="98.4" cy="259.7" r="1.0"/><circle cx="88.8" cy="244.0" r="0.8"/><circle cx="87.8" cy="277.3" r="0.6"/><circle cx="57.8" cy="203.1" r="0.7"/><circle cx="129.0" cy="263.2" r="0.9"/><circle cx="138.2" cy="286.9" r="0.7"/><circle cx="62.5" cy="256.5" r="0.6"/><circle cx="102.2" cy="207.5" r="0.7"/><circle cx="115.5" cy="226.3" r="0.6"/><circle cx="118.3" cy="219.7" r="1.0"/><circle cx="104.0" cy="294.1" r="0.8"/><circle cx="90.8" cy="226.6" r="0.5"/><circle cx="140.1" cy="222.4" r="0.5"/><circle cx="137.8" cy="256.5" r="0.8"/><circle cx="136.4" cy="277.3" r="0.7"/><circle cx="69.0" cy="269.2" r="0.9"/><circle cx="62.9" cy="225.7" r="0.8"/><circle cx="45.3" cy="285.1" r="0.9"/><circle cx="55.0" cy="261.0" r="0.9"/><circle cx="48.4" cy="245.0" r="1.0"/><circle cx="87.2" cy="276.8" r="0.6"/><circle cx="144.8" cy="270.5" r="0.8"/><circle cx="40.2" cy="237.1" r="0.5"/><circle cx="85.5" cy="217.9" r="0.6"/><circle cx="71.4" cy="214.5" r="0.7"/><circle cx="92.4" cy="213.4" r="0.8"/><circle cx="139.6" cy="276.2" r="1.1"/><circle cx="50.5" cy="269.7" r="0.6"/><circle cx="138.1" cy="252.1" r="0.9"/><circle cx="121.3" cy="213.2" r="0.6"/><circle cx="124.9" cy="286.6" r="0.8"/><circle cx="41.6" cy="201.6" r="1.0"/><circle cx="112.7" cy="239.0" r="0.9"/><circle cx="124.6" cy="199.8" r="0.9"/><circle cx="142.7" cy="292.0" r="1.0"/><circle cx="85.6" cy="263.9" r="0.6"/><circle cx="123.0" cy="269.6" r="0.7"/><circle cx="44.3" cy="218.2" r="0.7"/><circle cx="136.6" cy="249.5" r="1.0"/><circle cx="58.8" cy="226.1" r="0.6"/><circle cx="69.5" cy="284.1" r="0.7"/><circle cx="72.9" cy="271.9" r="0.8"/><circle cx="132.2" cy="273.4" r="1.0"/><circle cx="84.3" cy="241.2" r="0.8"/><circle cx="143.7" cy="300.0" r="0.8"/><circle cx="91.3" cy="206.7" r="1.0"/><circle cx="103.7" cy="243.1" r="0.6"/><circle cx="88.9" cy="274.8" r="0.7"/><circle cx="67.1" cy="253.7" r="0.8"/><circle cx="39.7" cy="205.7" r="0.7"/><circle cx="114.2" cy="239.9" r="0.5"/><circle cx="64.8" cy="219.9" r="1.0"/><circle cx="63.1" cy="304.0" r="0.7"/><circle cx="58.1" cy="201.0" r="0.8"/><circle cx="93.7" cy="282.6" r="0.9"/><circle cx="96.5" cy="204.7" r="1.1"/><circle cx="65.3" cy="224.1" r="0.6"/><circle cx="101.3" cy="269.1" r="0.7"/><circle cx="66.2" cy="200.2" r="0.9"/><circle cx="114.4" cy="211.8" r="0.6"/><circle cx="118.7" cy="275.0" r="0.6"/><circle cx="143.7" cy="275.7" r="0.9"/><circle cx="73.0" cy="302.4" r="0.8"/><circle cx="106.5" cy="304.1" r="1.0"/><circle cx="57.6" cy="212.9" r="0.6"/><circle cx="51.7" cy="293.7" r="0.8"/><circle cx="89.5" cy="238.5" r="0.8"/><circle cx="85.3" cy="276.6" r="0.7"/><circle cx="130.9" cy="289.5" r="1.0"/><circle cx="118.5" cy="217.4" r="0.8"/><circle cx="128.1" cy="237.1" r="0.8"/><circle cx="61.4" cy="287.2" r="0.7"/><circle cx="77.3" cy="286.5" r="0.6"/><circle cx="39.7" cy="244.4" r="0.8"/><circle cx="50.9" cy="241.0" r="1.0"/><circle cx="132.6" cy="297.7" r="1.0"/><circle cx="46.8" cy="238.1" r="0.8"/><circle cx="42.0" cy="282.5" r="0.7"/><circle cx="121.7" cy="271.3" r="0.7"/><circle cx="75.3" cy="247.1" r="0.6"/><circle cx="40.2" cy="244.1" r="0.6"/><circle cx="66.0" cy="283.2" r="0.9"/><circle cx="82.6" cy="201.7" r="1.0"/><circle cx="66.9" cy="209.7" r="1.0"/><circle cx="135.0" cy="226.4" r="0.8"/><circle cx="133.1" cy="254.6" r="0.7"/><circle cx="55.5" cy="202.0" r="1.0"/><circle cx="125.0" cy="218.4" r="0.9"/><circle cx="59.4" cy="278.9" r="0.7"/><circle cx="112.8" cy="256.2" r="0.5"/><circle cx="99.3" cy="269.0" r="0.5"/><circle cx="42.9" cy="227.9" r="0.9"/><circle cx="142.6" cy="246.8" r="1.0"/><circle cx="114.3" cy="228.2" r="0.8"/><circle cx="128.6" cy="250.6" r="0.8"/><circle cx="115.5" cy="214.9" r="0.8"/><circle cx="94.1" cy="259.7" r="0.9"/><circle cx="67.7" cy="249.7" r="0.8"/><circle cx="50.0" cy="283.2" r="1.1"/><circle cx="98.3" cy="242.9" r="0.7"/><circle cx="87.0" cy="238.6" r="0.7"/><circle cx="139.5" cy="238.2" r="0.6"/><circle cx="108.8" cy="199.6" r="0.7"/><circle cx="98.4" cy="286.7" r="0.7"/><circle cx="44.5" cy="302.5" r="0.5"/><circle cx="83.3" cy="253.7" r="1.1"/><circle cx="76.8" cy="224.9" r="0.7"/><circle cx="78.8" cy="214.6" r="1.0"/><circle cx="93.4" cy="277.6" r="0.7"/><circle cx="109.6" cy="296.6" r="0.6"/><circle cx="140.3" cy="229.5" r="0.9"/><circle cx="138.8" cy="248.6" r="1.1"/><circle cx="80.9" cy="245.8" r="1.1"/><circle cx="102.8" cy="204.7" r="0.6"/><circle cx="95.7" cy="235.3" r="0.5"/><circle cx="125.3" cy="233.9" r="1.0"/><circle cx="77.8" cy="218.6" r="0.8"/><circle cx="126.6" cy="295.8" r="0.8"/><circle cx="65.7" cy="255.5" r="0.7"/><circle cx="77.3" cy="199.8" r="0.5"/><circle cx="137.9" cy="281.1" r="0.6"/><circle cx="104.3" cy="203.4" r="1.0"/><circle cx="104.0" cy="276.1" r="0.8"/><circle cx="85.1" cy="286.3" r="0.7"/><circle cx="47.2" cy="211.3" r="1.1"/><circle cx="68.4" cy="205.8" r="0.8"/><circle cx="52.7" cy="244.6" r="1.0"/><circle cx="63.8" cy="244.1" r="1.1"/><circle cx="131.1" cy="291.9" r="0.5"/><circle cx="142.1" cy="259.0" r="0.6"/><circle cx="143.5" cy="212.2" r="1.1"/><circle cx="42.3" cy="207.4" r="0.8"/><circle cx="103.5" cy="261.6" r="1.0"/><circle cx="50.5" cy="276.6" r="0.7"/><circle cx="140.2" cy="266.0" r="0.9"/><circle cx="53.0" cy="296.8" r="0.7"/><circle cx="61.1" cy="244.0" r="1.0"/><circle cx="73.2" cy="249.4" r="0.9"/><circle cx="65.2" cy="211.7" r="0.7"/><circle cx="114.6" cy="271.6" r="0.6"/><circle cx="108.7" cy="288.5" r="0.9"/><circle cx="58.4" cy="203.5" r="1.1"/><circle cx="114.2" cy="228.3" r="0.9"/><circle cx="100.5" cy="266.4" r="0.7"/><circle cx="109.8" cy="239.9" r="0.7"/><circle cx="73.4" cy="277.8" r="1.0"/><circle cx="69.9" cy="207.0" r="0.7"/><circle cx="119.1" cy="237.1" r="0.5"/><circle cx="128.4" cy="245.5" r="0.5"/><circle cx="118.2" cy="253.3" r="1.0"/><circle cx="127.5" cy="287.1" r="1.0"/><circle cx="79.7" cy="285.6" r="0.8"/><circle cx="108.1" cy="222.2" r="0.9"/><circle cx="46.8" cy="291.1" r="0.6"/><circle cx="99.4" cy="289.1" r="1.0"/><circle cx="129.7" cy="244.5" r="0.5"/><circle cx="143.4" cy="231.7" r="1.0"/><circle cx="82.4" cy="246.2" r="0.8"/><circle cx="96.8" cy="282.4" r="0.9"/><circle cx="56.7" cy="255.9" r="0.6"/><circle cx="129.5" cy="217.8" r="0.7"/><circle cx="101.6" cy="235.6" r="1.0"/><circle cx="123.0" cy="234.6" r="0.8"/><circle cx="117.2" cy="253.7" r="0.9"/><circle cx="74.7" cy="259.9" r="0.9"/><circle cx="134.4" cy="236.6" r="1.0"/><circle cx="61.7" cy="230.1" r="0.6"/><circle cx="137.5" cy="209.2" r="0.7"/><circle cx="88.7" cy="275.0" r="0.9"/><circle cx="51.9" cy="240.8" r="0.9"/><circle cx="54.2" cy="212.1" r="1.0"/><circle cx="39.0" cy="207.5" r="0.6"/><circle cx="127.5" cy="236.3" r="0.8"/><circle cx="96.3" cy="294.4" r="0.5"/><circle cx="59.5" cy="242.0" r="0.9"/><circle cx="53.1" cy="245.6" r="0.8"/><circle cx="45.9" cy="234.5" r="0.5"/><circle cx="135.5" cy="200.2" r="0.6"/><circle cx="104.0" cy="223.6" r="0.8"/><circle cx="75.2" cy="305.0" r="0.8"/><circle cx="76.4" cy="218.3" r="0.8"/><circle cx="121.0" cy="275.6" r="0.9"/><circle cx="93.7" cy="299.0" r="0.7"/><circle cx="97.0" cy="301.2" r="1.0"/><circle cx="89.2" cy="284.1" r="1.0"/><circle cx="70.1" cy="241.8" r="1.0"/><circle cx="78.6" cy="236.5" r="0.8"/><circle cx="47.1" cy="227.0" r="1.1"/><circle cx="65.4" cy="285.3" r="0.5"/><circle cx="71.6" cy="254.2" r="0.7"/><circle cx="139.0" cy="301.5" r="0.7"/><circle cx="53.6" cy="297.5" r="1.0"/><circle cx="94.0" cy="205.3" r="0.5"/><circle cx="112.0" cy="272.3" r="0.8"/><circle cx="74.3" cy="228.5" r="0.7"/><circle cx="83.3" cy="264.5" r="0.7"/><circle cx="74.8" cy="223.1" r="0.9"/><circle cx="138.3" cy="218.7" r="1.0"/><circle cx="107.5" cy="223.8" r="0.6"/><circle cx="127.6" cy="214.9" r="0.6"/><circle cx="48.6" cy="286.1" r="0.7"/><circle cx="39.1" cy="229.0" r="0.8"/><circle cx="89.3" cy="214.8" r="1.0"/><circle cx="112.8" cy="228.3" r="0.7"/><circle cx="66.0" cy="201.3" r="0.9"/><circle cx="68.0" cy="269.7" r="1.0"/><circle cx="73.0" cy="229.6" r="0.7"/><circle cx="89.4" cy="204.0" r="0.7"/><circle cx="72.2" cy="210.9" r="1.0"/><circle cx="112.8" cy="251.2" r="0.5"/><circle cx="116.1" cy="239.6" r="1.0"/><circle cx="107.6" cy="224.7" r="1.0"/><circle cx="101.7" cy="236.9" r="1.0"/><circle cx="74.0" cy="214.4" r="0.5"/><circle cx="104.0" cy="228.3" r="0.6"/><circle cx="44.1" cy="281.8" r="0.7"/><circle cx="130.0" cy="294.6" r="1.0"/><circle cx="62.8" cy="299.9" r="0.9"/><circle cx="128.7" cy="296.2" r="0.7"/><circle cx="78.8" cy="295.0" r="0.7"/><circle cx="49.5" cy="203.1" r="0.8"/><circle cx="71.5" cy="300.3" r="0.5"/><circle cx="81.2" cy="275.2" r="0.9"/><circle cx="127.3" cy="268.5" r="1.0"/><circle cx="141.6" cy="291.3" r="0.9"/><circle cx="81.3" cy="255.8" r="0.6"/><circle cx="66.0" cy="254.6" r="0.8"/><circle cx="80.1" cy="208.1" r="1.1"/><circle cx="74.2" cy="250.4" r="0.7"/><circle cx="97.9" cy="282.5" r="1.1"/><circle cx="102.9" cy="299.3" r="0.7"/><circle cx="89.1" cy="235.2" r="1.1"/><circle cx="52.6" cy="223.1" r="1.0"/><circle cx="64.3" cy="206.0" r="0.7"/><circle cx="88.2" cy="247.7" r="0.6"/><circle cx="75.9" cy="229.7" r="0.6"/><circle cx="92.7" cy="223.4" r="0.6"/><circle cx="137.5" cy="293.9" r="0.7"/><circle cx="95.1" cy="209.4" r="0.5"/><circle cx="93.4" cy="300.1" r="0.5"/><circle cx="87.2" cy="283.9" r="0.5"/><circle cx="101.2" cy="227.0" r="1.0"/><circle cx="126.2" cy="293.5" r="1.0"/><circle cx="48.2" cy="269.3" r="0.8"/><circle cx="70.9" cy="220.5" r="0.8"/><circle cx="83.8" cy="242.5" r="1.1"/><circle cx="63.4" cy="290.6" r="0.6"/><circle cx="112.1" cy="246.4" r="0.7"/><circle cx="89.6" cy="213.2" r="0.6"/><circle cx="82.7" cy="219.6" r="1.0"/><circle cx="112.2" cy="266.3" r="0.9"/><circle cx="56.2" cy="200.1" r="0.5"/><circle cx="132.7" cy="251.2" r="1.1"/><circle cx="73.3" cy="240.2" r="0.9"/><circle cx="128.8" cy="244.8" r="0.8"/><circle cx="76.7" cy="224.5" r="1.0"/><circle cx="134.9" cy="245.7" r="0.6"/><circle cx="131.3" cy="248.7" r="0.9"/><circle cx="83.2" cy="207.6" r="0.9"/><circle cx="50.2" cy="299.3" r="0.6"/><circle cx="75.3" cy="199.4" r="0.6"/><circle cx="107.9" cy="208.8" r="0.6"/><circle cx="45.4" cy="200.5" r="0.8"/><circle cx="62.9" cy="279.5" r="0.9"/><circle cx="92.5" cy="298.3" r="1.1"/><circle cx="71.6" cy="281.9" r="0.9"/><circle cx="58.8" cy="282.9" r="0.5"/><circle cx="110.4" cy="295.9" r="0.9"/><circle cx="112.9" cy="269.5" r="0.7"/><circle cx="50.7" cy="239.4" r="0.7"/><circle cx="125.1" cy="293.1" r="1.1"/><circle cx="74.3" cy="294.6" r="1.0"/><circle cx="41.2" cy="257.5" r="0.6"/><circle cx="47.5" cy="246.4" r="0.9"/><circle cx="58.0" cy="233.4" r="0.8"/><circle cx="96.7" cy="212.2" r="0.6"/><circle cx="40.4" cy="233.4" r="1.1"/><circle cx="58.7" cy="279.8" r="0.9"/><circle cx="130.2" cy="285.0" r="0.5"/><circle cx="74.0" cy="288.2" r="0.9"/><circle cx="129.6" cy="202.4" r="1.0"/><circle cx="81.0" cy="283.3" r="0.8"/><circle cx="76.7" cy="255.2" r="0.5"/><circle cx="138.2" cy="292.5" r="0.9"/><circle cx="107.6" cy="277.8" r="0.8"/><circle cx="64.8" cy="268.4" r="1.1"/><circle cx="131.0" cy="284.4" r="0.6"/><circle cx="72.0" cy="229.0" r="0.8"/><circle cx="134.5" cy="265.4" r="0.9"/><circle cx="84.3" cy="217.8" r="0.7"/><circle cx="143.1" cy="296.2" r="0.9"/><circle cx="111.8" cy="223.2" r="0.5"/><circle cx="41.6" cy="200.9" r="0.6"/><circle cx="143.0" cy="260.8" r="0.6"/><circle cx="48.7" cy="200.8" r="0.5"/><circle cx="53.4" cy="235.0" r="0.6"/><circle cx="63.2" cy="265.9" r="0.6"/><circle cx="53.4" cy="281.6" r="0.7"/><circle cx="105.7" cy="229.5" r="0.9"/><circle cx="40.1" cy="227.9" r="1.0"/><circle cx="70.0" cy="267.1" r="0.6"/><circle cx="50.3" cy="244.4" r="0.8"/><circle cx="42.7" cy="255.5" r="0.8"/><circle cx="77.1" cy="280.2" r="1.0"/><circle cx="82.2" cy="231.6" r="1.0"/><circle cx="119.4" cy="253.8" r="0.9"/><circle cx="75.2" cy="276.6" r="0.8"/><circle cx="130.0" cy="231.1" r="0.5"/><circle cx="130.8" cy="261.7" r="1.0"/><circle cx="118.1" cy="281.5" r="0.7"/><circle cx="130.7" cy="265.0" r="0.7"/><circle cx="56.8" cy="209.2" r="0.6"/><circle cx="72.9" cy="234.4" r="0.9"/><circle cx="140.8" cy="259.3" r="0.9"/><circle cx="40.1" cy="273.5" r="0.8"/><circle cx="121.4" cy="236.4" r="0.9"/><circle cx="93.2" cy="282.6" r="0.8"/><circle cx="126.4" cy="292.0" r="0.8"/><circle cx="92.2" cy="274.5" r="0.8"/><circle cx="141.8" cy="298.9" r="0.8"/><circle cx="111.9" cy="210.3" r="1.0"/><circle cx="104.6" cy="201.8" r="0.5"/><circle cx="128.6" cy="282.6" r="0.9"/><circle cx="81.9" cy="225.0" r="0.8"/><circle cx="135.2" cy="266.4" r="0.5"/><circle cx="60.9" cy="208.1" r="1.0"/><circle cx="128.8" cy="298.1" r="0.8"/><circle cx="72.5" cy="205.5" r="0.7"/><circle cx="75.5" cy="240.6" r="0.7"/><circle cx="116.2" cy="290.9" r="0.7"/><circle cx="125.6" cy="230.3" r="0.7"/><circle cx="123.5" cy="208.6" r="0.5"/><circle cx="144.2" cy="249.4" r="0.7"/><circle cx="120.8" cy="294.3" r="0.7"/><circle cx="124.4" cy="212.8" r="1.0"/><circle cx="82.9" cy="240.2" r="0.5"/><circle cx="46.3" cy="240.8" r="0.6"/><circle cx="109.0" cy="305.6" r="0.7"/><circle cx="118.9" cy="261.5" r="0.9"/><circle cx="121.4" cy="250.9" r="1.0"/><circle cx="55.9" cy="272.0" r="0.8"/><circle cx="60.0" cy="223.5" r="1.1"/><circle cx="106.5" cy="252.2" r="0.8"/><circle cx="129.0" cy="266.7" r="0.6"/><circle cx="138.5" cy="289.9" r="1.0"/><circle cx="114.2" cy="271.0" r="0.7"/><circle cx="142.6" cy="275.2" r="0.6"/><circle cx="124.8" cy="244.7" r="0.5"/><circle cx="132.5" cy="223.1" r="0.8"/><circle cx="49.0" cy="254.9" r="0.8"/><circle cx="126.1" cy="301.0" r="1.0"/><circle cx="109.9" cy="241.9" r="1.1"/><circle cx="63.2" cy="232.8" r="0.8"/><circle cx="78.0" cy="259.7" r="0.6"/><circle cx="65.0" cy="201.2" r="0.8"/><circle cx="64.4" cy="286.2" r="0.7"/><circle cx="59.3" cy="275.7" r="0.6"/><circle cx="127.9" cy="255.7" r="0.6"/><circle cx="113.3" cy="305.7" r="0.7"/><circle cx="97.8" cy="257.4" r="1.1"/><circle cx="143.7" cy="205.6" r="0.7"/><circle cx="124.6" cy="243.8" r="0.8"/><circle cx="99.0" cy="200.3" r="0.5"/><circle cx="134.1" cy="241.4" r="0.8"/><circle cx="98.2" cy="279.4" r="1.0"/><circle cx="47.9" cy="266.6" r="0.5"/><circle cx="96.8" cy="286.3" r="0.8"/><circle cx="78.1" cy="290.6" r="0.9"/><circle cx="136.0" cy="256.9" r="0.7"/><circle cx="112.5" cy="251.2" r="0.5"/><circle cx="52.7" cy="301.6" r="0.9"/><circle cx="42.5" cy="279.5" r="1.0"/><circle cx="44.0" cy="304.9" r="0.6"/><circle cx="92.7" cy="275.2" r="0.8"/><circle cx="75.9" cy="250.1" r="0.9"/><circle cx="140.0" cy="293.2" r="1.1"/><circle cx="124.3" cy="250.1" r="0.7"/><circle cx="135.5" cy="297.6" r="0.7"/><circle cx="122.3" cy="236.3" r="0.5"/><circle cx="89.1" cy="295.2" r="0.8"/><circle cx="125.3" cy="289.0" r="1.0"/><circle cx="70.6" cy="296.5" r="0.6"/><circle cx="92.5" cy="207.9" r="0.7"/><circle cx="132.9" cy="286.0" r="1.1"/><circle cx="98.4" cy="254.7" r="0.6"/><circle cx="90.4" cy="296.0" r="0.7"/><circle cx="129.5" cy="231.5" r="1.0"/><circle cx="59.2" cy="302.1" r="0.6"/><circle cx="47.5" cy="260.3" r="1.0"/><circle cx="114.4" cy="242.4" r="0.9"/><circle cx="60.6" cy="234.1" r="0.7"/><circle cx="63.0" cy="203.6" r="0.6"/><circle cx="96.4" cy="264.0" r="0.7"/><circle cx="103.8" cy="234.4" r="1.0"/><circle cx="40.4" cy="281.6" r="1.0"/><circle cx="100.4" cy="267.2" r="1.1"/><circle cx="54.3" cy="209.2" r="0.8"/><circle cx="115.7" cy="256.3" r="0.8"/><circle cx="84.8" cy="248.2" r="1.0"/><circle cx="46.3" cy="269.2" r="0.6"/><circle cx="128.4" cy="227.1" r="1.0"/><circle cx="72.9" cy="266.8" r="0.8"/><circle cx="140.3" cy="249.6" r="0.8"/><circle cx="92.2" cy="225.8" r="1.1"/><circle cx="75.3" cy="215.2" r="0.6"/><circle cx="115.2" cy="295.6" r="0.9"/><circle cx="140.4" cy="223.0" r="1.0"/><circle cx="120.4" cy="221.9" r="0.6"/><circle cx="83.8" cy="243.8" r="0.8"/><circle cx="115.5" cy="223.5" r="0.7"/><circle cx="74.2" cy="216.3" r="0.8"/><circle cx="102.5" cy="228.1" r="0.6"/><circle cx="116.4" cy="208.3" r="1.0"/><circle cx="104.2" cy="223.3" r="0.5"/><circle cx="128.5" cy="201.4" r="1.0"/><circle cx="95.6" cy="272.9" r="0.6"/><circle cx="116.5" cy="226.3" r="0.9"/><circle cx="141.3" cy="262.8" r="0.6"/><circle cx="64.7" cy="242.7" r="1.0"/><circle cx="123.6" cy="240.9" r="0.9"/><circle cx="76.5" cy="251.5" r="0.7"/><circle cx="139.2" cy="238.9" r="0.7"/><circle cx="105.0" cy="222.5" r="0.6"/><circle cx="86.2" cy="287.5" r="0.7"/><circle cx="69.0" cy="230.0" r="0.9"/><circle cx="67.5" cy="256.1" r="0.8"/><circle cx="43.2" cy="233.5" r="1.0"/><circle cx="61.3" cy="279.3" r="0.5"/><circle cx="90.8" cy="244.2" r="0.9"/><circle cx="39.5" cy="212.1" r="0.7"/><circle cx="136.3" cy="252.7" r="1.0"/><circle cx="95.4" cy="304.5" r="0.5"/><circle cx="131.1" cy="226.4" r="0.6"/><circle cx="94.8" cy="243.7" r="1.1"/><circle cx="138.2" cy="276.5" r="0.6"/><circle cx="63.7" cy="246.2" r="0.7"/><circle cx="62.2" cy="221.0" r="0.7"/><circle cx="70.6" cy="210.8" r="0.7"/><circle cx="139.9" cy="288.6" r="0.9"/><circle cx="140.4" cy="299.4" r="0.6"/><circle cx="44.0" cy="234.7" r="0.8"/><circle cx="144.7" cy="201.9" r="0.9"/><circle cx="123.0" cy="227.1" r="1.0"/><circle cx="131.0" cy="209.0" r="0.9"/><circle cx="89.1" cy="281.5" r="0.6"/><circle cx="109.3" cy="200.2" r="0.5"/><circle cx="84.8" cy="236.1" r="0.8"/><circle cx="61.3" cy="305.5" r="0.7"/><circle cx="91.8" cy="237.3" r="1.0"/><circle cx="56.5" cy="298.6" r="0.6"/><circle cx="131.8" cy="244.7" r="0.9"/><circle cx="64.0" cy="286.5" r="0.6"/><circle cx="122.3" cy="269.5" r="1.0"/><circle cx="143.8" cy="284.8" r="0.6"/><circle cx="125.5" cy="209.9" r="1.0"/><circle cx="136.8" cy="213.7" r="0.5"/><circle cx="124.9" cy="236.5" r="0.9"/><circle cx="125.8" cy="299.8" r="0.8"/><circle cx="128.3" cy="296.5" r="1.0"/><circle cx="78.2" cy="297.1" r="0.8"/><circle cx="134.5" cy="240.0" r="0.8"/><circle cx="42.8" cy="210.3" r="1.1"/><circle cx="87.3" cy="277.1" r="0.8"/><circle cx="115.9" cy="255.0" r="0.6"/><circle cx="72.4" cy="266.9" r="0.6"/><circle cx="138.9" cy="205.5" r="0.8"/><circle cx="131.3" cy="277.3" r="0.6"/><circle cx="50.2" cy="274.6" r="0.7"/><circle cx="49.4" cy="212.4" r="0.9"/><circle cx="41.7" cy="229.9" r="1.1"/><circle cx="65.7" cy="290.1" r="0.5"/><circle cx="60.2" cy="204.3" r="0.9"/><circle cx="99.1" cy="281.2" r="1.0"/><circle cx="115.6" cy="210.5" r="0.8"/><circle cx="42.5" cy="284.3" r="0.7"/><circle cx="88.1" cy="294.4" r="1.1"/><circle cx="103.1" cy="240.4" r="1.0"/><circle cx="128.5" cy="222.0" r="0.8"/><circle cx="139.5" cy="304.3" r="1.0"/><circle cx="90.6" cy="216.5" r="1.0"/><circle cx="60.8" cy="263.5" r="0.7"/><circle cx="128.8" cy="238.3" r="0.7"/><circle cx="128.9" cy="276.7" r="1.1"/><circle cx="51.7" cy="213.1" r="0.9"/><circle cx="91.7" cy="294.6" r="0.8"/><circle cx="44.0" cy="249.9" r="0.6"/><circle cx="123.8" cy="285.5" r="1.0"/><circle cx="50.5" cy="259.3" r="0.6"/><circle cx="142.7" cy="215.0" r="0.9"/><circle cx="115.1" cy="220.5" r="0.8"/><circle cx="51.9" cy="204.7" r="0.7"/><circle cx="47.3" cy="246.1" r="0.9"/><circle cx="137.1" cy="227.0" r="0.8"/><circle cx="112.1" cy="232.7" r="0.7"/><circle cx="78.2" cy="288.2" r="0.7"/><circle cx="120.5" cy="214.7" r="0.7"/><circle cx="69.8" cy="223.4" r="0.6"/><circle cx="80.9" cy="286.1" r="0.9"/><circle cx="144.2" cy="232.8" r="0.7"/><circle cx="64.6" cy="251.7" r="0.6"/><circle cx="124.2" cy="244.3" r="0.5"/><circle cx="92.6" cy="244.9" r="0.6"/><circle cx="71.1" cy="270.7" r="1.1"/><circle cx="103.0" cy="226.5" r="0.5"/><circle cx="73.4" cy="224.7" r="0.8"/><circle cx="86.7" cy="229.0" r="0.6"/><circle cx="137.6" cy="300.5" r="0.9"/><circle cx="137.4" cy="259.8" r="0.9"/><circle cx="85.8" cy="269.9" r="1.0"/><circle cx="113.9" cy="284.3" r="0.9"/><circle cx="75.5" cy="284.9" r="1.0"/><circle cx="63.8" cy="216.7" r="0.5"/><circle cx="64.9" cy="218.3" r="0.6"/><circle cx="56.6" cy="232.9" r="0.6"/><circle cx="140.8" cy="206.5" r="0.5"/><circle cx="136.7" cy="239.9" r="0.9"/><circle cx="72.8" cy="200.5" r="0.5"/><circle cx="136.8" cy="204.3" r="0.8"/><circle cx="66.8" cy="267.9" r="0.7"/><circle cx="124.7" cy="221.9" r="0.8"/><circle cx="142.9" cy="255.9" r="1.1"/><circle cx="44.2" cy="293.2" r="0.7"/><circle cx="144.7" cy="274.0" r="0.7"/><circle cx="120.5" cy="216.9" r="0.8"/><circle cx="117.5" cy="216.9" r="0.5"/><circle cx="128.1" cy="219.2" r="1.0"/><circle cx="88.9" cy="219.8" r="1.0"/><circle cx="78.5" cy="227.1" r="1.0"/><circle cx="143.8" cy="234.4" r="1.1"/><circle cx="50.5" cy="283.8" r="0.9"/><circle cx="64.9" cy="241.5" r="0.7"/><circle cx="110.5" cy="244.2" r="0.8"/><circle cx="109.7" cy="236.2" r="0.5"/><circle cx="91.3" cy="291.6" r="0.6"/><circle cx="67.6" cy="296.8" r="0.6"/><circle cx="140.7" cy="231.4" r="0.6"/><circle cx="115.7" cy="294.3" r="0.8"/><circle cx="67.7" cy="212.8" r="0.5"/><circle cx="113.7" cy="278.2" r="0.7"/><circle cx="89.2" cy="280.8" r="0.9"/><circle cx="111.2" cy="297.2" r="0.6"/><circle cx="142.1" cy="266.0" r="0.7"/><circle cx="111.2" cy="231.6" r="0.7"/><circle cx="126.2" cy="285.3" r="0.9"/><circle cx="124.5" cy="291.6" r="0.7"/><circle cx="47.0" cy="299.6" r="0.5"/><circle cx="86.2" cy="209.9" r="0.8"/><circle cx="121.7" cy="202.8" r="0.8"/><circle cx="81.7" cy="270.6" r="1.0"/><circle cx="110.3" cy="205.4" r="0.7"/><circle cx="88.2" cy="216.4" r="1.0"/><circle cx="77.1" cy="237.5" r="0.6"/><circle cx="95.9" cy="285.4" r="0.6"/><circle cx="91.9" cy="230.8" r="0.5"/><circle cx="81.2" cy="267.1" r="0.9"/><circle cx="144.5" cy="274.2" r="1.1"/><circle cx="116.1" cy="272.3" r="1.0"/><circle cx="130.7" cy="279.8" r="0.7"/><circle cx="68.9" cy="291.6" r="0.5"/><circle cx="80.3" cy="288.6" r="0.7"/><circle cx="91.8" cy="236.2" r="0.9"/><circle cx="126.9" cy="205.4" r="0.7"/><circle cx="129.7" cy="243.2" r="1.1"/><circle cx="67.8" cy="253.0" r="0.6"/><circle cx="131.0" cy="250.3" r="1.0"/><circle cx="112.0" cy="227.1" r="1.0"/><circle cx="46.2" cy="298.0" r="1.0"/><circle cx="65.0" cy="260.6" r="0.7"/><circle cx="88.6" cy="300.4" r="0.8"/><circle cx="100.6" cy="203.8" r="0.5"/><circle cx="89.5" cy="244.1" r="1.1"/><circle cx="99.5" cy="294.1" r="0.8"/><circle cx="137.7" cy="233.2" r="0.5"/><circle cx="118.7" cy="269.1" r="0.6"/><circle cx="61.9" cy="249.5" r="1.0"/><circle cx="110.0" cy="245.2" r="0.8"/><circle cx="75.9" cy="241.2" r="0.6"/><circle cx="112.7" cy="201.6" r="0.8"/><circle cx="48.4" cy="214.2" r="1.0"/><circle cx="130.5" cy="253.5" r="1.1"/><circle cx="114.1" cy="256.7" r="0.9"/><circle cx="39.9" cy="209.4" r="0.9"/><circle cx="78.7" cy="302.3" r="0.7"/><circle cx="69.0" cy="221.7" r="1.1"/><circle cx="96.9" cy="226.4" r="0.5"/><circle cx="100.8" cy="200.7" r="1.0"/><circle cx="55.8" cy="280.6" r="1.0"/><circle cx="69.7" cy="261.6" r="0.9"/><circle cx="87.4" cy="243.1" r="1.0"/><circle cx="66.2" cy="259.6" r="0.5"/><circle cx="99.3" cy="302.8" r="0.7"/><circle cx="116.9" cy="234.0" r="0.7"/><circle cx="80.7" cy="293.2" r="0.7"/><circle cx="43.8" cy="257.5" r="0.8"/><circle cx="103.2" cy="249.1" r="0.7"/><circle cx="114.9" cy="225.6" r="0.7"/><circle cx="57.9" cy="205.3" r="0.6"/><circle cx="110.6" cy="241.4" r="0.8"/><circle cx="63.5" cy="226.6" r="0.9"/><circle cx="138.5" cy="214.0" r="0.9"/><circle cx="140.8" cy="257.3" r="1.0"/><circle cx="58.2" cy="283.0" r="0.6"/><circle cx="61.9" cy="209.3" r="0.5"/><circle cx="119.4" cy="236.4" r="0.7"/><circle cx="116.7" cy="226.0" r="1.0"/><circle cx="58.6" cy="303.4" r="1.0"/><circle cx="92.0" cy="299.1" r="1.0"/><circle cx="139.9" cy="230.6" r="0.7"/><circle cx="71.0" cy="246.6" r="0.8"/><circle cx="130.0" cy="234.1" r="0.8"/><circle cx="68.3" cy="246.6" r="0.5"/><circle cx="96.4" cy="264.9" r="0.9"/><circle cx="131.1" cy="254.7" r="0.7"/><circle cx="139.7" cy="242.1" r="0.6"/><circle cx="92.9" cy="274.1" r="0.7"/><circle cx="63.7" cy="208.0" r="0.8"/><circle cx="78.8" cy="284.2" r="0.6"/><circle cx="103.8" cy="215.1" r="0.6"/><circle cx="51.0" cy="268.0" r="0.9"/><circle cx="85.1" cy="287.3" r="1.0"/><circle cx="130.8" cy="267.9" r="0.8"/><circle cx="83.1" cy="284.2" r="0.7"/><circle cx="64.8" cy="305.8" r="1.1"/><circle cx="108.3" cy="288.1" r="0.5"/><circle cx="121.0" cy="262.4" r="0.7"/><circle cx="68.5" cy="271.5" r="1.0"/><circle cx="118.1" cy="203.7" r="0.9"/><circle cx="74.6" cy="223.3" r="0.5"/><circle cx="100.4" cy="227.8" r="0.7"/><circle cx="92.0" cy="295.0" r="0.7"/><circle cx="100.0" cy="268.2" r="1.0"/><circle cx="128.9" cy="223.3" r="1.0"/><circle cx="47.0" cy="248.1" r="0.9"/><circle cx="134.3" cy="236.2" r="0.9"/><circle cx="113.1" cy="204.1" r="1.0"/><circle cx="127.7" cy="213.9" r="0.7"/><circle cx="84.9" cy="299.3" r="1.1"/><circle cx="58.4" cy="241.3" r="0.6"/><circle cx="44.6" cy="221.9" r="1.1"/><circle cx="135.0" cy="220.4" r="0.9"/><circle cx="106.6" cy="246.9" r="1.0"/><circle cx="48.5" cy="228.2" r="0.6"/><circle cx="135.5" cy="284.4" r="0.8"/><circle cx="48.4" cy="290.3" r="1.0"/><circle cx="131.1" cy="299.8" r="0.9"/><circle cx="91.0" cy="284.8" r="0.6"/><circle cx="127.9" cy="231.9" r="0.8"/><circle cx="131.5" cy="199.7" r="0.7"/><circle cx="125.3" cy="242.0" r="1.0"/><circle cx="115.0" cy="223.4" r="0.8"/><circle cx="76.6" cy="269.8" r="0.9"/><circle cx="92.2" cy="207.1" r="1.0"/><circle cx="58.0" cy="266.7" r="1.0"/></g>
<g fill="#e8c048" stroke="#e8c048" stroke-width="1.0" stroke-linecap="round" opacity="0.7"><path d="M87.6,204.4l2.0,1.2"/><path d="M61.0,217.4l0.8,4.2"/><circle cx="140.0" cy="206.8" r="0.7"/><circle cx="96.0" cy="270.6" r="0.8"/><circle cx="79.5" cy="235.4" r="0.9"/><circle cx="42.0" cy="244.2" r="0.8"/><path d="M113.6,284.4l2.4,3.0"/><path d="M40.0,214.9l1.2,2.9"/><circle cx="76.4" cy="234.9" r="0.7"/><circle cx="88.9" cy="247.8" r="0.6"/><path d="M41.8,249.1l1.4,4.4"/><path d="M103.2,283.1l3.2,1.6"/><circle cx="111.3" cy="276.8" r="0.9"/><circle cx="61.1" cy="210.6" r="0.8"/><path d="M80.1,225.8l2.6,3.2"/><path d="M46.5,275.5l-2.3,3.5"/><circle cx="141.6" cy="273.4" r="0.8"/><circle cx="80.9" cy="260.9" r="0.9"/><path d="M113.7,228.1l-1.6,2.6"/><circle cx="88.6" cy="301.7" r="0.6"/><circle cx="46.3" cy="272.8" r="0.9"/><circle cx="91.5" cy="236.0" r="0.9"/><circle cx="96.2" cy="243.6" r="0.8"/><circle cx="87.2" cy="275.0" r="0.7"/><circle cx="51.7" cy="247.6" r="0.7"/><path d="M57.4,237.2l2.3,2.7"/><circle cx="89.2" cy="248.1" r="0.9"/><path d="M92.8,305.0l-2.7,0.1"/><circle cx="50.8" cy="216.8" r="0.7"/><circle cx="53.2" cy="295.4" r="0.8"/><circle cx="54.3" cy="232.4" r="0.7"/><path d="M68.9,276.7l0.3,2.6"/><circle cx="104.4" cy="304.6" r="0.9"/><path d="M81.8,252.7l1.4,3.8"/><circle cx="125.3" cy="261.1" r="0.7"/><path d="M60.1,285.9l-0.7,2.4"/><path d="M46.9,205.7l0.8,3.6"/><circle cx="85.1" cy="247.6" r="0.7"/><path d="M138.1,206.5l1.0,2.3"/><path d="M43.5,214.4l0.5,2.0"/><circle cx="103.9" cy="260.1" r="0.8"/><path d="M73.6,285.0l-2.9,2.4"/><path d="M82.9,303.6l4.1,2.3"/><path d="M112.6,270.6l3.5,3.1"/><circle cx="51.6" cy="259.0" r="1.0"/><path d="M135.7,250.5l-3.7,1.0"/><path d="M97.4,220.9l2.6,1.0"/><path d="M121.6,268.8l-2.6,0.6"/><circle cx="127.0" cy="267.7" r="0.9"/><circle cx="78.5" cy="213.6" r="1.0"/><path d="M72.4,248.6l1.6,3.8"/><path d="M74.3,257.6l-1.8,3.8"/><path d="M58.3,292.5l3.1,1.5"/><circle cx="87.0" cy="291.3" r="0.7"/><path d="M112.3,278.3l-2.1,2.4"/></g>
<g fill="#dcdce8" stroke="#dcdce8" stroke-width="0.8" stroke-linecap="round" opacity="0.6"><path d="M63.4,204.3l-2.5,1.0"/><path d="M73.5,235.4l-2.1,0.2"/><circle cx="73.8" cy="203.3" r="0.5"/><path d="M65.7,252.7l-2.6,0.0"/><circle cx="54.4" cy="210.4" r="0.5"/><circle cx="132.0" cy="215.6" r="0.7"/><circle cx="75.0" cy="211.8" r="0.6"/><circle cx="47.3" cy="253.3" r="0.6"/><path d="M91.3,305.3l2.2,3.0"/><path d="M87.9,227.4l-4.2,2.4"/><circle cx="82.6" cy="275.9" r="0.8"/><circle cx="139.8" cy="217.5" r="0.9"/><path d="M99.6,283.0l4.2,1.4"/><path d="M65.6,238.6l3.2,2.7"/><path d="M53.8,284.2l1.1,1.8"/><circle cx="50.8" cy="245.0" r="0.7"/><path d="M57.0,205.0l-2.4,0.6"/><circle cx="115.9" cy="236.1" r="0.6"/><circle cx="68.2" cy="260.5" r="0.7"/><path d="M91.2,219.1l-1.1,2.6"/><path d="M115.3,278.0l0.8,3.3"/><path d="M117.3,205.7l0.7,4.5"/><path d="M90.2,272.9l-0.9,2.8"/><circle cx="125.4" cy="264.9" r="0.9"/><circle cx="75.4" cy="268.5" r="0.8"/><circle cx="97.8" cy="296.1" r="0.5"/><path d="M74.0,244.9l-2.2,1.9"/><path d="M129.3,202.5l1.5,1.6"/><path d="M47.7,284.6l-0.6,2.7"/><circle cx="141.3" cy="281.4" r="0.7"/><circle cx="136.2" cy="292.3" r="0.7"/><path d="M46.5,241.3l1.7,1.2"/><circle cx="98.9" cy="201.0" r="0.8"/><path d="M58.7,252.1l-2.0,3.0"/><path d="M46.0,255.4l0.2,3.4"/><circle cx="46.0" cy="264.9" r="0.8"/><circle cx="66.1" cy="296.6" r="0.8"/><circle cx="94.3" cy="229.2" r="0.6"/><circle cx="95.2" cy="237.8" r="0.9"/><path d="M141.7,253.6l-1.8,4.1"/><path d="M83.0,252.8l0.6,2.1"/><circle cx="47.8" cy="259.3" r="0.7"/><path d="M53.0,235.4l1.1,2.5"/><circle cx="124.2" cy="221.1" r="0.7"/><circle cx="104.1" cy="221.1" r="0.5"/><path d="M67.5,240.8l-0.2,2.9"/><path d="M122.2,229.0l-4.2,1.0"/><path d="M117.4,267.2l-3.0,1.0"/><circle cx="59.1" cy="237.7" r="0.7"/><circle cx="134.7" cy="267.8" r="0.9"/><circle cx="44.9" cy="219.8" r="0.5"/><path d="M123.0,272.4l0.9,3.8"/><path d="M63.4,233.0l3.7,2.5"/><circle cx="94.8" cy="268.5" r="0.8"/><circle cx="68.7" cy="236.1" r="0.9"/><path d="M43.3,231.9l2.7,2.3"/><path d="M92.6,249.5l2.9,1.7"/><path d="M113.0,234.2l-2.7,1.2"/><path d="M65.2,268.2l-2.4,1.7"/><path d="M97.4,199.4l3.1,0.7"/></g>
<g fill="none" stroke="#d0d0e0" stroke-width="1.0" opacity="0.5" filter="url(#soft0)"><path d="M40,246 l6,4 l4,-3"/><path d="M52,262 l4,8"/><path d="M60,232 l6,-3 l5,3"/><path d="M45,285 l7,-2"/><path d="M120,205 l8,3"/><path d="M130,214 l6,4 l5,-2"/><path d="M112,270 l4,6 l6,1"/><path d="M64,212 l3,7"/><path d="M98,212 l5,-3"/><path d="M118,248 l-3,7"/><path d="M84,236 l-6,3"/><path d="M56,300 l8,-3"/><path d="M140,230 l-3,6"/><path d="M102,284 l7,3"/></g>
<g filter="url(#soft)"><path d="M70,256 Q72,272 85,272 Q98,272 101,257 L97,257 Q95,268 85,268 Q76,268 75,256 Z" fill="#f4c020" opacity="0.92"/><path d="M76,266 Q80,271 86,271 Q92,271 95,265 L93,264 Q90,268 86,268 Q81,268 78,264z" fill="#e09a10"/><path d="M87,215 l5,-1 l3,5 l-2,4 l-5,-2z" fill="#f0c030"/><path d="M107.5,224.5 l3,-1 l6,9 l-1,4 l-3,0z" fill="#f4c828"/><path d="M86,241 l8,-2 l4,5 l-3,4 l-7,-1z" fill="#f2c430"/><path d="M95,246 l5,-1 l6,9 l-4,3 l-5,-4z" fill="#f2c430"/><path d="M101,232 l3,0 l2,8 l-3,1z" fill="#e6b830"/><path d="M136,285 l5,-1 l2,8 l-5,1z" fill="#eac040"/><path d="M64,247 l4,-1 l1,4 l-4,1z" fill="#d8b040"/><path d="M120,262 l3,-1 l1,5 l-3,0z" fill="#d8b040"/></g>
<circle cx="137" cy="248" r="8.5" fill="none" stroke="#b8d8e0" stroke-width="1" opacity="0.8"/>
<circle cx="74" cy="279" r="9.5" fill="none" stroke="#b8d0d8" stroke-width="1" opacity="0.8"/>
</g></g>
<clipPath id="clipD"><rect x="152" y="199" width="107" height="106"/></clipPath>
<filter id="texD" filterUnits="userSpaceOnUse" x="152" y="199" width="107" height="106" color-interpolation-filters="sRGB"><feTurbulence type="fractalNoise" baseFrequency="0.26" numOctaves="4" seed="5"/><feColorMatrix type="matrix" values="1 0 0 0 0  1 0 0 0 0  1 0 0 0 0  0 0 0 0 1"/><feComponentTransfer><feFuncR type="table" tableValues="0.196 0.306 0.392 0.478 0.580 0.722"/><feFuncG type="table" tableValues="0.173 0.282 0.376 0.471 0.588 0.745"/><feFuncB type="table" tableValues="0.392 0.549 0.659 0.745 0.831 0.910"/></feComponentTransfer></filter>
<filter id="dotD" filterUnits="userSpaceOnUse" x="152" y="199" width="107" height="106" color-interpolation-filters="sRGB"><feTurbulence type="fractalNoise" baseFrequency="0.5" numOctaves="1" seed="12"/><feColorMatrix type="matrix" values="0 0 0 0 0.141  0 0 0 0 0.125  0 0 0 0 0.353  1 0 0 0 0"/><feComponentTransfer><feFuncA type="linear" slope="9" intercept="-5.130"/></feComponentTransfer></filter>
<filter id="litD" filterUnits="userSpaceOnUse" x="152" y="199" width="107" height="106" color-interpolation-filters="sRGB"><feTurbulence type="fractalNoise" baseFrequency="0.35" numOctaves="2" seed="18"/><feColorMatrix type="matrix" values="0 0 0 0 0.843  0 0 0 0 0.922  0 0 0 0 0.961  0 1 0 0 0"/><feComponentTransfer><feFuncA type="linear" slope="7" intercept="-4.340"/></feComponentTransfer></filter>
<g clip-path="url(#clipD)"><g filter="url(#soft0)">
<rect x="152" y="199" width="107" height="106" filter="url(#texD)"/>
<rect x="152" y="199" width="107" height="106" filter="url(#litD)"/>
<g fill="rgb(36, 32, 90)" opacity="0.6"><circle cx="218.7" cy="277.6" r="1.0"/><circle cx="252.8" cy="277.4" r="1.1"/><circle cx="155.1" cy="248.4" r="1.1"/><circle cx="221.4" cy="294.5" r="0.6"/><circle cx="202.2" cy="225.1" r="0.8"/><circle cx="213.4" cy="200.4" r="0.6"/><circle cx="181.9" cy="296.1" r="1.0"/><circle cx="169.1" cy="283.5" r="0.6"/><circle cx="218.1" cy="212.4" r="0.5"/><circle cx="245.2" cy="221.2" r="0.6"/><circle cx="257.1" cy="291.5" r="0.7"/><circle cx="254.9" cy="256.2" r="0.9"/><circle cx="173.9" cy="298.7" r="0.9"/><circle cx="255.4" cy="293.7" r="0.7"/><circle cx="190.6" cy="216.6" r="0.6"/><circle cx="159.0" cy="230.9" r="0.9"/><circle cx="152.4" cy="270.9" r="0.7"/><circle cx="185.2" cy="285.8" r="0.8"/><circle cx="185.8" cy="250.0" r="0.9"/><circle cx="158.1" cy="302.4" r="0.5"/><circle cx="232.2" cy="288.6" r="0.5"/><circle cx="236.3" cy="237.8" r="0.8"/><circle cx="153.0" cy="204.0" r="0.6"/><circle cx="254.2" cy="219.8" r="1.0"/><circle cx="251.5" cy="298.9" r="0.7"/><circle cx="190.0" cy="254.6" r="1.0"/><circle cx="163.6" cy="278.3" r="1.0"/><circle cx="244.0" cy="202.9" r="1.1"/><circle cx="161.8" cy="235.1" r="0.9"/><circle cx="250.2" cy="235.0" r="1.1"/><circle cx="210.3" cy="232.1" r="0.7"/><circle cx="171.0" cy="207.3" r="0.6"/><circle cx="225.7" cy="304.7" r="0.6"/><circle cx="157.2" cy="303.6" r="0.8"/><circle cx="195.4" cy="224.2" r="0.9"/><circle cx="240.4" cy="247.3" r="0.8"/><circle cx="158.0" cy="296.1" r="0.5"/><circle cx="204.8" cy="287.9" r="0.6"/><circle cx="230.3" cy="299.7" r="0.9"/><circle cx="236.3" cy="210.3" r="0.8"/><circle cx="168.0" cy="288.5" r="0.7"/><circle cx="200.5" cy="304.9" r="1.0"/><circle cx="256.4" cy="247.1" r="0.8"/><circle cx="230.1" cy="249.8" r="0.7"/><circle cx="195.2" cy="214.5" r="0.7"/><circle cx="257.8" cy="300.7" r="0.9"/><circle cx="205.4" cy="234.9" r="0.6"/><circle cx="181.1" cy="281.9" r="1.0"/><circle cx="190.7" cy="282.3" r="1.0"/><circle cx="226.3" cy="269.4" r="1.0"/><circle cx="190.9" cy="273.7" r="0.7"/><circle cx="204.0" cy="280.6" r="0.9"/><circle cx="183.4" cy="299.2" r="0.9"/><circle cx="214.1" cy="200.2" r="0.8"/><circle cx="178.8" cy="270.2" r="0.8"/><circle cx="239.4" cy="267.6" r="1.0"/><circle cx="189.2" cy="267.3" r="0.9"/><circle cx="240.6" cy="236.1" r="1.0"/><circle cx="245.1" cy="272.0" r="1.1"/><circle cx="254.3" cy="253.9" r="0.8"/><circle cx="169.8" cy="287.7" r="1.1"/><circle cx="203.1" cy="272.3" r="0.9"/><circle cx="230.1" cy="217.2" r="1.0"/><circle cx="214.2" cy="269.5" r="0.8"/><circle cx="218.7" cy="281.1" r="0.9"/><circle cx="229.1" cy="201.9" r="0.6"/><circle cx="199.2" cy="267.9" r="0.6"/><circle cx="225.4" cy="265.9" r="0.5"/><circle cx="202.5" cy="223.0" r="0.5"/><circle cx="166.3" cy="232.6" r="0.6"/><circle cx="172.7" cy="202.8" r="0.8"/><circle cx="192.7" cy="263.9" r="0.9"/><circle cx="177.4" cy="294.7" r="0.5"/><circle cx="195.4" cy="228.5" r="0.7"/><circle cx="164.3" cy="287.1" r="0.7"/><circle cx="155.9" cy="264.0" r="0.6"/><circle cx="210.3" cy="235.0" r="0.8"/><circle cx="254.5" cy="285.8" r="0.8"/><circle cx="239.0" cy="267.1" r="0.7"/><circle cx="167.2" cy="262.2" r="0.8"/><circle cx="254.4" cy="301.6" r="0.9"/><circle cx="189.6" cy="293.7" r="0.5"/><circle cx="163.5" cy="259.0" r="0.9"/><circle cx="167.1" cy="265.7" r="1.0"/><circle cx="192.2" cy="244.8" r="0.6"/><circle cx="183.2" cy="302.1" r="0.7"/><circle cx="254.8" cy="295.9" r="0.9"/><circle cx="179.8" cy="303.0" r="0.8"/><circle cx="196.5" cy="232.8" r="1.1"/><circle cx="204.6" cy="229.4" r="0.8"/><circle cx="165.0" cy="264.9" r="0.8"/><circle cx="183.4" cy="281.9" r="1.0"/><circle cx="153.4" cy="255.5" r="0.7"/><circle cx="252.1" cy="281.9" r="0.6"/><circle cx="180.6" cy="215.4" r="1.1"/><circle cx="183.4" cy="263.5" r="0.8"/><circle cx="221.0" cy="263.0" r="0.9"/><circle cx="164.6" cy="279.6" r="0.7"/><circle cx="209.1" cy="234.6" r="0.7"/><circle cx="208.7" cy="248.2" r="0.7"/><circle cx="231.7" cy="261.6" r="0.5"/><circle cx="179.0" cy="247.3" r="1.0"/><circle cx="247.0" cy="256.8" r="0.5"/><circle cx="235.3" cy="244.3" r="0.8"/><circle cx="227.8" cy="266.0" r="0.8"/><circle cx="249.6" cy="239.9" r="0.7"/><circle cx="243.2" cy="219.8" r="0.7"/><circle cx="240.8" cy="206.0" r="1.0"/><circle cx="226.3" cy="244.9" r="0.7"/><circle cx="235.5" cy="295.5" r="0.6"/><circle cx="203.2" cy="257.2" r="0.8"/><circle cx="187.4" cy="215.3" r="0.9"/><circle cx="238.9" cy="206.3" r="0.6"/><circle cx="239.7" cy="282.9" r="0.9"/><circle cx="154.7" cy="275.6" r="1.1"/><circle cx="258.8" cy="273.3" r="0.5"/><circle cx="242.1" cy="222.2" r="0.9"/><circle cx="253.9" cy="274.5" r="0.6"/><circle cx="183.3" cy="296.3" r="0.6"/><circle cx="217.3" cy="242.9" r="0.6"/><circle cx="218.6" cy="203.6" r="0.6"/><circle cx="192.6" cy="206.6" r="0.5"/><circle cx="213.6" cy="277.7" r="1.0"/><circle cx="166.4" cy="244.8" r="0.7"/><circle cx="216.2" cy="250.9" r="1.1"/><circle cx="192.0" cy="204.9" r="0.9"/><circle cx="168.2" cy="265.9" r="0.8"/><circle cx="249.4" cy="257.8" r="0.9"/><circle cx="180.2" cy="257.5" r="0.7"/><circle cx="232.3" cy="253.8" r="0.6"/><circle cx="177.1" cy="238.3" r="0.9"/><circle cx="171.2" cy="274.6" r="0.9"/><circle cx="161.1" cy="269.8" r="0.6"/><circle cx="165.4" cy="262.0" r="0.6"/><circle cx="245.8" cy="249.9" r="0.7"/><circle cx="237.2" cy="202.1" r="0.9"/><circle cx="157.7" cy="215.0" r="1.1"/><circle cx="224.9" cy="222.6" r="0.6"/><circle cx="256.1" cy="269.5" r="1.0"/><circle cx="167.0" cy="265.2" r="0.7"/><circle cx="177.1" cy="234.3" r="0.9"/><circle cx="189.3" cy="239.9" r="0.6"/><circle cx="240.9" cy="267.7" r="1.0"/><circle cx="198.4" cy="289.3" r="0.8"/><circle cx="215.4" cy="259.8" r="0.9"/><circle cx="194.3" cy="209.3" r="0.5"/><circle cx="173.7" cy="203.2" r="1.0"/><circle cx="203.5" cy="279.6" r="0.5"/><circle cx="202.3" cy="293.3" r="0.9"/><circle cx="197.9" cy="248.4" r="0.6"/><circle cx="168.6" cy="215.9" r="0.7"/><circle cx="193.3" cy="292.3" r="0.6"/><circle cx="179.2" cy="228.4" r="0.6"/><circle cx="182.7" cy="223.9" r="0.8"/><circle cx="155.4" cy="297.0" r="0.7"/><circle cx="252.4" cy="271.9" r="0.9"/><circle cx="202.5" cy="299.2" r="0.6"/><circle cx="223.5" cy="229.9" r="0.9"/><circle cx="230.0" cy="216.3" r="0.6"/><circle cx="154.7" cy="223.4" r="0.5"/><circle cx="194.9" cy="302.2" r="0.7"/><circle cx="185.4" cy="248.6" r="0.7"/><circle cx="230.4" cy="275.1" r="0.6"/><circle cx="177.7" cy="270.3" r="1.1"/><circle cx="221.1" cy="244.6" r="1.1"/><circle cx="152.7" cy="205.5" r="1.0"/><circle cx="195.9" cy="203.8" r="0.8"/><circle cx="257.9" cy="254.0" r="0.7"/><circle cx="162.0" cy="206.5" r="1.0"/><circle cx="204.6" cy="298.2" r="0.5"/><circle cx="178.1" cy="204.3" r="0.7"/><circle cx="158.4" cy="226.1" r="0.7"/><circle cx="184.7" cy="204.4" r="0.5"/><circle cx="256.0" cy="218.0" r="0.8"/><circle cx="195.1" cy="255.3" r="0.6"/><circle cx="185.6" cy="210.4" r="0.8"/><circle cx="250.6" cy="262.4" r="1.0"/><circle cx="174.9" cy="200.8" r="0.8"/><circle cx="204.1" cy="259.6" r="0.7"/><circle cx="218.9" cy="275.9" r="1.0"/><circle cx="184.9" cy="246.6" r="1.0"/><circle cx="176.0" cy="211.3" r="0.7"/><circle cx="161.4" cy="280.9" r="1.0"/><circle cx="185.5" cy="212.8" r="0.5"/><circle cx="178.2" cy="207.9" r="0.8"/><circle cx="213.7" cy="225.0" r="0.5"/><circle cx="227.0" cy="204.1" r="0.6"/><circle cx="182.6" cy="238.6" r="0.6"/><circle cx="197.0" cy="232.3" r="1.0"/><circle cx="211.5" cy="294.0" r="0.9"/><circle cx="233.3" cy="259.9" r="0.8"/><circle cx="239.4" cy="268.5" r="1.1"/><circle cx="229.9" cy="273.3" r="0.7"/><circle cx="238.9" cy="239.5" r="0.6"/><circle cx="159.1" cy="217.0" r="0.7"/><circle cx="224.3" cy="229.3" r="0.5"/><circle cx="233.7" cy="258.1" r="0.5"/><circle cx="157.4" cy="212.8" r="0.7"/><circle cx="244.0" cy="299.6" r="0.9"/><circle cx="176.7" cy="244.5" r="0.7"/><circle cx="187.3" cy="200.3" r="0.9"/><circle cx="240.5" cy="276.0" r="0.6"/><circle cx="208.7" cy="217.1" r="0.9"/><circle cx="199.7" cy="298.5" r="1.0"/><circle cx="164.6" cy="232.6" r="1.0"/><circle cx="201.3" cy="245.0" r="0.8"/><circle cx="234.1" cy="298.2" r="0.8"/><circle cx="255.8" cy="262.2" r="0.6"/><circle cx="239.1" cy="243.5" r="0.5"/><circle cx="256.6" cy="202.5" r="0.8"/><circle cx="203.6" cy="292.5" r="0.7"/><circle cx="175.1" cy="228.4" r="0.6"/><circle cx="212.2" cy="236.8" r="1.0"/><circle cx="177.8" cy="236.3" r="0.6"/><circle cx="257.1" cy="288.1" r="1.0"/><circle cx="218.1" cy="241.5" r="0.6"/><circle cx="241.0" cy="251.0" r="0.5"/><circle cx="170.1" cy="209.5" r="0.9"/><circle cx="248.3" cy="220.1" r="1.0"/><circle cx="186.7" cy="271.4" r="1.0"/><circle cx="218.7" cy="283.8" r="0.7"/><circle cx="153.1" cy="253.2" r="0.9"/><circle cx="171.8" cy="240.2" r="0.7"/><circle cx="154.9" cy="232.1" r="0.7"/><circle cx="202.9" cy="273.6" r="0.7"/><circle cx="257.1" cy="285.4" r="1.1"/><circle cx="226.1" cy="270.0" r="0.8"/><circle cx="237.5" cy="237.5" r="0.9"/><circle cx="224.7" cy="254.4" r="0.7"/><circle cx="160.3" cy="208.3" r="0.7"/><circle cx="214.1" cy="279.5" r="0.9"/><circle cx="184.8" cy="297.5" r="0.7"/><circle cx="228.6" cy="206.6" r="1.0"/><circle cx="223.7" cy="300.4" r="1.0"/><circle cx="225.6" cy="287.9" r="0.9"/><circle cx="217.4" cy="221.1" r="0.8"/><circle cx="247.9" cy="224.3" r="1.1"/><circle cx="210.2" cy="240.7" r="0.5"/><circle cx="193.7" cy="217.9" r="0.9"/><circle cx="248.3" cy="295.5" r="0.9"/><circle cx="193.4" cy="210.5" r="0.9"/><circle cx="211.2" cy="274.8" r="0.7"/><circle cx="246.9" cy="221.5" r="0.7"/><circle cx="180.6" cy="265.0" r="1.0"/><circle cx="169.9" cy="266.1" r="1.0"/><circle cx="176.0" cy="205.6" r="0.8"/><circle cx="240.8" cy="292.1" r="0.9"/><circle cx="196.6" cy="244.1" r="0.8"/><circle cx="248.8" cy="231.0" r="0.7"/><circle cx="216.8" cy="301.5" r="0.6"/><circle cx="155.3" cy="211.3" r="0.8"/><circle cx="216.6" cy="218.5" r="0.6"/><circle cx="215.6" cy="267.5" r="0.9"/><circle cx="230.0" cy="205.5" r="0.8"/><circle cx="241.3" cy="300.5" r="0.7"/><circle cx="243.0" cy="267.4" r="1.1"/><circle cx="176.5" cy="272.9" r="1.0"/><circle cx="203.0" cy="209.7" r="0.6"/><circle cx="168.8" cy="208.8" r="0.6"/><circle cx="217.9" cy="210.1" r="1.0"/><circle cx="230.8" cy="285.5" r="1.0"/><circle cx="228.3" cy="297.0" r="1.1"/><circle cx="218.9" cy="301.3" r="0.6"/><circle cx="163.0" cy="205.8" r="0.6"/><circle cx="192.1" cy="247.6" r="0.9"/><circle cx="231.5" cy="207.9" r="0.7"/><circle cx="210.2" cy="238.8" r="0.6"/><circle cx="215.9" cy="238.7" r="0.9"/><circle cx="205.0" cy="301.0" r="1.1"/><circle cx="159.7" cy="279.5" r="0.9"/><circle cx="183.7" cy="211.4" r="0.8"/><circle cx="189.9" cy="277.2" r="1.1"/><circle cx="192.9" cy="229.8" r="0.8"/><circle cx="226.6" cy="282.6" r="0.8"/><circle cx="183.7" cy="234.7" r="1.0"/><circle cx="207.6" cy="204.3" r="0.8"/><circle cx="177.4" cy="269.6" r="0.5"/><circle cx="181.0" cy="209.2" r="0.8"/><circle cx="257.4" cy="256.4" r="0.7"/><circle cx="251.9" cy="208.7" r="0.7"/><circle cx="238.8" cy="199.5" r="1.0"/><circle cx="190.6" cy="200.7" r="0.7"/><circle cx="201.0" cy="239.6" r="0.8"/><circle cx="157.7" cy="222.2" r="1.1"/><circle cx="199.4" cy="249.0" r="0.6"/><circle cx="181.9" cy="300.2" r="0.9"/><circle cx="206.3" cy="204.6" r="0.7"/><circle cx="235.3" cy="245.1" r="0.9"/><circle cx="248.6" cy="267.4" r="0.9"/><circle cx="155.9" cy="201.5" r="1.0"/><circle cx="196.2" cy="291.7" r="1.0"/><circle cx="249.9" cy="239.1" r="1.1"/><circle cx="232.9" cy="293.5" r="0.6"/><circle cx="235.6" cy="243.7" r="1.1"/><circle cx="258.4" cy="222.0" r="0.8"/><circle cx="181.0" cy="248.8" r="0.7"/><circle cx="223.3" cy="212.1" r="0.6"/><circle cx="201.0" cy="206.8" r="0.7"/><circle cx="248.0" cy="292.8" r="0.6"/><circle cx="154.0" cy="286.8" r="1.1"/><circle cx="216.1" cy="213.5" r="0.6"/><circle cx="250.5" cy="298.4" r="0.5"/><circle cx="171.8" cy="244.5" r="0.7"/><circle cx="232.7" cy="238.5" r="1.0"/><circle cx="168.3" cy="253.9" r="1.1"/><circle cx="227.1" cy="208.5" r="0.6"/><circle cx="220.9" cy="238.7" r="0.7"/><circle cx="203.1" cy="260.7" r="1.1"/><circle cx="177.8" cy="259.3" r="0.7"/><circle cx="210.4" cy="276.5" r="0.6"/><circle cx="203.5" cy="273.8" r="0.5"/><circle cx="234.5" cy="243.4" r="0.8"/><circle cx="217.3" cy="283.0" r="0.5"/><circle cx="205.6" cy="203.1" r="0.7"/><circle cx="189.0" cy="201.3" r="0.7"/><circle cx="200.2" cy="268.4" r="1.1"/><circle cx="191.6" cy="255.2" r="0.9"/><circle cx="252.3" cy="299.7" r="1.1"/><circle cx="184.3" cy="216.7" r="1.1"/><circle cx="160.3" cy="246.6" r="0.9"/><circle cx="208.6" cy="240.2" r="1.1"/><circle cx="184.0" cy="257.5" r="1.0"/><circle cx="166.8" cy="236.2" r="0.8"/><circle cx="212.6" cy="221.0" r="0.8"/><circle cx="158.4" cy="208.3" r="0.7"/><circle cx="167.4" cy="301.6" r="0.7"/><circle cx="181.5" cy="282.1" r="0.9"/><circle cx="180.0" cy="286.9" r="0.9"/><circle cx="193.6" cy="265.7" r="0.6"/><circle cx="180.2" cy="291.9" r="0.8"/><circle cx="248.0" cy="217.8" r="0.6"/><circle cx="157.6" cy="277.4" r="0.8"/><circle cx="153.0" cy="203.6" r="1.0"/><circle cx="204.9" cy="291.4" r="0.5"/><circle cx="215.0" cy="211.5" r="0.9"/><circle cx="217.4" cy="263.9" r="0.6"/><circle cx="253.5" cy="210.8" r="0.5"/><circle cx="225.2" cy="208.8" r="0.5"/><circle cx="201.3" cy="267.8" r="1.0"/><circle cx="229.1" cy="206.4" r="0.9"/><circle cx="242.3" cy="211.8" r="1.0"/><circle cx="179.7" cy="230.7" r="0.5"/><circle cx="233.1" cy="253.7" r="1.0"/><circle cx="201.8" cy="215.5" r="0.6"/><circle cx="180.2" cy="299.4" r="0.6"/><circle cx="161.4" cy="236.4" r="0.5"/><circle cx="197.5" cy="264.9" r="0.9"/><circle cx="170.7" cy="213.7" r="0.8"/><circle cx="225.5" cy="246.4" r="0.8"/><circle cx="249.6" cy="214.4" r="0.7"/><circle cx="204.8" cy="255.8" r="1.0"/><circle cx="211.4" cy="269.2" r="0.8"/><circle cx="235.9" cy="287.6" r="0.7"/><circle cx="163.5" cy="226.5" r="0.7"/><circle cx="247.2" cy="227.0" r="0.9"/><circle cx="220.5" cy="300.4" r="0.6"/><circle cx="234.4" cy="234.7" r="0.6"/><circle cx="219.6" cy="288.5" r="0.8"/><circle cx="157.3" cy="302.0" r="0.7"/><circle cx="220.1" cy="275.7" r="0.7"/><circle cx="195.7" cy="233.9" r="0.6"/><circle cx="158.9" cy="275.0" r="0.7"/><circle cx="245.1" cy="205.6" r="0.7"/><circle cx="171.3" cy="299.0" r="1.0"/><circle cx="247.9" cy="252.7" r="0.6"/><circle cx="196.5" cy="223.0" r="0.5"/><circle cx="212.5" cy="229.7" r="0.6"/><circle cx="206.7" cy="297.9" r="1.1"/><circle cx="201.9" cy="209.9" r="1.0"/><circle cx="164.3" cy="256.0" r="0.6"/><circle cx="257.6" cy="256.5" r="0.8"/><circle cx="181.1" cy="257.4" r="1.1"/><circle cx="197.8" cy="221.2" r="0.8"/><circle cx="250.3" cy="239.5" r="0.9"/><circle cx="250.3" cy="233.5" r="1.0"/><circle cx="208.6" cy="213.8" r="0.5"/><circle cx="252.5" cy="248.4" r="0.8"/><circle cx="250.2" cy="259.8" r="0.8"/><circle cx="182.4" cy="277.9" r="0.7"/><circle cx="202.3" cy="279.4" r="0.9"/><circle cx="166.4" cy="220.5" r="0.9"/><circle cx="230.0" cy="209.9" r="1.1"/><circle cx="166.3" cy="216.8" r="0.6"/><circle cx="199.8" cy="264.7" r="1.0"/><circle cx="169.5" cy="273.1" r="0.6"/><circle cx="214.1" cy="225.7" r="0.7"/><circle cx="157.6" cy="275.4" r="0.6"/><circle cx="233.8" cy="234.7" r="0.9"/><circle cx="220.4" cy="250.8" r="1.0"/><circle cx="250.4" cy="228.9" r="0.7"/><circle cx="245.8" cy="213.1" r="0.8"/><circle cx="196.4" cy="302.5" r="0.6"/><circle cx="222.1" cy="279.2" r="0.9"/><circle cx="152.1" cy="299.0" r="0.7"/><circle cx="243.3" cy="269.1" r="0.8"/><circle cx="241.6" cy="270.6" r="0.7"/><circle cx="230.3" cy="252.5" r="0.9"/><circle cx="217.7" cy="283.4" r="0.6"/><circle cx="204.9" cy="199.1" r="1.0"/><circle cx="234.6" cy="287.7" r="0.5"/><circle cx="209.3" cy="249.7" r="0.6"/><circle cx="173.7" cy="302.3" r="1.0"/><circle cx="177.5" cy="286.9" r="0.9"/><circle cx="193.2" cy="267.3" r="0.6"/><circle cx="181.3" cy="200.1" r="0.9"/><circle cx="214.2" cy="277.8" r="0.8"/><circle cx="198.5" cy="231.5" r="0.9"/><circle cx="191.9" cy="262.3" r="1.0"/><circle cx="199.6" cy="271.7" r="0.5"/><circle cx="179.9" cy="288.1" r="0.6"/><circle cx="158.1" cy="200.5" r="1.0"/><circle cx="163.4" cy="247.6" r="0.8"/><circle cx="237.9" cy="249.5" r="0.8"/><circle cx="154.7" cy="283.3" r="1.0"/><circle cx="218.7" cy="287.5" r="0.9"/><circle cx="228.6" cy="289.2" r="0.9"/><circle cx="154.2" cy="292.8" r="1.1"/><circle cx="173.5" cy="206.0" r="0.7"/><circle cx="162.7" cy="238.2" r="0.6"/><circle cx="175.6" cy="199.3" r="0.8"/><circle cx="184.1" cy="276.3" r="0.7"/><circle cx="169.8" cy="300.1" r="1.0"/><circle cx="225.7" cy="222.0" r="0.7"/><circle cx="200.3" cy="242.3" r="0.5"/><circle cx="200.8" cy="280.4" r="0.9"/><circle cx="244.1" cy="271.4" r="1.0"/><circle cx="245.2" cy="296.2" r="1.0"/><circle cx="196.5" cy="268.9" r="0.9"/><circle cx="246.5" cy="274.6" r="0.8"/><circle cx="172.4" cy="233.7" r="0.7"/><circle cx="225.0" cy="280.6" r="0.6"/><circle cx="209.1" cy="288.1" r="0.7"/><circle cx="162.1" cy="263.2" r="0.7"/><circle cx="167.4" cy="229.5" r="0.5"/><circle cx="167.9" cy="244.1" r="0.6"/><circle cx="152.6" cy="257.3" r="1.1"/><circle cx="241.2" cy="233.6" r="1.1"/><circle cx="160.5" cy="214.9" r="0.5"/><circle cx="158.3" cy="262.8" r="1.0"/><circle cx="203.1" cy="284.2" r="0.8"/><circle cx="250.3" cy="263.4" r="0.8"/><circle cx="170.3" cy="244.2" r="0.8"/><circle cx="240.0" cy="223.3" r="0.7"/><circle cx="239.4" cy="206.5" r="0.8"/><circle cx="175.5" cy="269.5" r="0.9"/><circle cx="162.1" cy="276.4" r="0.7"/><circle cx="186.3" cy="289.8" r="1.0"/><circle cx="185.1" cy="270.8" r="0.6"/><circle cx="207.5" cy="207.7" r="0.9"/><circle cx="250.0" cy="266.5" r="0.5"/><circle cx="206.9" cy="248.8" r="0.8"/><circle cx="168.2" cy="228.5" r="0.8"/><circle cx="159.6" cy="270.5" r="0.6"/><circle cx="183.1" cy="208.6" r="0.7"/><circle cx="251.6" cy="229.9" r="0.6"/><circle cx="189.0" cy="299.2" r="0.6"/><circle cx="188.6" cy="221.2" r="0.9"/><circle cx="201.4" cy="209.4" r="1.0"/><circle cx="187.1" cy="271.7" r="0.8"/><circle cx="245.3" cy="205.2" r="0.6"/><circle cx="182.6" cy="227.0" r="1.0"/><circle cx="205.8" cy="235.8" r="0.8"/><circle cx="242.5" cy="259.4" r="0.8"/><circle cx="222.3" cy="264.2" r="0.7"/><circle cx="197.6" cy="213.0" r="0.8"/><circle cx="246.0" cy="231.4" r="0.7"/><circle cx="216.6" cy="261.6" r="0.6"/><circle cx="199.7" cy="276.8" r="0.5"/><circle cx="163.6" cy="279.1" r="1.0"/><circle cx="159.2" cy="207.6" r="0.9"/><circle cx="182.4" cy="268.6" r="0.5"/><circle cx="200.9" cy="216.1" r="0.7"/><circle cx="226.2" cy="253.1" r="1.0"/><circle cx="242.1" cy="264.7" r="1.0"/><circle cx="171.0" cy="249.3" r="0.7"/><circle cx="218.9" cy="210.8" r="1.0"/><circle cx="191.6" cy="282.1" r="1.1"/><circle cx="252.6" cy="240.4" r="1.0"/><circle cx="258.7" cy="212.8" r="0.9"/><circle cx="229.8" cy="247.5" r="0.7"/><circle cx="170.6" cy="242.6" r="1.1"/><circle cx="195.0" cy="226.1" r="0.9"/><circle cx="198.8" cy="264.0" r="0.8"/><circle cx="182.6" cy="202.8" r="1.0"/><circle cx="222.5" cy="224.8" r="0.8"/><circle cx="214.2" cy="252.4" r="1.0"/><circle cx="235.3" cy="231.5" r="0.7"/><circle cx="217.5" cy="216.2" r="1.1"/><circle cx="156.9" cy="251.9" r="0.7"/><circle cx="208.3" cy="203.8" r="0.6"/><circle cx="257.8" cy="282.5" r="0.6"/><circle cx="200.8" cy="202.4" r="0.6"/><circle cx="172.5" cy="303.3" r="0.7"/><circle cx="178.5" cy="205.9" r="0.6"/><circle cx="258.5" cy="277.5" r="1.1"/><circle cx="241.4" cy="282.0" r="0.7"/><circle cx="170.1" cy="227.6" r="0.5"/><circle cx="170.8" cy="275.3" r="0.8"/><circle cx="153.1" cy="231.3" r="1.0"/><circle cx="243.1" cy="276.3" r="0.9"/><circle cx="249.6" cy="258.1" r="0.7"/><circle cx="213.3" cy="228.9" r="0.5"/><circle cx="179.8" cy="247.5" r="0.6"/><circle cx="160.6" cy="225.2" r="0.7"/><circle cx="254.4" cy="250.6" r="1.0"/><circle cx="231.6" cy="261.8" r="0.7"/><circle cx="194.0" cy="232.6" r="0.9"/><circle cx="243.5" cy="282.8" r="0.7"/><circle cx="168.0" cy="199.9" r="0.9"/><circle cx="176.4" cy="199.6" r="0.7"/><circle cx="176.4" cy="220.8" r="0.9"/><circle cx="214.5" cy="228.9" r="0.9"/><circle cx="174.1" cy="296.7" r="0.6"/><circle cx="215.3" cy="273.7" r="0.9"/><circle cx="204.1" cy="291.4" r="0.9"/><circle cx="225.9" cy="207.4" r="0.6"/><circle cx="201.8" cy="256.8" r="0.6"/><circle cx="231.4" cy="235.7" r="0.8"/><circle cx="207.9" cy="287.9" r="0.7"/><circle cx="211.9" cy="263.2" r="0.9"/><circle cx="185.4" cy="228.6" r="0.8"/><circle cx="216.3" cy="267.3" r="0.6"/><circle cx="199.7" cy="258.4" r="0.6"/><circle cx="162.9" cy="297.5" r="0.5"/><circle cx="205.4" cy="230.2" r="0.5"/><circle cx="180.9" cy="216.1" r="0.7"/><circle cx="249.3" cy="207.4" r="0.7"/><circle cx="226.4" cy="265.2" r="0.5"/><circle cx="176.5" cy="228.8" r="1.0"/><circle cx="199.3" cy="226.3" r="0.8"/><circle cx="203.9" cy="214.8" r="0.9"/><circle cx="229.1" cy="249.6" r="0.8"/><circle cx="234.4" cy="300.4" r="0.9"/><circle cx="156.7" cy="252.5" r="0.9"/><circle cx="187.4" cy="271.5" r="0.7"/><circle cx="218.0" cy="264.1" r="0.9"/><circle cx="251.0" cy="274.0" r="0.9"/><circle cx="227.3" cy="223.4" r="0.9"/><circle cx="218.4" cy="205.5" r="1.0"/><circle cx="176.3" cy="251.2" r="0.8"/><circle cx="229.3" cy="280.1" r="0.8"/><circle cx="252.5" cy="246.0" r="0.8"/><circle cx="258.1" cy="233.3" r="0.9"/><circle cx="254.3" cy="208.0" r="1.0"/><circle cx="221.7" cy="256.2" r="1.0"/><circle cx="244.0" cy="214.5" r="0.8"/><circle cx="217.9" cy="273.1" r="1.1"/><circle cx="237.9" cy="286.8" r="0.5"/><circle cx="197.6" cy="295.8" r="1.1"/><circle cx="232.9" cy="234.4" r="1.0"/><circle cx="208.9" cy="269.8" r="0.9"/><circle cx="244.6" cy="274.7" r="1.1"/><circle cx="204.8" cy="251.3" r="0.9"/><circle cx="212.1" cy="204.2" r="1.1"/><circle cx="186.1" cy="252.0" r="0.5"/><circle cx="172.4" cy="297.4" r="0.7"/><circle cx="184.0" cy="285.1" r="0.6"/><circle cx="223.4" cy="259.2" r="1.0"/><circle cx="203.0" cy="233.8" r="0.7"/><circle cx="190.9" cy="199.0" r="0.6"/><circle cx="167.9" cy="232.3" r="1.0"/><circle cx="252.8" cy="236.6" r="0.6"/><circle cx="183.4" cy="265.7" r="0.8"/><circle cx="164.6" cy="254.5" r="0.7"/><circle cx="167.4" cy="282.2" r="0.6"/><circle cx="199.0" cy="280.2" r="0.8"/><circle cx="245.5" cy="232.6" r="1.1"/><circle cx="156.7" cy="293.9" r="0.8"/><circle cx="152.3" cy="226.5" r="1.1"/><circle cx="228.6" cy="277.1" r="1.0"/><circle cx="152.7" cy="231.5" r="0.8"/><circle cx="249.3" cy="295.2" r="0.6"/><circle cx="257.6" cy="257.8" r="0.7"/><circle cx="160.8" cy="244.2" r="0.8"/><circle cx="200.5" cy="231.9" r="1.1"/><circle cx="202.9" cy="231.6" r="1.0"/><circle cx="178.1" cy="243.8" r="0.6"/><circle cx="177.5" cy="304.7" r="0.9"/><circle cx="208.0" cy="270.4" r="0.9"/><circle cx="207.8" cy="237.9" r="0.6"/><circle cx="155.2" cy="211.8" r="0.7"/><circle cx="153.1" cy="270.5" r="0.7"/><circle cx="177.0" cy="232.2" r="0.8"/><circle cx="174.4" cy="289.4" r="0.8"/><circle cx="159.3" cy="208.0" r="1.0"/><circle cx="213.9" cy="229.9" r="0.9"/><circle cx="156.9" cy="293.2" r="1.1"/><circle cx="223.1" cy="204.4" r="0.8"/><circle cx="241.5" cy="261.9" r="0.6"/><circle cx="177.1" cy="205.7" r="0.8"/><circle cx="171.4" cy="246.2" r="1.0"/><circle cx="248.4" cy="251.1" r="1.0"/><circle cx="166.3" cy="299.5" r="1.0"/><circle cx="203.7" cy="292.9" r="0.7"/><circle cx="256.9" cy="233.2" r="1.1"/><circle cx="241.6" cy="298.1" r="0.9"/><circle cx="159.8" cy="228.6" r="0.9"/><circle cx="249.2" cy="271.2" r="0.5"/><circle cx="189.2" cy="235.6" r="0.6"/><circle cx="176.1" cy="253.7" r="0.7"/><circle cx="180.6" cy="242.7" r="1.1"/><circle cx="215.9" cy="278.7" r="1.1"/><circle cx="155.3" cy="292.3" r="0.6"/><circle cx="173.0" cy="277.4" r="1.0"/><circle cx="217.8" cy="249.5" r="0.9"/><circle cx="197.8" cy="219.6" r="0.6"/><circle cx="164.1" cy="202.9" r="1.1"/><circle cx="253.7" cy="236.0" r="0.7"/><circle cx="181.8" cy="281.8" r="0.8"/><circle cx="170.2" cy="292.7" r="1.1"/><circle cx="157.0" cy="247.7" r="0.6"/><circle cx="220.4" cy="237.0" r="0.7"/><circle cx="184.4" cy="263.4" r="0.8"/><circle cx="204.2" cy="271.1" r="0.8"/><circle cx="253.3" cy="245.5" r="1.0"/><circle cx="251.6" cy="264.9" r="0.9"/><circle cx="236.5" cy="274.5" r="0.6"/><circle cx="196.6" cy="215.6" r="0.5"/><circle cx="225.5" cy="233.9" r="0.7"/><circle cx="154.8" cy="201.4" r="0.9"/><circle cx="190.3" cy="245.2" r="0.9"/><circle cx="249.1" cy="273.3" r="0.6"/><circle cx="257.8" cy="218.5" r="0.8"/><circle cx="220.9" cy="229.5" r="1.0"/><circle cx="217.3" cy="274.3" r="0.6"/><circle cx="241.1" cy="229.5" r="0.9"/><circle cx="230.9" cy="233.2" r="0.7"/><circle cx="187.4" cy="302.7" r="0.9"/><circle cx="202.4" cy="258.6" r="0.9"/><circle cx="180.0" cy="207.0" r="0.6"/><circle cx="214.3" cy="262.5" r="1.1"/><circle cx="218.4" cy="289.4" r="1.1"/><circle cx="205.1" cy="243.7" r="0.8"/><circle cx="191.8" cy="279.6" r="0.8"/><circle cx="165.1" cy="300.3" r="0.8"/><circle cx="232.1" cy="257.0" r="0.9"/><circle cx="213.6" cy="211.2" r="0.6"/><circle cx="230.2" cy="236.1" r="0.6"/><circle cx="239.3" cy="278.3" r="1.0"/><circle cx="193.4" cy="213.0" r="1.0"/><circle cx="175.1" cy="269.8" r="0.9"/><circle cx="181.2" cy="199.2" r="0.9"/><circle cx="236.6" cy="261.4" r="1.1"/><circle cx="176.4" cy="276.5" r="0.8"/><circle cx="214.1" cy="231.0" r="0.6"/><circle cx="210.7" cy="263.4" r="1.0"/><circle cx="216.6" cy="252.0" r="0.9"/><circle cx="219.2" cy="242.2" r="0.7"/><circle cx="225.0" cy="240.0" r="0.5"/><circle cx="170.2" cy="237.1" r="0.9"/><circle cx="222.2" cy="251.0" r="1.0"/><circle cx="186.9" cy="236.2" r="1.0"/><circle cx="224.7" cy="244.1" r="1.0"/><circle cx="154.8" cy="255.9" r="1.0"/><circle cx="246.1" cy="219.5" r="1.0"/><circle cx="209.0" cy="298.1" r="0.7"/><circle cx="223.1" cy="267.0" r="1.1"/><circle cx="188.3" cy="240.3" r="0.6"/><circle cx="225.2" cy="206.5" r="1.0"/><circle cx="167.6" cy="219.2" r="1.1"/><circle cx="205.3" cy="279.0" r="0.7"/><circle cx="177.9" cy="238.1" r="1.1"/><circle cx="172.5" cy="294.9" r="1.0"/><circle cx="224.8" cy="227.2" r="0.9"/><circle cx="248.8" cy="261.8" r="0.6"/><circle cx="217.3" cy="300.4" r="0.9"/><circle cx="168.0" cy="220.5" r="0.9"/><circle cx="157.1" cy="199.1" r="0.7"/><circle cx="179.5" cy="251.3" r="0.5"/><circle cx="211.9" cy="270.6" r="0.7"/><circle cx="214.2" cy="254.9" r="1.0"/><circle cx="213.7" cy="266.6" r="0.8"/><circle cx="240.1" cy="209.2" r="0.6"/><circle cx="244.6" cy="287.4" r="0.5"/><circle cx="247.7" cy="263.5" r="1.0"/><circle cx="227.0" cy="238.9" r="0.6"/><circle cx="233.8" cy="274.3" r="0.8"/><circle cx="181.0" cy="237.6" r="1.1"/><circle cx="201.6" cy="221.3" r="1.1"/><circle cx="256.7" cy="217.7" r="0.6"/><circle cx="230.1" cy="240.0" r="0.8"/><circle cx="225.2" cy="228.0" r="0.9"/><circle cx="173.8" cy="222.5" r="0.8"/><circle cx="197.8" cy="293.8" r="0.6"/><circle cx="250.0" cy="226.8" r="0.7"/><circle cx="163.4" cy="232.5" r="1.1"/><circle cx="190.7" cy="287.6" r="1.1"/><circle cx="226.4" cy="218.5" r="0.8"/><circle cx="169.9" cy="225.5" r="0.7"/><circle cx="169.7" cy="271.1" r="0.8"/><circle cx="183.1" cy="226.0" r="0.6"/><circle cx="164.2" cy="245.5" r="0.5"/><circle cx="207.9" cy="226.1" r="1.0"/><circle cx="180.6" cy="289.7" r="1.1"/><circle cx="251.5" cy="223.1" r="1.1"/><circle cx="202.5" cy="292.8" r="0.8"/><circle cx="209.9" cy="226.4" r="1.0"/><circle cx="191.4" cy="292.7" r="0.9"/><circle cx="197.9" cy="202.3" r="0.7"/><circle cx="196.6" cy="238.3" r="0.8"/><circle cx="152.6" cy="248.6" r="1.0"/><circle cx="254.0" cy="272.0" r="0.9"/><circle cx="216.5" cy="304.9" r="1.0"/><circle cx="201.2" cy="251.5" r="1.1"/><circle cx="211.0" cy="262.4" r="0.7"/><circle cx="223.1" cy="250.8" r="1.1"/><circle cx="259.0" cy="304.6" r="1.1"/><circle cx="156.7" cy="206.7" r="0.7"/><circle cx="240.5" cy="258.2" r="0.7"/><circle cx="162.8" cy="225.5" r="0.6"/><circle cx="167.4" cy="278.0" r="0.6"/><circle cx="169.9" cy="264.7" r="0.6"/><circle cx="241.2" cy="267.9" r="1.0"/><circle cx="229.7" cy="276.4" r="0.7"/><circle cx="197.2" cy="239.3" r="0.7"/><circle cx="249.6" cy="245.2" r="1.0"/><circle cx="219.5" cy="207.8" r="0.6"/><circle cx="213.8" cy="282.7" r="0.6"/><circle cx="178.7" cy="239.0" r="0.8"/><circle cx="196.9" cy="297.0" r="0.9"/><circle cx="181.8" cy="235.5" r="0.8"/><circle cx="169.2" cy="240.6" r="0.5"/><circle cx="222.2" cy="290.9" r="1.0"/><circle cx="215.9" cy="239.8" r="0.8"/><circle cx="211.4" cy="217.7" r="0.8"/><circle cx="205.2" cy="219.9" r="0.8"/><circle cx="241.5" cy="267.0" r="0.7"/><circle cx="177.5" cy="265.8" r="0.8"/><circle cx="183.9" cy="248.9" r="0.7"/><circle cx="219.1" cy="292.1" r="0.7"/><circle cx="209.6" cy="258.6" r="0.9"/><circle cx="178.1" cy="225.2" r="1.1"/><circle cx="167.6" cy="271.2" r="0.7"/><circle cx="204.6" cy="246.8" r="0.6"/><circle cx="170.8" cy="300.5" r="0.5"/><circle cx="167.3" cy="277.3" r="0.7"/><circle cx="172.9" cy="281.3" r="1.1"/><circle cx="174.2" cy="273.9" r="0.7"/><circle cx="258.8" cy="262.3" r="1.0"/><circle cx="223.0" cy="213.0" r="0.8"/><circle cx="227.5" cy="215.2" r="0.6"/><circle cx="258.0" cy="296.9" r="0.9"/><circle cx="158.8" cy="273.3" r="1.1"/><circle cx="235.7" cy="274.8" r="0.8"/><circle cx="219.6" cy="297.2" r="0.8"/><circle cx="160.0" cy="214.4" r="1.1"/><circle cx="227.9" cy="298.1" r="0.6"/><circle cx="163.3" cy="271.4" r="0.8"/><circle cx="201.5" cy="223.7" r="1.0"/><circle cx="235.6" cy="275.9" r="0.8"/><circle cx="204.5" cy="240.9" r="0.8"/><circle cx="186.9" cy="248.7" r="1.1"/><circle cx="237.8" cy="213.3" r="0.9"/><circle cx="239.7" cy="235.5" r="1.0"/><circle cx="252.6" cy="206.5" r="0.9"/><circle cx="192.7" cy="248.4" r="0.8"/><circle cx="244.0" cy="265.9" r="1.0"/><circle cx="178.6" cy="283.5" r="0.7"/><circle cx="171.5" cy="284.1" r="0.8"/><circle cx="176.1" cy="293.7" r="0.8"/><circle cx="224.1" cy="303.5" r="0.7"/><circle cx="210.2" cy="256.9" r="0.7"/><circle cx="209.1" cy="301.4" r="0.9"/><circle cx="180.4" cy="271.4" r="0.9"/><circle cx="191.5" cy="270.1" r="0.7"/><circle cx="235.6" cy="240.1" r="1.0"/><circle cx="183.8" cy="217.2" r="0.7"/><circle cx="165.4" cy="291.7" r="1.1"/><circle cx="196.5" cy="224.5" r="1.0"/><circle cx="243.1" cy="224.9" r="0.7"/><circle cx="205.2" cy="213.0" r="0.6"/><circle cx="194.5" cy="211.7" r="0.6"/><circle cx="216.7" cy="230.9" r="1.0"/><circle cx="254.9" cy="270.0" r="0.7"/><circle cx="233.3" cy="234.9" r="1.0"/><circle cx="197.3" cy="272.3" r="1.0"/><circle cx="227.2" cy="278.8" r="0.7"/><circle cx="168.2" cy="238.1" r="1.1"/><circle cx="155.9" cy="228.9" r="0.7"/><circle cx="199.1" cy="291.3" r="0.6"/><circle cx="163.1" cy="200.9" r="0.7"/><circle cx="229.7" cy="247.0" r="0.9"/><circle cx="206.9" cy="237.2" r="0.7"/><circle cx="156.4" cy="299.9" r="0.9"/><circle cx="162.4" cy="220.5" r="1.0"/><circle cx="206.3" cy="278.4" r="1.0"/><circle cx="167.6" cy="286.2" r="0.6"/><circle cx="166.8" cy="278.2" r="1.0"/><circle cx="184.4" cy="239.8" r="0.9"/><circle cx="183.5" cy="246.1" r="1.1"/><circle cx="165.9" cy="299.0" r="1.0"/><circle cx="258.7" cy="225.0" r="0.6"/><circle cx="198.8" cy="217.1" r="1.1"/><circle cx="213.1" cy="288.2" r="0.8"/><circle cx="205.4" cy="300.3" r="0.6"/><circle cx="176.1" cy="289.8" r="0.9"/><circle cx="235.7" cy="304.5" r="1.0"/><circle cx="217.3" cy="278.6" r="0.8"/><circle cx="175.4" cy="233.5" r="1.1"/><circle cx="208.3" cy="202.4" r="0.9"/><circle cx="258.3" cy="265.4" r="0.8"/><circle cx="200.8" cy="265.9" r="0.9"/><circle cx="204.3" cy="294.8" r="1.0"/><circle cx="235.7" cy="275.9" r="0.9"/><circle cx="173.1" cy="251.0" r="0.7"/><circle cx="173.9" cy="299.7" r="0.6"/><circle cx="239.2" cy="287.4" r="0.7"/><circle cx="154.6" cy="217.8" r="0.9"/><circle cx="227.9" cy="236.6" r="0.9"/><circle cx="169.4" cy="268.7" r="1.0"/><circle cx="235.7" cy="258.7" r="0.8"/><circle cx="152.2" cy="227.2" r="0.7"/><circle cx="159.7" cy="206.8" r="1.1"/><circle cx="225.1" cy="258.6" r="0.9"/><circle cx="245.0" cy="266.3" r="0.8"/><circle cx="194.0" cy="301.9" r="1.1"/><circle cx="168.3" cy="285.7" r="0.9"/><circle cx="188.8" cy="272.6" r="0.7"/><circle cx="231.8" cy="258.2" r="0.9"/><circle cx="158.0" cy="294.7" r="1.1"/><circle cx="233.4" cy="230.1" r="0.9"/><circle cx="164.5" cy="256.9" r="0.7"/><circle cx="202.4" cy="229.7" r="0.5"/><circle cx="198.6" cy="224.2" r="0.6"/><circle cx="187.5" cy="212.2" r="0.5"/><circle cx="256.2" cy="204.9" r="1.0"/><circle cx="196.9" cy="211.8" r="0.8"/><circle cx="206.3" cy="204.9" r="0.8"/><circle cx="152.8" cy="230.7" r="0.9"/><circle cx="242.4" cy="217.9" r="0.7"/><circle cx="253.4" cy="232.4" r="0.6"/><circle cx="178.4" cy="290.8" r="0.7"/><circle cx="223.2" cy="298.4" r="0.9"/><circle cx="173.1" cy="250.0" r="0.7"/><circle cx="203.3" cy="264.2" r="1.1"/><circle cx="225.7" cy="252.9" r="1.0"/><circle cx="206.3" cy="219.5" r="0.9"/><circle cx="180.9" cy="221.5" r="0.7"/><circle cx="203.9" cy="202.4" r="0.7"/><circle cx="254.8" cy="253.0" r="0.7"/><circle cx="200.9" cy="273.0" r="0.8"/><circle cx="195.3" cy="260.5" r="0.7"/><circle cx="225.0" cy="243.9" r="0.9"/><circle cx="189.3" cy="266.7" r="0.6"/><circle cx="203.9" cy="251.2" r="0.5"/><circle cx="165.5" cy="247.8" r="1.0"/><circle cx="238.8" cy="288.5" r="1.0"/><circle cx="255.4" cy="219.7" r="0.6"/><circle cx="166.8" cy="283.0" r="0.6"/><circle cx="185.9" cy="213.7" r="1.0"/><circle cx="174.4" cy="224.0" r="0.9"/><circle cx="227.2" cy="203.1" r="0.8"/><circle cx="208.7" cy="257.7" r="0.8"/><circle cx="237.4" cy="286.2" r="1.0"/><circle cx="187.4" cy="203.4" r="0.8"/><circle cx="154.8" cy="266.5" r="0.8"/><circle cx="231.9" cy="287.3" r="0.9"/><circle cx="226.2" cy="234.3" r="0.9"/><circle cx="220.4" cy="222.2" r="1.0"/><circle cx="202.6" cy="255.3" r="0.6"/><circle cx="240.9" cy="249.2" r="0.9"/><circle cx="242.1" cy="254.0" r="0.9"/><circle cx="201.6" cy="224.2" r="1.0"/><circle cx="250.5" cy="202.7" r="0.5"/><circle cx="202.3" cy="207.5" r="0.8"/><circle cx="188.6" cy="224.5" r="1.0"/><circle cx="214.2" cy="296.7" r="0.6"/><circle cx="192.7" cy="264.4" r="1.0"/><circle cx="197.8" cy="218.7" r="0.7"/><circle cx="212.8" cy="301.5" r="0.9"/><circle cx="242.4" cy="287.4" r="0.8"/><circle cx="206.1" cy="287.4" r="0.9"/><circle cx="194.8" cy="219.0" r="0.9"/><circle cx="183.3" cy="227.1" r="0.7"/><circle cx="225.5" cy="267.5" r="1.1"/><circle cx="215.1" cy="250.3" r="1.0"/><circle cx="166.8" cy="261.4" r="1.1"/><circle cx="187.6" cy="215.1" r="0.6"/><circle cx="154.9" cy="276.6" r="0.7"/><circle cx="239.8" cy="287.5" r="0.5"/><circle cx="184.8" cy="227.0" r="0.7"/><circle cx="155.1" cy="226.0" r="0.7"/><circle cx="200.4" cy="255.3" r="1.1"/><circle cx="163.6" cy="213.2" r="1.0"/><circle cx="182.8" cy="256.1" r="0.7"/><circle cx="247.8" cy="298.0" r="0.8"/><circle cx="162.1" cy="238.4" r="0.9"/><circle cx="212.6" cy="228.7" r="0.7"/><circle cx="158.6" cy="241.8" r="1.0"/><circle cx="193.4" cy="248.4" r="0.6"/><circle cx="228.3" cy="243.2" r="0.7"/><circle cx="234.7" cy="230.5" r="0.5"/><circle cx="220.7" cy="277.2" r="0.5"/><circle cx="188.9" cy="292.9" r="0.8"/><circle cx="195.6" cy="212.8" r="0.7"/><circle cx="214.8" cy="296.0" r="0.9"/><circle cx="255.6" cy="242.2" r="0.5"/><circle cx="188.5" cy="237.8" r="0.5"/><circle cx="160.7" cy="295.6" r="1.0"/><circle cx="166.2" cy="207.7" r="1.1"/><circle cx="169.8" cy="231.0" r="0.6"/><circle cx="174.3" cy="202.3" r="0.8"/><circle cx="235.0" cy="206.5" r="0.8"/><circle cx="166.1" cy="282.5" r="1.0"/><circle cx="245.6" cy="255.6" r="0.6"/><circle cx="228.7" cy="206.4" r="1.0"/><circle cx="184.1" cy="293.6" r="0.7"/><circle cx="231.2" cy="251.5" r="0.6"/><circle cx="204.6" cy="244.6" r="0.6"/><circle cx="210.5" cy="255.4" r="0.9"/><circle cx="188.3" cy="264.2" r="0.6"/><circle cx="207.9" cy="224.4" r="1.0"/><circle cx="172.4" cy="229.8" r="0.5"/><circle cx="184.0" cy="256.4" r="0.6"/><circle cx="164.9" cy="293.7" r="0.7"/><circle cx="175.1" cy="241.3" r="1.0"/><circle cx="231.9" cy="294.7" r="0.8"/><circle cx="187.8" cy="252.1" r="0.5"/><circle cx="225.0" cy="287.9" r="1.0"/><circle cx="240.9" cy="267.6" r="1.0"/><circle cx="183.2" cy="258.6" r="0.6"/><circle cx="252.2" cy="253.3" r="0.6"/><circle cx="257.3" cy="264.7" r="0.6"/><circle cx="242.5" cy="265.4" r="0.9"/><circle cx="245.9" cy="232.5" r="0.7"/><circle cx="213.0" cy="220.6" r="0.9"/><circle cx="203.0" cy="220.2" r="0.6"/><circle cx="169.3" cy="260.1" r="1.0"/><circle cx="237.3" cy="288.9" r="0.8"/><circle cx="237.7" cy="234.0" r="0.7"/><circle cx="248.7" cy="226.4" r="0.9"/><circle cx="212.7" cy="204.5" r="0.8"/><circle cx="237.3" cy="293.2" r="0.8"/><circle cx="248.2" cy="203.0" r="1.0"/><circle cx="224.8" cy="284.9" r="0.8"/><circle cx="214.9" cy="286.5" r="0.6"/><circle cx="171.6" cy="278.8" r="1.0"/><circle cx="176.4" cy="257.0" r="0.8"/><circle cx="185.3" cy="288.4" r="0.7"/><circle cx="235.4" cy="242.7" r="0.6"/><circle cx="254.9" cy="214.6" r="0.6"/><circle cx="155.1" cy="236.2" r="0.5"/><circle cx="168.6" cy="298.7" r="0.7"/><circle cx="228.5" cy="221.6" r="0.5"/><circle cx="152.8" cy="211.9" r="1.1"/><circle cx="200.9" cy="225.5" r="0.5"/><circle cx="220.6" cy="232.5" r="0.6"/><circle cx="198.8" cy="274.4" r="0.7"/><circle cx="212.1" cy="219.0" r="0.8"/><circle cx="156.5" cy="296.8" r="1.1"/><circle cx="213.6" cy="249.2" r="0.7"/><circle cx="232.1" cy="260.3" r="0.9"/><circle cx="199.4" cy="241.4" r="0.9"/><circle cx="171.4" cy="235.3" r="0.6"/><circle cx="174.0" cy="290.5" r="0.7"/><circle cx="230.8" cy="204.1" r="1.1"/><circle cx="202.2" cy="277.9" r="0.6"/><circle cx="216.6" cy="285.1" r="0.7"/><circle cx="161.9" cy="239.6" r="1.0"/><circle cx="233.5" cy="205.8" r="0.7"/><circle cx="250.0" cy="229.6" r="0.6"/><circle cx="244.9" cy="285.9" r="0.8"/><circle cx="226.6" cy="278.6" r="1.0"/><circle cx="172.2" cy="276.4" r="1.1"/><circle cx="236.4" cy="254.3" r="0.7"/><circle cx="256.8" cy="304.3" r="1.0"/><circle cx="206.2" cy="293.7" r="1.0"/><circle cx="206.0" cy="213.0" r="0.9"/><circle cx="166.4" cy="234.5" r="0.8"/><circle cx="205.7" cy="267.3" r="1.0"/><circle cx="253.5" cy="231.9" r="1.1"/><circle cx="186.5" cy="235.9" r="1.0"/><circle cx="256.4" cy="252.8" r="1.0"/><circle cx="240.4" cy="232.4" r="0.9"/><circle cx="252.4" cy="201.2" r="0.6"/><circle cx="245.4" cy="259.0" r="0.8"/><circle cx="236.9" cy="246.0" r="0.6"/><circle cx="189.5" cy="279.6" r="0.9"/><circle cx="205.0" cy="200.2" r="1.1"/><circle cx="160.4" cy="228.5" r="1.0"/><circle cx="252.3" cy="271.9" r="0.7"/><circle cx="231.9" cy="269.8" r="0.8"/><circle cx="236.0" cy="257.6" r="0.8"/><circle cx="179.6" cy="281.4" r="0.6"/><circle cx="162.2" cy="265.7" r="0.5"/><circle cx="245.6" cy="219.4" r="0.8"/><circle cx="179.8" cy="250.1" r="0.9"/><circle cx="173.1" cy="256.6" r="1.1"/><circle cx="168.0" cy="222.2" r="0.6"/><circle cx="163.4" cy="200.3" r="1.1"/><circle cx="255.1" cy="203.1" r="1.0"/><circle cx="214.0" cy="221.0" r="1.0"/><circle cx="164.4" cy="266.9" r="0.9"/><circle cx="226.8" cy="224.1" r="0.6"/><circle cx="219.5" cy="230.1" r="0.9"/><circle cx="231.1" cy="202.4" r="0.9"/><circle cx="256.7" cy="241.7" r="0.8"/><circle cx="187.3" cy="292.3" r="0.6"/><circle cx="162.7" cy="252.3" r="0.8"/><circle cx="213.0" cy="220.6" r="1.1"/><circle cx="209.2" cy="240.2" r="0.9"/><circle cx="156.1" cy="296.6" r="1.0"/><circle cx="179.5" cy="247.0" r="0.5"/><circle cx="236.8" cy="302.2" r="0.9"/><circle cx="256.7" cy="249.1" r="1.0"/><circle cx="242.3" cy="297.1" r="0.8"/><circle cx="206.4" cy="202.7" r="1.1"/><circle cx="161.4" cy="260.6" r="0.9"/><circle cx="170.6" cy="236.1" r="0.7"/><circle cx="153.0" cy="241.4" r="0.7"/><circle cx="228.8" cy="273.2" r="1.1"/><circle cx="245.2" cy="226.2" r="0.9"/><circle cx="226.1" cy="282.6" r="0.6"/><circle cx="187.6" cy="264.1" r="0.7"/><circle cx="250.0" cy="242.9" r="0.9"/><circle cx="159.3" cy="294.2" r="1.1"/><circle cx="255.3" cy="235.2" r="1.0"/><circle cx="257.2" cy="210.3" r="0.5"/><circle cx="223.1" cy="303.8" r="0.5"/><circle cx="241.6" cy="269.0" r="0.8"/><circle cx="167.3" cy="252.7" r="0.8"/><circle cx="173.6" cy="294.4" r="0.9"/><circle cx="169.7" cy="264.9" r="0.9"/><circle cx="252.4" cy="303.0" r="1.0"/><circle cx="157.8" cy="243.6" r="0.6"/><circle cx="232.3" cy="207.7" r="1.0"/><circle cx="217.9" cy="267.1" r="1.1"/><circle cx="245.0" cy="276.6" r="0.9"/><circle cx="210.5" cy="253.9" r="0.5"/><circle cx="173.0" cy="272.0" r="0.7"/><circle cx="200.3" cy="288.7" r="0.7"/><circle cx="229.9" cy="284.2" r="1.0"/><circle cx="177.1" cy="263.4" r="0.8"/><circle cx="214.8" cy="208.1" r="0.6"/><circle cx="178.3" cy="282.1" r="1.0"/><circle cx="193.0" cy="263.2" r="0.8"/><circle cx="209.5" cy="227.3" r="0.7"/><circle cx="254.5" cy="292.8" r="0.6"/><circle cx="164.7" cy="290.7" r="0.8"/><circle cx="220.5" cy="262.9" r="0.9"/><circle cx="248.9" cy="215.3" r="1.0"/><circle cx="179.8" cy="207.0" r="0.7"/><circle cx="207.1" cy="284.1" r="0.8"/><circle cx="255.8" cy="219.0" r="0.7"/><circle cx="213.4" cy="261.6" r="0.9"/><circle cx="206.2" cy="209.7" r="1.0"/><circle cx="237.0" cy="206.6" r="1.0"/><circle cx="152.6" cy="271.5" r="0.9"/><circle cx="183.8" cy="208.5" r="0.7"/><circle cx="218.9" cy="255.6" r="1.0"/><circle cx="170.4" cy="264.8" r="0.7"/><circle cx="156.6" cy="218.8" r="0.6"/><circle cx="169.0" cy="203.0" r="1.1"/><circle cx="190.5" cy="279.3" r="0.8"/><circle cx="206.7" cy="225.7" r="1.1"/><circle cx="174.6" cy="300.7" r="1.0"/><circle cx="244.4" cy="209.3" r="1.1"/><circle cx="221.9" cy="260.4" r="0.8"/><circle cx="199.7" cy="300.1" r="1.1"/><circle cx="253.9" cy="214.0" r="0.8"/><circle cx="226.9" cy="218.4" r="1.0"/><circle cx="232.5" cy="211.8" r="0.7"/><circle cx="224.8" cy="292.4" r="1.1"/><circle cx="181.6" cy="287.6" r="0.9"/><circle cx="190.7" cy="224.5" r="0.6"/><circle cx="155.7" cy="244.6" r="0.6"/><circle cx="173.8" cy="233.1" r="0.6"/><circle cx="173.6" cy="226.2" r="1.1"/><circle cx="197.4" cy="264.4" r="0.8"/><circle cx="254.7" cy="286.6" r="1.1"/><circle cx="245.3" cy="277.2" r="1.0"/><circle cx="187.5" cy="263.4" r="0.7"/><circle cx="251.0" cy="227.4" r="1.1"/><circle cx="177.3" cy="235.0" r="0.9"/><circle cx="213.2" cy="221.7" r="0.6"/><circle cx="245.7" cy="221.0" r="0.8"/><circle cx="241.6" cy="250.5" r="0.8"/><circle cx="169.5" cy="298.2" r="0.9"/><circle cx="223.5" cy="240.7" r="0.9"/><circle cx="192.5" cy="217.9" r="0.7"/><circle cx="233.5" cy="290.6" r="0.8"/><circle cx="222.6" cy="298.1" r="0.9"/><circle cx="256.4" cy="225.8" r="1.0"/><circle cx="232.3" cy="259.5" r="0.9"/><circle cx="170.0" cy="200.8" r="0.5"/><circle cx="247.3" cy="241.2" r="0.9"/><circle cx="199.4" cy="292.1" r="0.9"/><circle cx="192.0" cy="266.7" r="0.6"/><circle cx="252.9" cy="216.0" r="1.0"/><circle cx="209.4" cy="214.6" r="1.1"/><circle cx="173.3" cy="270.9" r="0.7"/><circle cx="166.3" cy="282.9" r="1.0"/><circle cx="247.4" cy="270.3" r="0.9"/><circle cx="168.8" cy="304.8" r="0.7"/><circle cx="220.3" cy="201.7" r="0.7"/><circle cx="207.9" cy="249.2" r="0.7"/><circle cx="193.0" cy="201.0" r="0.9"/><circle cx="190.0" cy="211.0" r="0.7"/><circle cx="223.7" cy="277.8" r="0.7"/><circle cx="164.4" cy="265.4" r="0.9"/><circle cx="203.7" cy="301.8" r="0.7"/><circle cx="207.9" cy="202.2" r="0.6"/><circle cx="172.8" cy="218.8" r="0.6"/><circle cx="163.6" cy="296.5" r="0.9"/><circle cx="204.4" cy="258.6" r="0.7"/><circle cx="244.7" cy="277.0" r="0.8"/><circle cx="154.4" cy="199.0" r="0.5"/><circle cx="229.7" cy="202.3" r="0.8"/><circle cx="207.5" cy="238.3" r="0.7"/><circle cx="252.6" cy="300.2" r="1.0"/><circle cx="209.5" cy="299.9" r="0.9"/><circle cx="176.7" cy="213.9" r="0.6"/><circle cx="163.1" cy="240.3" r="0.9"/><circle cx="174.3" cy="207.6" r="0.7"/><circle cx="201.0" cy="292.2" r="1.0"/><circle cx="239.9" cy="226.6" r="1.0"/><circle cx="182.0" cy="261.0" r="0.8"/><circle cx="176.9" cy="256.3" r="0.7"/><circle cx="237.2" cy="223.9" r="1.0"/><circle cx="172.2" cy="199.9" r="0.8"/><circle cx="246.3" cy="266.3" r="0.7"/><circle cx="206.1" cy="234.1" r="0.9"/><circle cx="182.8" cy="216.8" r="1.1"/><circle cx="156.2" cy="213.4" r="0.7"/><circle cx="187.6" cy="257.7" r="0.8"/><circle cx="168.6" cy="287.0" r="0.9"/><circle cx="171.5" cy="216.9" r="0.6"/><circle cx="206.7" cy="266.5" r="0.9"/><circle cx="177.5" cy="290.7" r="1.0"/><circle cx="202.6" cy="211.7" r="0.6"/><circle cx="229.0" cy="206.0" r="0.9"/><circle cx="228.7" cy="201.2" r="0.6"/><circle cx="177.8" cy="245.4" r="1.0"/><circle cx="237.5" cy="240.3" r="0.5"/><circle cx="209.9" cy="219.7" r="0.7"/><circle cx="251.7" cy="229.5" r="0.7"/><circle cx="223.9" cy="297.8" r="0.5"/><circle cx="215.1" cy="269.2" r="0.6"/><circle cx="162.9" cy="234.3" r="0.7"/><circle cx="226.7" cy="301.7" r="0.9"/><circle cx="198.0" cy="304.7" r="1.1"/><circle cx="199.1" cy="248.8" r="0.8"/><circle cx="163.3" cy="267.3" r="0.9"/><circle cx="202.9" cy="261.0" r="1.0"/><circle cx="218.5" cy="272.0" r="1.0"/><circle cx="230.5" cy="247.5" r="1.1"/><circle cx="253.3" cy="207.5" r="1.1"/><circle cx="169.8" cy="292.2" r="0.9"/><circle cx="235.6" cy="235.7" r="0.7"/><circle cx="170.9" cy="211.9" r="0.6"/><circle cx="170.1" cy="285.9" r="0.8"/><circle cx="243.9" cy="303.6" r="0.8"/><circle cx="170.9" cy="294.0" r="0.6"/><circle cx="207.0" cy="288.6" r="0.6"/><circle cx="180.7" cy="268.1" r="0.6"/><circle cx="244.6" cy="278.2" r="0.8"/><circle cx="235.2" cy="213.8" r="1.0"/><circle cx="209.6" cy="239.7" r="1.0"/><circle cx="200.9" cy="203.6" r="0.9"/><circle cx="155.9" cy="258.6" r="0.6"/><circle cx="196.0" cy="243.5" r="0.9"/><circle cx="220.2" cy="236.3" r="0.6"/><circle cx="235.3" cy="205.9" r="0.9"/><circle cx="229.8" cy="265.6" r="0.5"/><circle cx="160.8" cy="267.1" r="1.0"/><circle cx="219.8" cy="303.4" r="0.9"/><circle cx="197.6" cy="300.5" r="0.6"/><circle cx="163.9" cy="240.4" r="0.5"/><circle cx="212.7" cy="255.6" r="0.6"/><circle cx="217.3" cy="248.8" r="0.9"/><circle cx="236.6" cy="283.7" r="0.9"/><circle cx="162.7" cy="259.8" r="0.9"/><circle cx="172.9" cy="238.4" r="0.8"/><circle cx="181.0" cy="207.7" r="0.7"/><circle cx="196.3" cy="281.0" r="1.1"/><circle cx="242.5" cy="293.6" r="1.1"/><circle cx="206.8" cy="264.6" r="0.5"/><circle cx="229.1" cy="287.6" r="0.7"/><circle cx="217.2" cy="209.2" r="1.1"/><circle cx="197.9" cy="247.6" r="0.6"/><circle cx="245.1" cy="300.0" r="0.7"/><circle cx="208.0" cy="229.4" r="0.9"/><circle cx="218.3" cy="288.7" r="0.5"/><circle cx="205.9" cy="301.7" r="0.5"/><circle cx="218.9" cy="238.9" r="0.6"/><circle cx="184.1" cy="301.1" r="0.6"/><circle cx="202.8" cy="290.9" r="0.6"/><circle cx="154.4" cy="262.9" r="0.9"/><circle cx="156.0" cy="287.8" r="1.0"/><circle cx="215.7" cy="224.8" r="1.1"/><circle cx="175.6" cy="304.9" r="0.8"/><circle cx="249.2" cy="256.8" r="0.9"/><circle cx="252.8" cy="245.4" r="0.7"/><circle cx="255.5" cy="304.4" r="0.6"/><circle cx="243.9" cy="279.7" r="0.6"/><circle cx="177.0" cy="205.1" r="1.0"/><circle cx="160.7" cy="287.7" r="1.0"/><circle cx="257.6" cy="210.9" r="1.0"/><circle cx="160.9" cy="210.8" r="1.0"/><circle cx="167.0" cy="277.1" r="1.1"/></g>
<g fill="#e8c838" stroke="#e8c838" stroke-width="1.0" stroke-linecap="round" opacity="0.8"><path d="M203.6,243.8l-3.9,0.2"/><circle cx="226.0" cy="246.3" r="1.0"/><path d="M232.7,213.7l0.5,2.8"/><circle cx="169.0" cy="207.8" r="0.9"/><path d="M228.1,289.2l3.0,3.0"/><circle cx="234.9" cy="276.8" r="0.6"/><path d="M249.6,217.2l1.2,4.7"/><circle cx="208.5" cy="206.7" r="0.9"/><circle cx="218.7" cy="226.5" r="0.6"/><circle cx="233.9" cy="227.8" r="0.9"/><path d="M185.6,216.9l-0.2,3.1"/><circle cx="201.0" cy="256.4" r="0.8"/><circle cx="254.3" cy="221.4" r="0.8"/><path d="M200.2,235.3l4.3,2.2"/><circle cx="199.8" cy="302.9" r="0.9"/><path d="M191.3,252.6l2.7,0.6"/><circle cx="220.4" cy="303.7" r="1.0"/><path d="M207.0,271.0l-2.0,3.8"/><circle cx="225.4" cy="274.5" r="1.0"/><path d="M217.2,252.2l2.2,2.1"/><circle cx="249.8" cy="221.5" r="0.8"/><circle cx="205.1" cy="208.8" r="0.9"/><circle cx="166.7" cy="250.0" r="0.6"/><circle cx="256.7" cy="245.6" r="0.6"/><path d="M169.2,253.7l1.5,4.6"/><path d="M206.8,222.4l1.4,2.0"/><path d="M172.5,277.4l1.7,2.9"/><path d="M250.1,209.5l-2.8,0.8"/><path d="M179.5,291.4l2.4,1.8"/><path d="M219.7,207.0l-1.5,2.5"/><circle cx="163.3" cy="272.0" r="0.8"/><circle cx="229.3" cy="216.7" r="0.9"/><circle cx="225.7" cy="293.5" r="0.8"/><circle cx="189.4" cy="292.7" r="0.7"/><circle cx="169.1" cy="246.1" r="0.6"/><circle cx="219.4" cy="293.2" r="0.8"/><path d="M246.1,300.2l3.6,2.3"/><path d="M190.7,235.0l-3.7,2.4"/><path d="M168.4,223.0l-0.9,2.9"/><circle cx="197.7" cy="275.1" r="0.9"/><circle cx="249.3" cy="272.6" r="0.9"/><path d="M174.6,280.6l-2.7,2.7"/><path d="M226.1,280.5l-4.1,1.2"/><circle cx="228.2" cy="207.9" r="1.0"/><path d="M161.5,291.0l-2.3,0.8"/><circle cx="228.6" cy="222.0" r="0.9"/><path d="M218.8,260.8l-2.7,1.3"/><circle cx="255.3" cy="289.2" r="0.7"/><path d="M205.6,241.1l1.4,1.8"/><circle cx="161.8" cy="212.0" r="0.8"/><path d="M236.7,238.7l-3.5,0.5"/><circle cx="187.8" cy="233.3" r="0.9"/><circle cx="215.3" cy="299.6" r="0.9"/><circle cx="169.6" cy="297.7" r="0.7"/><path d="M257.9,206.5l4.9,1.0"/><path d="M196.9,283.1l-3.5,1.0"/><circle cx="197.4" cy="278.1" r="0.9"/><circle cx="174.5" cy="275.6" r="0.6"/><path d="M200.1,223.5l0.4,2.0"/><path d="M175.6,237.2l0.2,4.2"/><path d="M197.7,229.4l3.1,2.9"/><circle cx="165.5" cy="273.6" r="0.9"/><circle cx="211.4" cy="208.8" r="1.0"/><path d="M241.2,268.2l-3.9,3.1"/><path d="M245.4,252.0l-2.8,0.5"/><path d="M257.0,285.9l-2.2,3.4"/><circle cx="164.0" cy="275.9" r="1.0"/><path d="M238.2,291.8l-0.9,2.7"/><path d="M204.3,291.9l-2.0,2.5"/><circle cx="235.4" cy="266.3" r="0.9"/></g>
<g fill="#e0f0f8" stroke="#e0f0f8" stroke-width="0.8" stroke-linecap="round" opacity="0.75"><circle cx="213.0" cy="210.2" r="0.6"/><path d="M206.8,210.9l3.4,1.6"/><circle cx="227.2" cy="282.3" r="0.8"/><path d="M202.7,294.3l-3.1,2.3"/><path d="M172.0,277.3l0.6,4.2"/><circle cx="177.1" cy="239.3" r="0.8"/><path d="M224.6,264.8l-0.9,2.7"/><circle cx="237.3" cy="265.8" r="0.6"/><path d="M185.2,232.1l2.5,1.9"/><path d="M253.5,260.5l3.1,1.2"/><circle cx="159.6" cy="295.7" r="0.5"/><circle cx="215.9" cy="242.4" r="0.6"/><circle cx="214.8" cy="216.5" r="0.6"/><path d="M206.1,293.1l-3.6,2.3"/><path d="M153.5,209.5l0.9,3.4"/><circle cx="244.4" cy="225.8" r="0.8"/><circle cx="227.8" cy="206.2" r="0.8"/><path d="M217.6,241.0l-3.3,1.3"/><circle cx="181.2" cy="264.1" r="0.5"/><circle cx="222.5" cy="253.6" r="0.6"/><path d="M196.5,266.1l-4.1,0.7"/><circle cx="184.5" cy="201.7" r="0.8"/><path d="M162.8,279.5l0.1,4.4"/><circle cx="173.8" cy="288.0" r="0.5"/><path d="M203.2,296.8l3.5,0.5"/><path d="M201.8,245.4l0.9,3.0"/><circle cx="243.5" cy="283.5" r="0.7"/><circle cx="156.8" cy="252.3" r="0.8"/><path d="M193.5,297.8l-1.8,1.7"/><path d="M193.8,257.9l-0.3,3.2"/><circle cx="157.3" cy="231.7" r="0.7"/><circle cx="203.6" cy="221.4" r="0.5"/><circle cx="253.5" cy="290.9" r="0.9"/><circle cx="230.1" cy="253.0" r="0.8"/><circle cx="240.7" cy="282.7" r="0.8"/><path d="M175.2,283.0l1.8,1.1"/><circle cx="224.4" cy="270.6" r="0.5"/><path d="M251.4,303.9l-1.5,1.6"/><circle cx="199.6" cy="238.1" r="0.8"/><circle cx="194.6" cy="216.6" r="0.5"/><path d="M197.1,275.9l-4.6,1.7"/><path d="M247.7,256.1l-1.7,3.7"/><circle cx="170.6" cy="257.0" r="0.7"/><path d="M204.3,252.8l2.6,1.4"/><circle cx="258.6" cy="278.7" r="0.8"/><circle cx="235.9" cy="234.0" r="0.6"/><path d="M153.8,225.4l-2.0,4.5"/><path d="M256.3,204.5l3.3,3.6"/><path d="M154.5,297.8l4.6,1.2"/><path d="M241.0,261.0l2.9,0.3"/><circle cx="219.8" cy="235.2" r="0.6"/><path d="M161.8,263.4l1.9,1.3"/><path d="M240.1,225.0l-2.2,1.4"/><circle cx="214.3" cy="208.4" r="0.8"/><circle cx="177.4" cy="212.9" r="0.5"/><circle cx="158.2" cy="211.2" r="0.8"/><path d="M247.7,240.9l-4.5,0.4"/><path d="M175.8,273.2l4.2,0.6"/><path d="M241.2,280.5l2.1,0.5"/><path d="M152.8,257.7l-2.0,1.1"/><path d="M195.7,213.7l2.2,1.7"/><circle cx="174.6" cy="282.5" r="0.6"/><path d="M166.9,269.6l2.9,1.5"/><path d="M154.2,297.4l-0.9,2.0"/><path d="M241.2,220.6l0.5,2.5"/><circle cx="198.8" cy="301.1" r="0.8"/><circle cx="229.3" cy="229.0" r="0.7"/><circle cx="187.5" cy="220.0" r="0.9"/><path d="M251.1,216.1l-2.2,2.1"/><circle cx="202.0" cy="249.0" r="0.5"/><path d="M207.7,225.9l2.5,3.0"/><path d="M241.6,260.8l-2.8,3.2"/><path d="M175.1,291.0l-3.0,3.1"/><path d="M177.1,303.0l3.0,3.7"/><path d="M184.8,292.4l3.7,1.8"/><circle cx="182.8" cy="256.5" r="0.6"/><path d="M212.6,297.2l3.7,2.8"/><circle cx="245.3" cy="222.2" r="0.8"/><path d="M178.2,200.3l-0.9,2.0"/><path d="M163.1,252.7l2.6,1.9"/><circle cx="247.4" cy="296.2" r="0.8"/><circle cx="178.2" cy="201.1" r="0.7"/><circle cx="235.9" cy="214.3" r="0.6"/><path d="M179.8,236.2l-2.1,2.2"/><path d="M221.9,296.0l1.9,4.5"/><circle cx="210.5" cy="220.2" r="0.6"/><circle cx="243.3" cy="294.7" r="0.6"/><circle cx="187.1" cy="259.0" r="0.9"/><path d="M225.6,237.2l-3.4,0.4"/><circle cx="171.7" cy="284.2" r="0.7"/><circle cx="156.3" cy="225.5" r="0.6"/><circle cx="219.8" cy="211.9" r="0.7"/><circle cx="209.0" cy="261.1" r="0.6"/><circle cx="234.4" cy="304.0" r="0.5"/><circle cx="246.2" cy="304.8" r="0.9"/><circle cx="215.6" cy="294.6" r="0.5"/><circle cx="241.8" cy="248.5" r="0.8"/><path d="M152.1,219.5l-0.2,4.2"/><circle cx="217.2" cy="262.1" r="0.6"/><path d="M218.5,223.8l-1.9,4.4"/><path d="M169.7,229.1l1.1,3.2"/><circle cx="154.0" cy="240.3" r="0.5"/><path d="M257.6,281.0l-1.5,2.3"/><path d="M228.9,225.2l-1.2,4.0"/><circle cx="210.3" cy="225.8" r="0.6"/><circle cx="205.5" cy="243.3" r="0.5"/><path d="M258.1,236.8l4.1,2.3"/><circle cx="172.1" cy="223.4" r="0.6"/><circle cx="217.8" cy="273.3" r="0.7"/><path d="M220.8,275.7l4.1,1.2"/><circle cx="165.9" cy="275.8" r="0.8"/><path d="M229.8,280.9l-3.1,1.0"/><path d="M223.7,250.1l1.4,2.7"/><circle cx="215.6" cy="302.9" r="0.6"/><circle cx="163.0" cy="267.9" r="0.7"/><path d="M190.2,237.9l0.2,2.5"/><circle cx="167.7" cy="253.1" r="0.7"/><circle cx="185.7" cy="283.8" r="0.7"/><circle cx="255.3" cy="237.8" r="0.8"/><path d="M205.2,281.8l-0.0,2.7"/></g>
<g fill="none" stroke="#d8ecf4" stroke-width="1.2" opacity="0.85" filter="url(#soft0)"><path d="M160,244 l6,6 l-2,8"/><path d="M170,262 l8,2"/><path d="M186,250 l6,-4 l4,4"/><path d="M196,236 l8,-2"/><path d="M240,240 l6,6 l-2,8"/><path d="M250,262 l-6,6"/><path d="M206,262 l5,6"/><path d="M178,276 l6,4"/><path d="M238,286 l8,4"/><path d="M158,268 l-3,8"/><path d="M244,206 l6,3"/><path d="M190,212 l6,-3"/><path d="M226,252 l4,8 l6,2"/><path d="M160,290 l6,-2"/><path d="M208,226 l-5,5"/><path d="M252,222 l-3,6"/></g>
<g fill="none" stroke="#e0cc40" stroke-width="1.6" opacity="0.9" filter="url(#soft0)"><path d="M154,240 l0,18"/><path d="M171,243 l3,9"/><path d="M182,246 l6,9"/><path d="M187,261 l6,3"/><path d="M167,281 l4,6 l2,6"/><path d="M200,281 l2,8 l6,5 M202,289 l-4,4"/><path d="M221,286 l3,8 l4,6"/><path d="M240,230 l6,-2"/><path d="M198,204 l3,6"/></g>
<path d="M153,199 L172,199 L182,206 L182,226 L174,236 L157,236 L153,228z" fill="#e8e8f0" filter="url(#soft)"/>
<path d="M171,199 L180,199 L182,208 L176,209z" fill="#ecdc50" opacity="0.85" filter="url(#soft)"/>
<path d="M153,210 L159,212 L159,228 L153,229z" fill="#e6d850" opacity="0.85" filter="url(#soft)"/>
<path d="M154,228 L172,229 L174,236 L156,237z" fill="#e8da58" opacity="0.85" filter="url(#soft)"/>
<path d="M159,203 L172,202 L179,209 L179,225 L172,231 L160,229 L158,215z" fill="#fffef2" filter="url(#soft)"/>
<path d="M153,200 L164,200 L164,210 L153,210z" fill="#6e6e80" filter="url(#soft)"/>
<path d="M218,214 Q227,232 237,214 L237,221 Q228,233 219,222 Z" fill="#f4f8fc" filter="url(#soft0)"/>
<path d="M222,225 L217,233 L213,241 L210,243" fill="none" stroke="#e4f0f8" stroke-width="2.2" filter="url(#soft0)"/>
<ellipse cx="227" cy="215.5" rx="7" ry="6.8" fill="#241210" filter="url(#soft)"/>
<g filter="url(#soft)"><path d="M233,268 l9,-3 l2,8 l-5,8 l-6,-4z" fill="#e0a020"/><path d="M215,261 l6,-1 l1,5 l-6,1z" fill="#e8c830"/><path d="M200,209 l5,-1 l1,5 l-5,1z" fill="#e8c830"/><path d="M251,227 l5,0 l0,4 l-5,0z" fill="#e0c840"/><path d="M180,236 l10,2 l2,8 l-10,0z" fill="#5a2a60" opacity="0.6"/></g>
</g></g>
<rect x="38.80" y="198.90" width="106.80" height="106.70" fill="none" stroke="#000" stroke-width="1.6"/>
<rect x="151.90" y="199.20" width="107.20" height="106.00" fill="none" stroke="#000" stroke-width="1.6"/>
<text transform="translate(41.00 215.80) scale(1.000 1.220)" font-size="14.5" font-weight="bold" text-anchor="start" fill="#fff">C</text>
<text transform="translate(42.30 302.40)" font-size="11" font-weight="bold" text-anchor="start" fill="#fff">WT</text>
<line x1="108.00" y1="297.40" x2="133.50" y2="297.40" stroke="#fff" stroke-width="1.2" stroke-linecap="butt"/>
<text transform="translate(155.40 208.60)" font-size="8.6" font-weight="bold" text-anchor="start" fill="#fff">D</text>
<text transform="translate(153.60 302.90)" font-size="11" font-weight="bold" text-anchor="start" fill="#fff">cKO P2</text>
<line x1="232.00" y1="297.00" x2="252.00" y2="297.00" stroke="#fff" stroke-width="1.2" stroke-linecap="butt"/>
</svg>
</body></html>
